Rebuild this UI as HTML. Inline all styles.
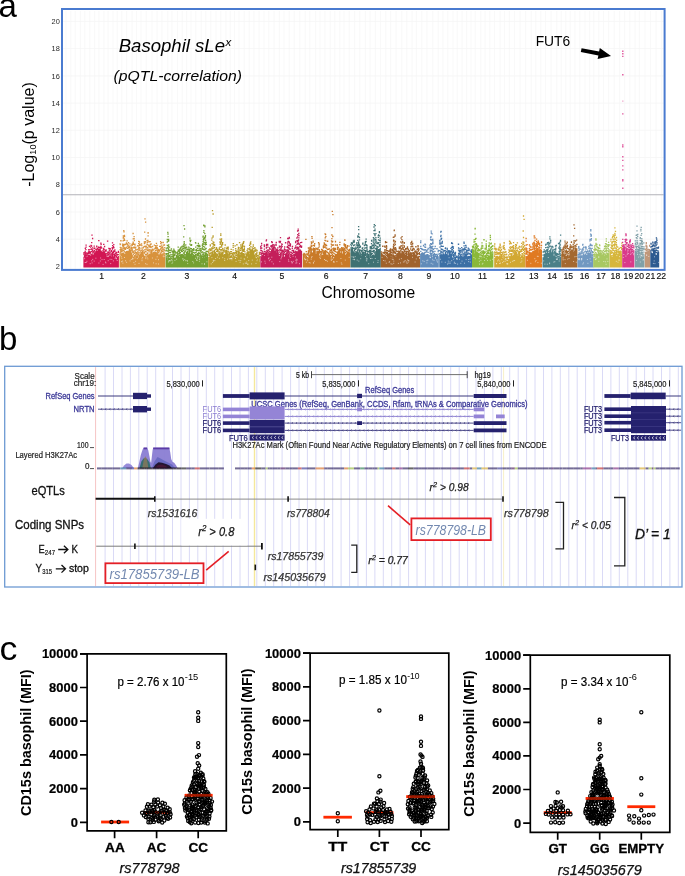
<!DOCTYPE html>
<html><head><meta charset="utf-8">
<style>
html,body{margin:0;padding:0;background:#fff;}
svg{display:block;font-family:"Liberation Sans", sans-serif;will-change:transform;}
</style></head><body>
<svg width="685" height="876" viewBox="0 0 685 876">
<rect width="685" height="876" fill="#fff"/>
<text x="-1.5" y="17.3" font-size="33">a</text>
<path d="M63 239.2H663.6M63 212H663.6M63 184.7H663.6M63 157.5H663.6M63 130.3H663.6M63 103.1H663.6M63 75.9H663.6M63 48.6H663.6M63 21.4H663.6" stroke="#f5f5f5" stroke-width="0.8" fill="none"/>
<path d="M66 11V268.9M70.7 11V268.9M75.2 11V268.9M80.4 11V268.9M84.7 11V268.9M89.8 11V268.9M94.6 11V268.9M98.9 11V268.9M103.9 11V268.9M108.1 11V268.9M113 11V268.9M117.3 11V268.9M121.7 11V268.9M126.6 11V268.9M132.1 11V268.9M136.5 11V268.9M141 11V268.9M146.2 11V268.9M152 11V268.9M157.1 11V268.9M161.9 11V268.9M167.7 11V268.9M171.9 11V268.9M177.5 11V268.9M182.2 11V268.9M186.6 11V268.9M191 11V268.9M195.7 11V268.9M201.2 11V268.9M205.7 11V268.9M210.8 11V268.9M216 11V268.9M220.8 11V268.9M225.9 11V268.9M230.2 11V268.9M234.5 11V268.9M239 11V268.9M244.3 11V268.9M249.2 11V268.9M253.9 11V268.9M259.1 11V268.9M264 11V268.9M268.7 11V268.9M274.1 11V268.9M279.4 11V268.9M284 11V268.9M289.2 11V268.9M294.2 11V268.9M299.8 11V268.9M305.2 11V268.9M309.8 11V268.9M315.6 11V268.9M320 11V268.9M324.9 11V268.9M330.3 11V268.9M334.7 11V268.9M339.7 11V268.9M344 11V268.9M349.2 11V268.9M354.6 11V268.9M359.8 11V268.9M365.4 11V268.9M370.1 11V268.9M375.4 11V268.9M380.5 11V268.9M385.7 11V268.9M390.6 11V268.9M396.1 11V268.9M401.8 11V268.9M406.8 11V268.9M412.1 11V268.9M416.4 11V268.9M421.7 11V268.9M426.9 11V268.9M432.7 11V268.9M438.2 11V268.9M442.9 11V268.9M447.7 11V268.9M453 11V268.9M457.2 11V268.9M462.1 11V268.9M466.6 11V268.9M471 11V268.9M475.3 11V268.9M480.7 11V268.9M485.1 11V268.9M489.7 11V268.9M494.5 11V268.9M500.1 11V268.9M504.5 11V268.9M509.4 11V268.9M514.5 11V268.9M520.1 11V268.9M525.6 11V268.9M531.2 11V268.9M535.8 11V268.9M540.7 11V268.9M545.5 11V268.9M551.1 11V268.9M556.8 11V268.9M561.2 11V268.9M565.7 11V268.9M570.3 11V268.9M574.9 11V268.9M579.8 11V268.9M585 11V268.9M589.6 11V268.9M593.8 11V268.9M598.7 11V268.9M603.5 11V268.9M608.6 11V268.9M614.3 11V268.9M619.6 11V268.9M624.6 11V268.9M629.8 11V268.9M635.1 11V268.9M639.4 11V268.9M645 11V268.9M650.5 11V268.9M656.1 11V268.9M661.6 11V268.9" stroke="#f6f6f6" stroke-width="0.7" fill="none"/>
<path d="M63 194.7H663.6" stroke="#b2b2b8" stroke-width="1.1" fill="none"/>
<text x="59.8" y="269" font-size="7.4" fill="#2a2a2a" text-anchor="end">2</text>
<text x="59.8" y="241.8" font-size="7.4" fill="#2a2a2a" text-anchor="end">4</text>
<text x="59.8" y="214.6" font-size="7.4" fill="#2a2a2a" text-anchor="end">6</text>
<text x="59.8" y="187.3" font-size="7.4" fill="#2a2a2a" text-anchor="end">8</text>
<text x="59.8" y="160.1" font-size="7.4" fill="#2a2a2a" text-anchor="end">10</text>
<text x="59.8" y="132.9" font-size="7.4" fill="#2a2a2a" text-anchor="end">12</text>
<text x="59.8" y="105.7" font-size="7.4" fill="#2a2a2a" text-anchor="end">14</text>
<text x="59.8" y="78.5" font-size="7.4" fill="#2a2a2a" text-anchor="end">16</text>
<text x="59.8" y="51.2" font-size="7.4" fill="#2a2a2a" text-anchor="end">18</text>
<text x="59.8" y="24" font-size="7.4" fill="#2a2a2a" text-anchor="end">20</text>
<text transform="translate(34.2,134.5) rotate(-90)" font-size="16" text-anchor="middle">-Log<tspan font-size="9.2" dy="2.2">10</tspan><tspan dy="-2.2">(p value)</tspan></text>
<text x="118.7" y="52" font-size="18.5" font-style="italic" textLength="106.3" lengthAdjust="spacingAndGlyphs">Basophil sLe</text>
<text x="225.6" y="45.5" font-size="11.5" font-style="italic">x</text>
<text x="113.6" y="81.3" font-size="15.4" font-style="italic" textLength="128.5" lengthAdjust="spacingAndGlyphs">(pQTL-correlation)</text>
<text x="535.7" y="46.3" font-size="14.5" textLength="34.5" lengthAdjust="spacingAndGlyphs">FUT6</text>
<path d="M581.6 48.2L599.1 51.6L599.8 47.9L611 55.9L597.6 59.1L598.4 55.4L580.8 52Z" fill="#000"/>
<text x="101.6" y="279.1" font-size="8.6" fill="#111" text-anchor="middle" stroke="#111" stroke-width="0.15">1</text>
<text x="143.4" y="279.1" font-size="8.6" fill="#111" text-anchor="middle" stroke="#111" stroke-width="0.15">2</text>
<text x="186.8" y="279.1" font-size="8.6" fill="#111" text-anchor="middle" stroke="#111" stroke-width="0.15">3</text>
<text x="234.6" y="279.1" font-size="8.6" fill="#111" text-anchor="middle" stroke="#111" stroke-width="0.15">4</text>
<text x="281.8" y="279.1" font-size="8.6" fill="#111" text-anchor="middle" stroke="#111" stroke-width="0.15">5</text>
<text x="326.1" y="279.1" font-size="8.6" fill="#111" text-anchor="middle" stroke="#111" stroke-width="0.15">6</text>
<text x="365.7" y="279.1" font-size="8.6" fill="#111" text-anchor="middle" stroke="#111" stroke-width="0.15">7</text>
<text x="400.3" y="279.1" font-size="8.6" fill="#111" text-anchor="middle" stroke="#111" stroke-width="0.15">8</text>
<text x="428.8" y="279.1" font-size="8.6" fill="#111" text-anchor="middle" stroke="#111" stroke-width="0.15">9</text>
<text x="454.9" y="279.1" font-size="8.6" fill="#111" text-anchor="middle" stroke="#111" stroke-width="0.15">10</text>
<text x="482.5" y="279.1" font-size="8.6" fill="#111" text-anchor="middle" stroke="#111" stroke-width="0.15">11</text>
<text x="509.9" y="279.1" font-size="8.6" fill="#111" text-anchor="middle" stroke="#111" stroke-width="0.15">12</text>
<text x="533.7" y="279.1" font-size="8.6" fill="#111" text-anchor="middle" stroke="#111" stroke-width="0.15">13</text>
<text x="552" y="279.1" font-size="8.6" fill="#111" text-anchor="middle" stroke="#111" stroke-width="0.15">14</text>
<text x="568.3" y="279.1" font-size="8.6" fill="#111" text-anchor="middle" stroke="#111" stroke-width="0.15">15</text>
<text x="584.6" y="279.1" font-size="8.6" fill="#111" text-anchor="middle" stroke="#111" stroke-width="0.15">16</text>
<text x="601" y="279.1" font-size="8.6" fill="#111" text-anchor="middle" stroke="#111" stroke-width="0.15">17</text>
<text x="615.4" y="279.1" font-size="8.6" fill="#111" text-anchor="middle" stroke="#111" stroke-width="0.15">18</text>
<text x="628.4" y="279.1" font-size="8.6" fill="#111" text-anchor="middle" stroke="#111" stroke-width="0.15">19</text>
<text x="639.3" y="279.1" font-size="8.6" fill="#111" text-anchor="middle" stroke="#111" stroke-width="0.15">20</text>
<text x="650.4" y="279.1" font-size="8.6" fill="#111" text-anchor="middle" stroke="#111" stroke-width="0.15">21</text>
<text x="661.2" y="279.1" font-size="8.6" fill="#111" text-anchor="middle" stroke="#111" stroke-width="0.15">22</text>
<text x="321.5" y="298.2" font-size="15.6" textLength="93.7" lengthAdjust="spacingAndGlyphs">Chromosome</text>
<path d="M84 267.4V256.8M84.7 267.4V257.9M85.3 267.4V253M86 267.4V257.2M86.8 267.4V253.5M87.5 267.4V256.5M88.5 267.4V254.5M89.4 267.4V254.7M90.1 267.4V255.3M90.8 267.4V256M91.7 267.4V253.8M92.7 267.4V254.2M93.3 267.4V254.6M94.4 267.4V252.9M95.3 267.4V252.5M96 267.4V250.8M96.8 267.4V249.1M97.5 267.4V250.7M98.5 267.4V248.6M99.2 267.4V248.9M100.2 267.4V248M101 267.4V250.4M101.8 267.4V251.3M102.8 267.4V251.6M103.8 267.4V250.9M104.6 267.4V251.2M105.4 267.4V253.2M106.1 267.4V257.1M106.9 267.4V253.1M107.8 267.4V257.1M108.4 267.4V257.2M109.1 267.4V253.2M110.1 267.4V256M110.8 267.4V253.7M111.8 267.4V256.9M112.4 267.4V252M113.4 267.4V256.4M114 267.4V253.5M115 267.4V253.5M115.6 267.4V258M116.6 267.4V259.3M117.4 267.4V256.9M118.3 267.4V256.1" stroke="#d21653" stroke-width="1.2" fill="none"/>
<path d="M84 254.7h0M83.8 253h0M84.6 256.3h0M84.8 255.1h0M84.6 253.1h0M84.9 252.6h0M85.2 251.3h0M85.3 248.3h0M86.1 255.3h0M86 253h0M85.9 249.7h0M86.1 247.1h0M86.1 245.2h0M86.8 253.2h0M87.5 255.2h0M87.4 253.6h0M87.4 253.1h0M88.6 253.3h0M88.5 252h0M88.6 249.9h0M89.2 252.2h0M89.3 251.3h0M89.2 249.7h0M89.5 246.4h0M90 253.5h0M90.1 252.7h0M91 254.8h0M90.6 252.9h0M90.7 251.9h0M90.9 249.4h0M90.6 247.2h0M91 245.3h0M91.7 251.3h0M91.6 249h0M91.5 246h0M91.6 246h0M92.8 253h0M92.6 250h0M92.7 247.8h0M93.1 252.6h0M93.2 251.4h0M94.5 252h0M94.2 248.5h0M94.2 246.1h0M95.3 252.1h0M96 249.4h0M95.9 249.4h0M96.8 246.8h0M96.7 246.2h0M97.3 249.2h0M97.4 248.7h0M99.4 247.7h0M99.2 247.5h0M100.2 247.6h0M101.2 247.6h0M100.9 246.4h0M101.1 244.3h0M100.9 243.2h0M101.8 248.1h0M103 250.3h0M103.7 249.5h0M103.7 248.5h0M103.7 244.3h0M103.8 244.3h0M104.5 249.9h0M104.6 246.5h0M105.6 251.1h0M105.6 250.6h0M105.9 255.9h0M106 253.3h0M106.1 251h0M106.1 249.9h0M107.7 255.2h0M107.9 253.7h0M107.8 252.7h0M108 252h0M108.6 254.7h0M108.4 252.7h0M109.3 250.8h0M108.9 248.5h0M109.9 253.4h0M109.9 252.3h0M110 250h0M110.2 248.7h0M110.9 251.9h0M111.9 256h0M111.7 254h0M111.8 251.4h0M111.6 250.6h0M112.4 249h0M112.2 247.6h0M112.6 245.7h0M112.5 242.8h0M113.5 254.2h0M113.4 252.4h0M113.6 251.2h0M113.6 247.9h0M113.5 246.6h0M114.2 250.8h0M113.9 247.6h0M113.8 244.7h0M114.9 251.5h0M114.9 249.8h0M115.5 255.7h0M115.6 253.6h0M115.6 253.1h0M116.5 257.2h0M116.6 256.2h0M116.6 254h0M116.6 252.4h0M117.2 254.8h0M117.4 254.7h0M118.2 254.6h0M118.3 252.3h0M118.5 251.4h0M92 235.1h0M92.6 238.5h0M91.7 242.6h0" stroke="#d21653" stroke-width="1.3" stroke-linecap="square" fill="none"/>
<path d="M94.7 248.3h0M98.4 247.2h0M94.5 250.6h0M98.8 240.6h0M107.6 241.1h0" stroke="#d21653" stroke-width="1.4" stroke-linecap="square" fill="none"/>
<path d="M105.5 262.1h0M103.1 264.4h0M94.2 261.1h0M104.2 259.5h0M100.3 261h0M91.7 260.8h0M115.2 258.4h0M90.2 263.7h0M102 259.6h0M95.9 258.2h0M110.1 259.3h0M92.1 262.9h0M85.2 262.5h0M100.6 258h0M86.9 261.3h0M105.9 262.9h0M108.2 260.7h0M92.7 259.4h0M84.6 258.7h0M110.7 263.6h0M98.9 263h0M117.2 260.5h0M86.1 262.5h0M113.4 260.9h0M111.8 259.4h0" stroke="#fff" stroke-opacity="0.55" stroke-width="1" stroke-linecap="square" fill="none"/>
<path d="M120.1 267.4V252.1M120.9 267.4V256.3M121.6 267.4V253.3M122.4 267.4V252.8M123.3 267.4V252.5M123.9 267.4V253.2M124.5 267.4V253.9M125.4 267.4V253.3M126.3 267.4V250.9M127.3 267.4V250.7M128.3 267.4V250.8M129.3 267.4V248.4M130.1 267.4V248.8M130.8 267.4V250M131.6 267.4V252.8M132.3 267.4V255M133.2 267.4V256.7M134.2 267.4V254.7M134.9 267.4V258.4M135.8 267.4V253.6M136.8 267.4V256M137.8 267.4V252.5M138.6 267.4V257.6M139.5 267.4V255.1M140.1 267.4V254M140.9 267.4V252M141.7 267.4V251.7M142.6 267.4V251.1M143.4 267.4V254.2M144.4 267.4V255.7M145.3 267.4V257.6M146.2 267.4V256.2M147.2 267.4V257.8M148 267.4V255M148.9 267.4V253.8M150 267.4V253.5M151 267.4V249.5M152 267.4V249.2M152.7 267.4V253.2M153.5 267.4V251.8M154.5 267.4V251.4M155.4 267.4V251.4M156.4 267.4V252.3M157.3 267.4V249.8M158.2 267.4V253.6M158.9 267.4V254.9M159.8 267.4V253.5M160.8 267.4V252.2M161.4 267.4V254.2M162.3 267.4V253.5M163.1 267.4V257.2M164 267.4V251.9M164.7 267.4V256.9" stroke="#d8923c" stroke-width="1.2" fill="none"/>
<path d="M120.2 249.7h0M120.3 247.3h0M120.3 244.6h0M120.1 243.8h0M120.9 254.1h0M120.8 252h0M120.8 250.9h0M120.8 249.4h0M120.7 249h0M121.6 251.6h0M121.5 249.6h0M121.7 247.8h0M122.2 251h0M122.5 249.2h0M122.6 245.7h0M122.5 244.1h0M123.1 250.6h0M123.4 248.9h0M123.1 246.8h0M123.1 244.3h0M123.1 240.9h0M123.3 238.2h0M123.3 237.3h0M123.3 235.9h0M123.9 250.6h0M124 247.7h0M123.7 246h0M123.9 245.1h0M123.8 240.4h0M124 236.4h0M124 231.9h0M123.8 230.6h0M124.4 251.8h0M124.6 249.2h0M124.6 247.8h0M124.4 244.5h0M124.7 240.4h0M124.3 239h0M124.6 236.6h0M124.5 235.5h0M125.5 252.3h0M125.5 249.3h0M125.6 248.1h0M125.4 244.7h0M125.4 244.3h0M126.3 247.4h0M126.3 243.7h0M126.4 243h0M127.3 248.4h0M127.4 246.1h0M127.4 244.3h0M127.1 240.8h0M128.2 248.2h0M128.4 247.3h0M128.2 245.9h0M128.2 245.1h0M129.5 247.6h0M129.4 246.9h0M130.1 245.9h0M129.9 243.9h0M130.8 248.2h0M131.6 250.2h0M131.5 248.7h0M131.5 247.2h0M131.8 245h0M132.3 252.2h0M132.2 250.6h0M132.2 249.3h0M132.1 247.9h0M132.2 245.3h0M132.4 244h0M133.3 254.4h0M133.2 252.6h0M133.1 251.3h0M133.2 247.9h0M133.2 244.3h0M133.3 243.2h0M133.1 242.2h0M133.2 238.8h0M133.1 233.5h0M134.2 252.8h0M134.3 250.9h0M134.1 247.3h0M134.2 244.3h0M134.4 240.5h0M134.1 238.7h0M134.1 236.7h0M134.8 256.8h0M134.9 255.6h0M134.8 253.4h0M135 251h0M134.9 248h0M135 245h0M134.9 244.1h0M135.7 252.4h0M135.8 249.7h0M135.6 248h0M135.8 247.1h0M136.8 255.1h0M136.7 253.6h0M137 252.6h0M136.8 249.8h0M137.9 251.6h0M137.9 249.5h0M137.7 245.9h0M137.9 245.7h0M138.8 255.8h0M138.7 254.3h0M138.8 252.9h0M138.7 250.1h0M138.6 248h0M138.8 246.1h0M138.6 243.7h0M138.7 241.3h0M139.5 252.8h0M139.4 250.2h0M139.6 247.7h0M139.6 245.4h0M139.7 244.1h0M139.4 242h0M140.3 251h0M140 248.9h0M140.1 245.4h0M140.1 244.7h0M141 250.8h0M141.8 250.1h0M141.9 248.1h0M141.8 245.6h0M141.6 244h0M142.5 249.9h0M143.5 253h0M143.3 250.8h0M143.2 247.8h0M143.5 247.2h0M144.4 253h0M144.4 252.1h0M144.5 249.8h0M144.4 246.3h0M144.4 243.6h0M144.3 242h0M145.3 256.2h0M145.4 254.3h0M145.4 251.6h0M145.2 249.8h0M145.4 246.8h0M145.1 242.8h0M145.3 241.7h0M145.5 239h0M146.3 254.6h0M146 251.8h0M146.1 248.9h0M146.1 246.9h0M146.2 246.2h0M147.3 256.6h0M147.1 255.6h0M147.1 254.3h0M147.3 253.4h0M147.2 250.5h0M147.1 249.3h0M147.2 247.4h0M147.1 244.3h0M147.3 242.5h0M147.1 240.8h0M147.1 240.7h0M147.9 252.9h0M148.1 250.7h0M147.8 247.8h0M148 244.9h0M147.9 240.5h0M148.1 235.9h0M148.1 233h0M148.1 232.6h0M149 251h0M148.9 249.3h0M149 246.7h0M148.9 245.6h0M148.8 241.9h0M149 241.8h0M150.1 252.1h0M150.1 250h0M149.9 247h0M150.2 245.8h0M150.2 244.4h0M150.1 241.7h0M151.1 247.5h0M151 246.7h0M151.1 244.2h0M151.1 243.9h0M152.6 250.2h0M152.8 249.2h0M152.6 246.5h0M153.3 250h0M154.6 248.8h0M154.4 245.2h0M155.4 250.3h0M155.6 248.3h0M155.4 247.3h0M155.6 245.6h0M156.6 250.1h0M156.4 248.2h0M156.2 246.8h0M156.4 243.4h0M157.4 248.9h0M157.1 247.4h0M157.1 245.4h0M158.2 250.8h0M158.4 249.6h0M158.4 249.4h0M158.7 252.7h0M159 251.9h0M158.8 250.4h0M158.7 250h0M159.8 250.9h0M159.8 249.8h0M159.7 246.3h0M160.6 249h0M160.8 246.6h0M160.8 243.3h0M160.6 241.7h0M161.4 252h0M161.6 250.3h0M161.4 248h0M161.3 245.1h0M161.6 242.7h0M162.2 251.6h0M162.3 249.9h0M162.2 247.8h0M162.4 246.9h0M162.9 255.1h0M163.2 254h0M163.1 251.4h0M163.1 249h0M162.9 247.2h0M163.2 245.1h0M163.2 242.5h0M164 250.2h0M164.1 249.4h0M164.8 255.5h0M164.8 253.6h0M164.9 250.8h0M164.8 247.7h0M164.5 245h0M145 218.8h0M145.6 222.2h0M144.7 232.2h0" stroke="#d8923c" stroke-width="1.3" stroke-linecap="square" fill="none"/>
<path d="M157.1 248.2h0M128.5 242.8h0M134.2 247.3h0M120.9 240.8h0M145.5 246.5h0M126.8 243.7h0" stroke="#d8923c" stroke-width="1.4" stroke-linecap="square" fill="none"/>
<path d="M121.9 258.3h0M130.1 260.9h0M135.6 261.3h0M152.4 258h0M145.6 263.7h0M122.9 263.1h0M147.8 258.9h0M132.6 259h0M142 260.7h0M132.6 258.2h0M125.6 260.8h0M133.1 258.8h0M142 258.9h0M122.6 261.1h0M147 264.3h0M133.9 262.6h0M126.6 262.3h0M135 264.3h0M153.5 262.9h0M137.3 258.6h0M142.6 257.6h0M156.1 263.8h0M158.5 264h0M121.4 256.8h0M158.5 259.7h0M145.8 258.6h0M139 263.4h0M121.5 261.7h0M155.9 259.3h0M157.2 256.8h0M124.5 257.5h0M131.3 259.5h0" stroke="#fff" stroke-opacity="0.55" stroke-width="1" stroke-linecap="square" fill="none"/>
<path d="M166.2 267.4V255.9M167.1 267.4V257.7M168 267.4V259.4M168.6 267.4V255.5M169.6 267.4V257.8M170.3 267.4V257.2M171.1 267.4V259.8M172.1 267.4V261M172.9 267.4V258.4M173.6 267.4V254.3M174.3 267.4V257.8M175.3 267.4V257.4M176.4 267.4V255.1M177.3 267.4V252.1M178.2 267.4V256M178.8 267.4V255.1M179.7 267.4V257M180.5 267.4V254.3M181.5 267.4V253.9M182.4 267.4V254M183.4 267.4V254.5M184.2 267.4V251.5M184.9 267.4V256.5M185.8 267.4V254.1M186.6 267.4V252.1M187.4 267.4V251M188.2 267.4V252.9M188.9 267.4V249.1M189.8 267.4V249.1M190.6 267.4V254M191.5 267.4V252.3M192.4 267.4V255.5M193.1 267.4V253.8M193.8 267.4V254.6M194.7 267.4V255.1M195.6 267.4V259M196.4 267.4V259.4M197.3 267.4V258.5M198.3 267.4V257M199 267.4V255.3M199.9 267.4V259.4M200.7 267.4V253.8M201.4 267.4V255.2M202.4 267.4V257.7M203.1 267.4V252.4M203.8 267.4V255.6M204.7 267.4V257.5M205.4 267.4V252.3M206.2 267.4V257M206.8 267.4V254.3M207.5 267.4V254" stroke="#74a032" stroke-width="1.2" fill="none"/>
<path d="M166.2 254.7h0M166.2 253.7h0M166.1 250.6h0M166.3 248.8h0M167.2 255.8h0M167 253.6h0M167.1 250.9h0M167.2 247.7h0M167.3 245.3h0M167.2 242.1h0M167.3 239.5h0M167.9 258.2h0M168 257.2h0M168 255.9h0M168.1 254.9h0M168.1 253.9h0M168 251h0M168 248.6h0M168.1 245.9h0M168 241.4h0M168.1 236.7h0M168 234h0M167.8 232.4h0M168.5 253.6h0M168.6 252.2h0M168.7 250.1h0M168.6 248.8h0M168.6 247h0M168.7 244.9h0M168.7 240.8h0M168.5 239.6h0M168.6 239.5h0M169.6 256.4h0M169.5 255.3h0M169.7 252.3h0M169.6 250.4h0M169.5 247.1h0M170.4 254.9h0M170.4 252.5h0M170.3 250.4h0M171.3 258.7h0M171 257.2h0M170.9 256.8h0M172.2 259.2h0M172 258.3h0M171.9 256.3h0M171.9 254.7h0M172.2 251.9h0M171.9 250.7h0M172.9 257.2h0M173 255.9h0M172.9 254.1h0M173 252.5h0M173 251.6h0M173.6 252.8h0M173.8 250.6h0M173.8 249.2h0M174.3 255.5h0M174.4 254.5h0M174.2 251.6h0M174.2 250.5h0M175.2 254.9h0M175.3 253h0M175.1 252.1h0M175.2 251.4h0M176.5 252.9h0M177.4 251.9h0M178 254.2h0M178.1 253.2h0M178.2 250.2h0M178.2 247.1h0M178.8 254.2h0M178.8 251.4h0M179 250.9h0M179.5 255.7h0M179.7 254h0M179.7 252.6h0M179.5 250h0M179.5 249.5h0M180.5 252.6h0M180.7 250h0M180.3 248.4h0M180.5 248h0M181.4 251.3h0M181.5 250.3h0M181.3 246.9h0M181.4 246.9h0M182.4 251.3h0M182.2 249.6h0M182.2 248.1h0M182.4 246.2h0M183.4 253.2h0M183.6 250.3h0M183.3 248.5h0M183.6 246.3h0M183.6 244.8h0M184.2 248h0M184.3 244.2h0M184.2 243.1h0M184.2 241.7h0M184.9 254.5h0M184.9 252h0M185.1 251.1h0M185.1 249.2h0M185.1 247.5h0M184.8 245.8h0M185.7 250.9h0M185.9 248.2h0M185.6 247.3h0M185.8 244.8h0M186.8 249.4h0M186.7 247.3h0M186.6 247.1h0M187.5 249.9h0M187.3 249.3h0M188.1 249.4h0M188.2 248.8h0M188.7 247.2h0M189.8 248.1h0M189.9 244.1h0M190 240.1h0M189.9 238.1h0M190.4 251.2h0M190.6 248.7h0M190.6 245.1h0M190.4 241.7h0M190.8 240.4h0M191.7 251.3h0M191.5 248.6h0M191.5 245.4h0M191.6 244.7h0M192.3 254.6h0M192.3 253.4h0M192.5 251.8h0M192.6 249.9h0M192.6 249.6h0M193.1 252.6h0M193.1 250.4h0M193.3 249.7h0M193.9 252.3h0M193.9 250h0M193.6 249h0M193.8 248.6h0M194.7 253.1h0M195.7 257h0M195.4 255.6h0M195.6 254.7h0M195.5 252.7h0M195.5 250.2h0M195.7 247.1h0M195.8 243.1h0M195.5 242.7h0M196.3 258.3h0M196.4 257h0M196.3 255h0M196.3 252.2h0M196.5 250.5h0M196.5 249.7h0M197.4 257.6h0M197.4 255.9h0M197.2 254.7h0M197.3 253.7h0M197.3 250.7h0M197.3 248.4h0M197.2 245.7h0M198.3 255.5h0M198.3 254.2h0M198.3 253.2h0M198.2 250.4h0M198.3 246.5h0M198.4 245.2h0M198.4 243.3h0M199 253.4h0M198.9 252.5h0M199 250.7h0M199.1 248.5h0M198.9 246.7h0M200 258.1h0M200 256.4h0M200 255h0M200 253.3h0M199.9 250h0M200 246.6h0M199.7 245.4h0M200.7 251h0M200.7 248.6h0M201.2 252.5h0M201.2 250.5h0M202.5 256.6h0M202.5 254.9h0M202.6 252h0M202.2 249.1h0M202.3 247.8h0M202.5 245.8h0M202.3 245.2h0M203.2 249.4h0M203.2 246.5h0M203 243.3h0M203.1 241.3h0M203.3 239.4h0M203 237h0M203.2 236.2h0M203.9 254.6h0M204 252.9h0M204 249.8h0M203.7 246.4h0M203.9 244.4h0M203.8 242.1h0M203.8 240.1h0M203.8 238.3h0M203.9 232.3h0M203.9 230.6h0M203.7 225.7h0M203.8 225.2h0M204.8 256.5h0M204.7 255.6h0M204.7 252.8h0M204.9 249.5h0M204.6 247.1h0M204.6 242.6h0M204.9 238.8h0M204.7 237.5h0M204.8 233.6h0M204.9 226.8h0M204.9 226h0M205.6 248.8h0M205.5 244.8h0M205.4 244h0M205.6 242.7h0M205.6 240.5h0M205.4 237h0M205.5 235.7h0M206.1 255.3h0M206.3 254.1h0M206.2 251.3h0M206.1 248.3h0M206.4 244.4h0M206.2 242.5h0M206.8 253.2h0M206.7 253.1h0M207.3 251.4h0M207.6 251.4h0M184 225.6h0M184.6 229h0M183.7 236.9h0" stroke="#74a032" stroke-width="1.3" stroke-linecap="square" fill="none"/>
<path d="M171.4 249h0M183.1 246.6h0M202.9 244.2h0M179.2 251.4h0M203.8 249.2h0M191.6 250.1h0" stroke="#74a032" stroke-width="1.4" stroke-linecap="square" fill="none"/>
<path d="M172 263.3h0M197 260.2h0M183.5 260.6h0M185.7 260.7h0M193.6 262.9h0M176.6 259.2h0M202 263.8h0M184.7 259.6h0M169.8 260.5h0M169.1 260.6h0M187.1 260.5h0M172.7 262.1h0M187.7 263.6h0M174.9 260.4h0M170.3 260.9h0M199.4 261.3h0M187.4 261.2h0M168.9 261.2h0M199.4 259.4h0M182.7 258.8h0M196.9 260.4h0M168.4 262h0M169.2 257.6h0M204.5 263.9h0M204.5 264.1h0M183.2 259.1h0M197.7 257.7h0M192.8 261.5h0M206.9 261.8h0" stroke="#fff" stroke-opacity="0.55" stroke-width="1" stroke-linecap="square" fill="none"/>
<path d="M208.8 267.4V257.1M209.5 267.4V258.4M210.2 267.4V255.7M211 267.4V255M211.9 267.4V251.4M212.9 267.4V250.7M213.7 267.4V253.7M214.4 267.4V249.9M215.5 267.4V252M216.4 267.4V253.2M217.4 267.4V253.8M218.2 267.4V255.5M219.2 267.4V250.7M220 267.4V252.7M220.8 267.4V253.4M221.6 267.4V252.6M222.6 267.4V252.1M223.4 267.4V255M224.1 267.4V254M225 267.4V254.1M225.8 267.4V250.6M226.5 267.4V249.6M227.3 267.4V252.2M228.2 267.4V253.6M229 267.4V258.4M229.9 267.4V258.6M230.6 267.4V258.9M231.3 267.4V259M232.2 267.4V258.5M233.1 267.4V258.1M233.8 267.4V255.1M234.8 267.4V256.2M235.7 267.4V258.9M236.3 267.4V257.1M237 267.4V257.6M237.9 267.4V253.9M238.5 267.4V251.1M239.2 267.4V254.9M239.8 267.4V251.8M240.7 267.4V254.3M241.6 267.4V252M242.3 267.4V252.2M243.4 267.4V253M244.3 267.4V253.8M245.2 267.4V256.2M246.1 267.4V253.4M247.1 267.4V251.7M247.9 267.4V250.8M248.8 267.4V251.5M249.5 267.4V254.3M250.2 267.4V248.4M250.9 267.4V249.7M251.7 267.4V249.2M252.5 267.4V248.6M253.4 267.4V250.6M254.2 267.4V254.7M255 267.4V255M255.9 267.4V257.6M256.9 267.4V258.2M257.6 267.4V259.6M258.6 267.4V256.5M259.4 267.4V261.2" stroke="#b89c2a" stroke-width="1.2" fill="none"/>
<path d="M208.8 255.1h0M208.7 252.9h0M208.8 251.7h0M208.8 250h0M209.5 257.2h0M209.5 255.4h0M209.3 253.9h0M210.2 253.3h0M210.4 250.6h0M210.1 249.7h0M210 248.6h0M210.3 245.8h0M210.3 245h0M211 254.1h0M211.1 252.6h0M210.9 250h0M211.9 250.2h0M211.8 248.7h0M212 247.6h0M212 243.7h0M211.8 240.2h0M212 238.1h0M212.7 248.6h0M213 246.5h0M213 243.9h0M213 241.8h0M213 237.2h0M213.1 235.9h0M213.9 251.4h0M213.6 248.1h0M213.6 244.8h0M213.8 242.9h0M213.9 242.3h0M214.6 247.6h0M214.6 245.6h0M214.6 244.7h0M214.3 244.6h0M215.3 249.6h0M215.5 249.3h0M216.3 251.4h0M216.4 249.2h0M216.6 248h0M216.5 247.7h0M217.3 251.7h0M217.3 250.4h0M217.5 249.3h0M218.3 253.9h0M218.3 251.9h0M218.1 250.3h0M219.3 249.4h0M219.3 248.1h0M219.3 247.8h0M220.2 249.7h0M220.1 246.8h0M220.2 244.4h0M220.1 242.6h0M220 241.8h0M220.1 239.2h0M220.1 239.1h0M220.9 252.6h0M221 251h0M221 250.2h0M221 247.3h0M220.7 243.2h0M220.7 241.9h0M220.9 240.2h0M220.8 235.3h0M220.8 233.9h0M221.7 249.6h0M221.7 246h0M221.6 244.8h0M221.4 241.8h0M221.5 240.9h0M221.6 239h0M222.4 249.8h0M222.7 248.4h0M222.6 244.5h0M222.4 243.5h0M222.7 242.6h0M223.5 252.9h0M223.4 250.6h0M224 251.2h0M224 249.3h0M225.2 252.1h0M225 251.1h0M224.9 247.9h0M225.2 245h0M226.7 248.3h0M227.4 251.2h0M227.4 248.1h0M227.2 247.3h0M228.1 252h0M228.1 251.2h0M228.1 249.3h0M228.1 248.1h0M228.2 247.2h0M229 257.4h0M229 256h0M229 254.7h0M229.2 253.6h0M229.2 252.2h0M229.8 257.6h0M229.7 255.9h0M229.8 254.3h0M229.7 253.1h0M230.5 257.3h0M230.5 256.3h0M230.5 253.7h0M230.7 251.7h0M231.5 257h0M231.3 256h0M231.2 253.3h0M231.5 251.7h0M231.2 249.3h0M232.2 257.3h0M232.2 255.1h0M232.3 254.1h0M232.3 253.3h0M233.2 256.6h0M233.1 255h0M233.3 252.7h0M233.1 249.8h0M233.2 247.4h0M233.2 245.7h0M233.3 243.7h0M233.8 253.9h0M234.7 253.8h0M234.8 252.6h0M235.6 257.1h0M235.5 255.2h0M235.8 252.3h0M235.8 250.4h0M235.7 248.6h0M236.3 255.4h0M236.3 253.3h0M236.4 251.6h0M236.3 251.1h0M237.2 256.1h0M237.2 255h0M237 253.9h0M236.9 252.8h0M237.8 251.5h0M238 249.9h0M238.4 248.3h0M238.4 247.3h0M239.1 252h0M239.1 250h0M239.2 247.8h0M239.8 250.2h0M240.6 253.3h0M240.6 250.3h0M240.7 248.5h0M240.9 246.8h0M240.8 245h0M241.6 248.9h0M241.7 247.4h0M242.2 251.1h0M242.4 249.8h0M242.3 247.3h0M242.3 246h0M242.4 244.5h0M242.4 243.8h0M243.4 251.4h0M243.3 250.5h0M243.2 249.6h0M243.6 246.2h0M243.4 243.5h0M243.3 242.3h0M244.3 251.1h0M244.4 249.5h0M244.3 248.2h0M244.5 246.5h0M245.1 253.8h0M245 251.9h0M247.1 250.3h0M247.7 248.9h0M248.7 248.9h0M248.7 248.8h0M249.4 252.2h0M249.4 249.5h0M249.7 247.8h0M249.6 245.4h0M250.3 244.2h0M250.3 243.1h0M250.9 246.7h0M250.8 243.8h0M250.8 241.9h0M252.3 247.9h0M253.5 248.4h0M253.2 246.4h0M253.3 244.9h0M254.2 252h0M254.2 250.2h0M254.9 254.1h0M255 251.4h0M255.2 250.2h0M254.8 248.1h0M254.9 247.7h0M256.1 256.5h0M256 255.2h0M255.9 253.8h0M255.8 250.9h0M255.9 249.4h0M256.7 256.3h0M256.7 254.5h0M256.9 253.2h0M256.9 252.4h0M257.1 250.5h0M257.7 258.3h0M257.6 257.4h0M257.5 255.7h0M258.5 256h0M259.5 260h0M259.3 258.4h0M259.5 257h0M259.3 254.7h0M259.5 253.6h0M259.4 252.3h0M212.5 210.6h0M213.1 214h0M212.2 227.4h0" stroke="#b89c2a" stroke-width="1.3" stroke-linecap="square" fill="none"/>
<path d="M225 250.4h0M223.1 251.1h0M236.9 244.8h0M239.6 242.6h0M243.8 241.7h0M242.2 248.4h0M235.1 245.9h0" stroke="#b89c2a" stroke-width="1.4" stroke-linecap="square" fill="none"/>
<path d="M246.7 262.1h0M211.9 257.6h0M257 260.7h0M214.8 260.6h0M239 260.4h0M258.2 257h0M256 263.4h0M252.3 260.1h0M227.5 259.2h0M247.4 257.2h0M247.8 264.2h0M212.6 262.4h0M211.2 263.9h0M248.7 260.6h0M240.7 260.6h0M230 259.1h0M213.3 260.3h0M240.1 262.3h0M224.7 260.5h0M219.4 258.3h0M236.1 261.4h0M241 258.1h0M243.3 263.9h0M244.2 258.9h0M251.6 263.9h0M213.5 261.1h0M231.9 259.8h0M224.7 258.8h0M246.3 263.5h0M244.7 259.1h0M217.4 257.2h0M235.4 258.5h0M245.3 263.1h0M215.6 258.5h0M222.7 257.7h0M247.8 264.1h0" stroke="#fff" stroke-opacity="0.55" stroke-width="1" stroke-linecap="square" fill="none"/>
<path d="M260.9 267.4V255.9M261.7 267.4V256.2M262.6 267.4V255.1M263.6 267.4V252.5M264.4 267.4V255.8M265.4 267.4V253M266.4 267.4V252.1M267.2 267.4V252.6M267.8 267.4V255.5M268.8 267.4V251.7M269.8 267.4V252.7M270.8 267.4V250.9M271.6 267.4V249.4M272.3 267.4V247.8M273 267.4V246M273.9 267.4V246.6M274.6 267.4V250.9M275.3 267.4V250.2M276.2 267.4V248.8M277 267.4V252.4M277.6 267.4V249.6M278.3 267.4V252.4M279.3 267.4V256M280.4 267.4V252.5M281.1 267.4V257.9M282 267.4V256.8M282.9 267.4V251.9M283.5 267.4V252.7M284.5 267.4V256.2M285.5 267.4V253.4M286.4 267.4V252.2M287.2 267.4V254.6M287.8 267.4V251.3M288.5 267.4V253.6M289.3 267.4V256.5M290.3 267.4V255.3M291.3 267.4V253.6M292.4 267.4V254.7M293.3 267.4V254.3M294.3 267.4V253.8M295.1 267.4V253.3M295.8 267.4V250.8M296.9 267.4V251.2M297.5 267.4V251.2M298.2 267.4V252.2M298.8 267.4V247.2M299.6 267.4V249.5M300.5 267.4V249.4M301.5 267.4V250.7" stroke="#c41f5a" stroke-width="1.2" fill="none"/>
<path d="M260.7 254.1h0M260.8 252.3h0M260.9 250.3h0M260.8 248.5h0M260.9 247.3h0M260.7 246.4h0M261.7 255h0M261.5 253.4h0M261.8 250.6h0M261.8 248.2h0M261.6 245.1h0M261.6 243.4h0M262.6 253.6h0M262.5 252h0M264.4 254.4h0M264.3 253.6h0M264.3 251.5h0M264.4 249.1h0M264.4 246.5h0M264.3 245h0M265.3 252.2h0M265.3 252h0M266.4 251.2h0M266.4 248.2h0M266.4 247.1h0M266.4 245.4h0M266.6 244.4h0M266.2 240.8h0M266.5 239.9h0M267 250.5h0M267.9 254.6h0M268 252.9h0M267.7 251.6h0M268 249.9h0M267.9 247.1h0M267.7 245.2h0M267.7 244.5h0M268.8 250.5h0M268.8 250.1h0M269.7 251.6h0M269.9 249.1h0M269.6 248h0M270.8 249.1h0M270.7 246.2h0M270.6 246.2h0M271.7 247.2h0M271.4 245.9h0M271.8 242.1h0M271.7 241.7h0M272.5 246.1h0M272.2 245.3h0M272.3 242.5h0M272.9 244.6h0M273.7 245h0M274.4 247.7h0M274.5 246.2h0M275.2 249.2h0M275.2 248h0M275.3 244.8h0M276.3 245h0M276.2 242.8h0M276.3 242.4h0M276.9 250.9h0M277.1 249.5h0M277.8 247.9h0M278.1 250.6h0M279.5 254.6h0M279.2 252.2h0M279.4 249.9h0M279.5 247.1h0M279.4 246.2h0M279.3 242h0M279.2 241.3h0M280.2 250.6h0M280.3 249.1h0M280.2 246.7h0M280.2 242.7h0M280.5 241.3h0M280.5 237.6h0M281.2 256.1h0M281.3 253.8h0M281.3 252.2h0M281 250.4h0M281 248.8h0M281.3 247.5h0M281.3 245.9h0M281.9 254.8h0M281.9 252.9h0M282.1 251.4h0M282.1 250.2h0M282.2 246.7h0M282.2 244.6h0M281.8 244h0M283 250.5h0M283.4 251.6h0M284.7 254.3h0M284.4 252.6h0M284.4 251.2h0M284.4 249.7h0M284.5 248.9h0M284.7 247h0M285.4 251.4h0M285.7 249.9h0M286.6 251.2h0M287.3 253h0M287.3 251h0M287.2 249.9h0M287.2 247.3h0M287.3 246.7h0M287.7 250h0M287.9 247.2h0M287.7 243.9h0M287.7 242.1h0M288.4 252h0M288.5 250.5h0M288.3 248h0M288.3 247.1h0M288.3 245.3h0M288.4 241.3h0M288.5 238.7h0M288.3 238.5h0M289.2 255h0M289.2 253.3h0M289.1 251.9h0M289.4 249.2h0M289.2 248.1h0M289.5 245.5h0M289.3 242.5h0M289.4 238.1h0M289.3 237.3h0M290.5 254.3h0M290.3 252.1h0M290.4 249.1h0M290.3 246.2h0M290.4 244.9h0M290.5 244.5h0M291.3 252.5h0M292.5 253.4h0M292.2 250.6h0M292.3 248.7h0M292.3 246.9h0M292.5 246.3h0M293.3 252.6h0M293.4 251.5h0M293.5 250.5h0M294.4 252.3h0M294.3 252.3h0M295 252.4h0M295.2 251.3h0M294.9 248.6h0M295.1 247.8h0M295.7 247.7h0M295.8 246h0M295.7 242.7h0M295.7 241.3h0M296.9 249.3h0M296.7 247.9h0M297 244.4h0M297 240.6h0M296.9 238h0M297.7 248.1h0M297.4 247.2h0M297.7 243.6h0M297.5 241.7h0M297.6 236.9h0M297.7 234.6h0M297.6 231h0M298.3 251h0M298.1 248.6h0M298.3 247.3h0M298.3 243.9h0M298.1 242h0M298.2 240.4h0M298.3 235.1h0M298.3 230.6h0M298.2 229.2h0M298.9 243.3h0M298.6 240h0M298.9 237.9h0M299 235.5h0M298.8 233.4h0M299.7 246.7h0M299.4 244.5h0M299.6 244.3h0M300.5 246.8h0M300.4 245.6h0M300.6 242.7h0M301.5 247.4h0M301.6 246.1h0M301.7 242.4h0" stroke="#c41f5a" stroke-width="1.3" stroke-linecap="square" fill="none"/>
<path d="M285.6 242.7h0M288.9 241.9h0M287.8 238.5h0M271.8 245.6h0M277 250.3h0M290 243.7h0" stroke="#c41f5a" stroke-width="1.4" stroke-linecap="square" fill="none"/>
<path d="M269 257.9h0M270.3 259.6h0M293.1 256.3h0M288.5 259.9h0M295.5 256.9h0M296.8 262.8h0M265.3 263.2h0M271.8 257.2h0M292.2 262.7h0M288.8 261.4h0M264.9 261.2h0M291.4 261.6h0M293.2 261.4h0M271.9 261.8h0M295.8 260.2h0M296.4 259.2h0M299.5 263.7h0M297.3 259.9h0M296.4 261h0M273.4 263.9h0M295.9 263.1h0M269.4 260.7h0M284.4 256.3h0M279.8 261.6h0M290.3 257.5h0M281 258.8h0M268.5 258.7h0M261.5 261.9h0M292.1 262.9h0" stroke="#fff" stroke-opacity="0.55" stroke-width="1" stroke-linecap="square" fill="none"/>
<path d="M303.4 267.4V254.6M304.1 267.4V253.9M304.9 267.4V260.1M305.7 267.4V256.6M306.4 267.4V255.5M307.4 267.4V257M308.3 267.4V257.4M309.1 267.4V254.8M310 267.4V254.1M310.7 267.4V251.6M311.3 267.4V250M312 267.4V252.4M313 267.4V252.3M313.6 267.4V247.6M314.5 267.4V248.1M315.1 267.4V248.4M315.9 267.4V253.6M317 267.4V250.7M317.6 267.4V251.3M318.4 267.4V250.8M319.3 267.4V255.5M320.2 267.4V253.9M321.1 267.4V256.6M321.7 267.4V255.1M322.7 267.4V254.7M323.3 267.4V255M324.2 267.4V250.9M325 267.4V250M325.8 267.4V249.9M326.6 267.4V254.5M327.3 267.4V254.6M328.3 267.4V254.5M328.9 267.4V256.7M329.6 267.4V253.8M330.5 267.4V255.1M331.3 267.4V257.1M332 267.4V259.6M332.7 267.4V259.5M333.6 267.4V258.2M334.6 267.4V255.9M335.6 267.4V254M336.5 267.4V254.1M337.4 267.4V251.8M338.1 267.4V250.6M339 267.4V248.9M339.9 267.4V248M340.7 267.4V252.8M341.7 267.4V248.4M342.5 267.4V253.4M343.5 267.4V249M344.2 267.4V251M344.9 267.4V252.2M345.7 267.4V255M346.6 267.4V253.6M347.3 267.4V251.2M348.3 267.4V251.8M349 267.4V249.4M349.8 267.4V252.6" stroke="#c97a28" stroke-width="1.2" fill="none"/>
<path d="M303.4 254.5h0M304 253.3h0M304.8 258.4h0M305 256.6h0M305 255.4h0M304.8 254h0M305.6 255h0M306.6 254.1h0M306.3 251.6h0M307.6 254.7h0M307.3 253.9h0M308.2 255.6h0M308.4 254.1h0M308.5 253.2h0M308.3 251.8h0M308.5 250.9h0M308.4 248.2h0M308.4 248h0M309 253h0M309.2 250.5h0M309.2 249.2h0M309.9 251.5h0M309.9 248.8h0M309.9 247.6h0M309.9 247.3h0M310.6 250h0M310.6 247.7h0M310.7 247.1h0M311.2 248.7h0M311.4 246.3h0M311.2 245.1h0M311.5 243.3h0M311.3 241.9h0M311.9 249.6h0M311.8 246.5h0M311.8 242.9h0M312.1 238.4h0M311.9 236.7h0M312 236.6h0M313.2 250.5h0M312.9 248.9h0M313.1 245.4h0M313.1 242.1h0M313.1 241.1h0M314.4 246h0M314.5 245.1h0M314.7 243.6h0M316 252.1h0M316 249.5h0M315.9 248.2h0M317 248.6h0M317.7 249.7h0M318.2 248h0M319.4 253h0M319.3 252h0M319.5 250.6h0M319.2 249.6h0M319.2 246.8h0M319.2 245.2h0M319.2 243.8h0M320.3 252h0M320.2 251.7h0M321.1 254.7h0M321.1 253.3h0M321.2 252h0M321 251.7h0M321.8 253.1h0M321.8 251.2h0M321.6 249.4h0M322.9 252.2h0M322.7 250.6h0M322.5 249.8h0M323.4 254h0M323.5 252.7h0M323.3 250.9h0M323.4 247.9h0M323.3 246.8h0M323.5 245.9h0M324.1 247.4h0M324.2 244.9h0M324.4 243.8h0M324.2 242.8h0M324.9 247h0M325.1 244.8h0M325 240.4h0M325.2 237.8h0M325.1 233.8h0M325.8 247.8h0M325.7 244.5h0M325.9 240.8h0M325.9 236.6h0M325.6 234.5h0M326.7 251.6h0M326.6 248.2h0M326.6 245.5h0M327.3 252.4h0M327.4 249.7h0M327.4 249.5h0M328.3 253.4h0M328.4 253.2h0M329 254.4h0M329 253h0M329.1 252.8h0M329.7 251.1h0M329.5 248.8h0M330.5 252.5h0M330.7 250.5h0M331.4 255.3h0M331.4 252.8h0M331.3 249.7h0M331.4 246.9h0M331.3 244.2h0M331.5 240.8h0M332 258.6h0M332 257.3h0M331.8 255.6h0M331.9 253.7h0M332.1 252.1h0M331.9 250.9h0M331.8 249.2h0M332 245.4h0M332 242h0M331.9 238.7h0M331.9 235h0M332.7 258.2h0M332.6 257.3h0M332.6 256.1h0M332.6 254.7h0M332.7 252.3h0M332.8 248.9h0M332.5 245h0M332.7 241.5h0M332.7 236.6h0M332.9 236.3h0M333.6 256.9h0M333.8 255.6h0M333.6 253.2h0M333.6 250.5h0M333.8 249.5h0M333.6 248.1h0M333.5 245h0M334.7 253.8h0M334.6 251.1h0M334.6 250h0M334.8 248.5h0M335.4 251.6h0M335.5 249.5h0M335.4 248.4h0M335.6 245h0M335.5 241.9h0M335.5 241.3h0M336.5 252.2h0M337.4 249.4h0M337.5 248.4h0M337.5 247.2h0M337.2 245.3h0M337.3 245h0M338 248.3h0M338.3 247.4h0M339.8 244.7h0M339.9 242.3h0M340.7 250.6h0M340.7 249.1h0M341.7 247.6h0M342.4 250.6h0M342.6 249.3h0M342.6 248.9h0M343.3 247.9h0M344.2 249.8h0M344.2 248.7h0M344.1 245h0M344.2 244h0M344.9 250.6h0M344.8 249.8h0M345 248.3h0M345 246h0M345 244.7h0M344.9 240.4h0M344.8 239.8h0M345.6 252.4h0M345.7 250.2h0M345.6 246.8h0M345.6 245.7h0M345.6 244.9h0M346.6 251.5h0M346.6 248h0M346.6 247.7h0M347.3 249.1h0M347.3 247h0M347.5 245.7h0M348.3 250.3h0M349 246.1h0M349.6 250.6h0M349.6 249.3h0M332.3 211.3h0M332.9 214.7h0M332 227.6h0" stroke="#c97a28" stroke-width="1.3" stroke-linecap="square" fill="none"/>
<path d="M345.3 247h0M325.3 245.9h0M305.9 239.4h0M318.6 242.8h0M327.6 241.3h0M342 248.2h0M328.7 249.3h0" stroke="#c97a28" stroke-width="1.4" stroke-linecap="square" fill="none"/>
<path d="M333.7 261.4h0M333.7 257.5h0M327.4 261.3h0M345.3 260.1h0M319.9 257.3h0M326 260.4h0M331.4 260.3h0M310.2 263h0M307.3 259.1h0M313.5 262.8h0M320.4 258.5h0M309.2 262.5h0M340.9 258.5h0M325.8 260.4h0M313.4 263h0M341.9 264.2h0M305.8 259.7h0M311.2 259.2h0M305.6 259.7h0M306.4 262.2h0M312 256.5h0M331.2 259.8h0M304.7 258.5h0M334 262h0M307.7 260.7h0M349.2 257.3h0M311.6 257.6h0M331.3 257.9h0M341.3 262.9h0M333.9 262.2h0M336.9 261.6h0M324.5 259.5h0M314.3 261.2h0" stroke="#fff" stroke-opacity="0.55" stroke-width="1" stroke-linecap="square" fill="none"/>
<path d="M351.1 267.4V246.9M351.7 267.4V249.1M352.6 267.4V247.1M353.4 267.4V251.2M354.2 267.4V251.8M355 267.4V253M355.9 267.4V251.8M356.9 267.4V251M357.8 267.4V251.6M358.7 267.4V252.2M359.4 267.4V254.3M360.3 267.4V252.3M361.2 267.4V255.3M362.2 267.4V252M362.9 267.4V251M363.9 267.4V252.1M364.6 267.4V253.9M365.4 267.4V250M366.2 267.4V253.5M367.1 267.4V256.2M367.7 267.4V252.5M368.8 267.4V254.1M369.6 267.4V257.4M370.2 267.4V259.2M370.9 267.4V258.9M371.7 267.4V256M372.3 267.4V255M373.4 267.4V254.5M374.1 267.4V255.2M375.1 267.4V251.2M375.8 267.4V253.6M376.5 267.4V249.1M377.1 267.4V250.4M377.8 267.4V249M378.4 267.4V248.9M379.5 267.4V249.1M380.2 267.4V247.7" stroke="#3f7173" stroke-width="1.2" fill="none"/>
<path d="M350.9 244.7h0M351.8 248.2h0M351.5 245.8h0M351.5 243.4h0M352.6 244.1h0M352.4 242.9h0M353.4 248.3h0M353.5 245.6h0M353.5 242h0M353.3 241.1h0M354.4 250.3h0M354.1 248.3h0M354.3 245.2h0M354.1 242.3h0M354.3 241.4h0M354.1 240.3h0M355.1 251.6h0M354.9 249.7h0M355.1 248.1h0M354.9 244.9h0M355.8 249.6h0M355.9 248.3h0M356.8 248.2h0M356.7 245.1h0M356.8 243.5h0M356.9 242.6h0M357.6 250.8h0M357.9 249.6h0M357.6 247.5h0M357.6 245.9h0M357.7 245h0M357.8 240.4h0M357.8 237.1h0M357.9 235.8h0M358.9 249.8h0M358.5 248.1h0M358.7 245.4h0M358.6 243.7h0M358.6 242.7h0M358.6 241.9h0M358.8 236.7h0M358.7 234h0M358.7 229.7h0M358.6 226.6h0M359.6 252.8h0M359.4 251.3h0M359.5 250h0M359.3 247.6h0M359.2 245.4h0M359.3 244.3h0M359.5 239.8h0M359.5 237.7h0M360.4 250.1h0M360.5 247.2h0M360.3 246.2h0M361.3 254.4h0M361.3 251.6h0M361.1 250.5h0M362.1 250.7h0M363 249.9h0M362.8 247.8h0M362.8 244h0M362.9 243.2h0M363.8 249.8h0M364.7 252.9h0M364.6 250.5h0M364.7 248.1h0M364.4 245.5h0M364.6 245.4h0M365.6 247.8h0M365.3 244h0M365.4 242.3h0M365.5 241.7h0M366.1 251.1h0M366.3 247.8h0M366.3 245.4h0M366.1 244.6h0M366.1 241.5h0M366.1 239.2h0M367.1 254.8h0M367.1 253.6h0M367.2 251.9h0M366.9 250.4h0M367.1 249.2h0M366.9 247.7h0M367 246h0M367 245.3h0M367.7 251.4h0M368.9 251.8h0M368.8 251.7h0M369.8 256.5h0M369.7 254.9h0M369.6 253.2h0M369.7 251.6h0M369.5 250.3h0M370.1 257.4h0M370.3 255.7h0M370.4 254.6h0M370.3 253.1h0M370.3 251.2h0M370.2 248h0M370.3 246.7h0M371 257.7h0M371 256.1h0M370.8 255.1h0M370.8 253.9h0M370.8 252.5h0M370.8 250.1h0M371 248.3h0M371.5 254.4h0M371.8 253.6h0M371.8 251.3h0M371.5 248.7h0M371.5 247.4h0M371.8 246.3h0M371.5 243.6h0M371.8 241.1h0M371.6 240.5h0M372.3 253.7h0M372.2 251.6h0M372.1 248.6h0M372.5 245.7h0M372.3 245.1h0M373.5 251.8h0M373.4 250.5h0M373.4 248h0M373.4 245.3h0M373.3 242.1h0M373.4 239.8h0M373.4 237.7h0M374.3 252.8h0M374.1 251.2h0M374.3 250.4h0M374.1 247h0M374.1 246.1h0M374 244.2h0M374.1 243.4h0M374.2 240.9h0M374 238.3h0M374.1 233.7h0M374 230.6h0M374 227h0M374.3 224.6h0M375.1 248.3h0M375 244.8h0M375.2 242.8h0M375 239.4h0M375 235.5h0M374.9 234.6h0M375 230.7h0M375 229.2h0M375.2 225.6h0M375.9 252.1h0M375.8 248.8h0M375.7 245.6h0M376 241.6h0M375.9 240.6h0M375.8 239.4h0M375.9 237.7h0M375.9 233.6h0M376.6 248.1h0M377.2 248.3h0M377 246.5h0M376.9 243.5h0M377.1 242.4h0M377.7 246.8h0M378.3 247.2h0M378.2 243.7h0M378.6 242.7h0M378.5 239.9h0M378.3 237.3h0M378.3 235.6h0M378.6 234.8h0M379.6 246.1h0M379.4 244.9h0M379.6 240.3h0M379.6 235.9h0M379.4 232.7h0M379.4 231.7h0M380.2 245.9h0M380 244.4h0M380.2 242.2h0M380.3 240.2h0M380.2 238.1h0" stroke="#3f7173" stroke-width="1.3" stroke-linecap="square" fill="none"/>
<path d="M355.9 247.1h0M359 246.3h0M351.5 242.9h0M362.3 248.5h0" stroke="#3f7173" stroke-width="1.4" stroke-linecap="square" fill="none"/>
<path d="M352 256.8h0M373.5 262.2h0M372 258.5h0M366.8 260.9h0M366.4 260h0M367.2 258.9h0M360.7 258.7h0M354.6 259.7h0M353.4 257h0M355.2 256.6h0M357.2 260.1h0M354.3 259.3h0M375.3 258.5h0M366.4 258.2h0M358.8 261.1h0M368.7 263.7h0M377.9 262.5h0M365.5 256.5h0M353.8 257.3h0M353.2 259.4h0M378.1 260.7h0" stroke="#fff" stroke-opacity="0.55" stroke-width="1" stroke-linecap="square" fill="none"/>
<path d="M381.4 267.4V252.5M382.2 267.4V253.5M383.1 267.4V254.5M384.1 267.4V255M384.7 267.4V256.2M385.6 267.4V255.7M386.6 267.4V256.7M387.5 267.4V252M388.5 267.4V253.6M389.3 267.4V252.7M390 267.4V254.3M390.7 267.4V258.7M391.3 267.4V256.2M392 267.4V259.8M392.8 267.4V259.9M393.4 267.4V259.8M394.2 267.4V255.2M395.2 267.4V255.3M395.9 267.4V257M396.7 267.4V253.5M397.7 267.4V252.7M398.7 267.4V251.1M399.4 267.4V251M400.1 267.4V250.6M400.9 267.4V253.3M401.9 267.4V250.8M402.8 267.4V251.1M403.5 267.4V251.7M404.3 267.4V253.8M405 267.4V252.4M405.7 267.4V255M406.6 267.4V250.8M407.6 267.4V255.8M408.4 267.4V251.8M409.1 267.4V253.3M409.9 267.4V251.7M410.9 267.4V252.3M411.8 267.4V252.4M412.5 267.4V255M413.3 267.4V252.1M414.1 267.4V252.1M414.7 267.4V252.5M415.8 267.4V254.6M416.5 267.4V254.8M417.2 267.4V256.7M418 267.4V255.8M418.7 267.4V256.2M419.5 267.4V258.7" stroke="#a0622c" stroke-width="1.2" fill="none"/>
<path d="M381.3 251.8h0M383 252.5h0M383 252.4h0M384 253.4h0M384.2 252.6h0M384.9 255.1h0M384.7 253.3h0M384.9 251.7h0M384.7 250h0M384.7 246.8h0M384.8 246.2h0M385.8 254.4h0M385.5 252.5h0M385.8 249.8h0M385.6 247.1h0M385.5 242.7h0M385.5 241.6h0M386.6 255.3h0M386.7 253.4h0M386.4 252.2h0M386.4 250.4h0M386.6 248.5h0M386.7 246.9h0M386.5 245.7h0M386.7 242.4h0M387.5 250.7h0M388.3 251.4h0M388.6 251.2h0M389.4 250.9h0M390.1 253.5h0M389.9 251.7h0M390 250.8h0M390 249.9h0M390.6 257.3h0M390.7 255.5h0M390.6 254.2h0M390.5 252.5h0M390.7 251.4h0M390.6 250.5h0M390.7 249.4h0M390.5 248.8h0M391.2 254.1h0M391.4 252.3h0M391.9 257.9h0M392 256h0M392 254.5h0M391.8 252.3h0M392.2 250.7h0M392.2 249.3h0M392.8 258.9h0M393 257h0M392.6 256h0M393 253.3h0M393 250.3h0M392.9 249.5h0M392.8 249.4h0M393.3 258.3h0M393.5 256.8h0M393.5 255.7h0M393.5 254.9h0M393.3 252.6h0M393.4 251.4h0M393.5 248.3h0M393.5 247.3h0M393.4 246.4h0M393.6 244.6h0M393.6 241.1h0M393.6 240.1h0M393.3 237.3h0M394.2 252.5h0M394.2 251.2h0M394.4 249.1h0M394.1 248.2h0M394.1 245.6h0M394.1 243.2h0M394.1 240.8h0M394.1 237h0M394.2 230.7h0M394.3 230.2h0M395.1 253.4h0M395.4 252.2h0M395 249.6h0M395.4 247.6h0M395.3 244.6h0M395.1 242.8h0M395.4 241.3h0M395.1 236.1h0M395.1 234.8h0M395.9 255.6h0M395.7 253.7h0M396.1 250.5h0M396 249.3h0M395.8 248.3h0M396.8 251.6h0M397.6 251.3h0M398.5 251.1h0M399.3 248.5h0M399.4 247.1h0M400.2 248h0M400.3 247h0M400.8 250.6h0M400.9 249h0M401.1 245.7h0M400.8 242h0M401.1 238h0M401.9 249.3h0M402 248.3h0M401.9 246.2h0M402 243h0M401.9 239.6h0M402.1 236.7h0M402.8 247.4h0M402.9 245.2h0M402.8 242.1h0M402.6 241.4h0M403.5 249.6h0M403.3 248.2h0M404.4 251.9h0M404.4 250.8h0M404.4 247.2h0M404.3 245.9h0M404.2 243.4h0M404.4 242.6h0M405.2 249.8h0M405.1 249.6h0M405.7 253.5h0M405.8 251.7h0M405.9 249.5h0M405.6 248.7h0M406.5 248.3h0M407.5 254.1h0M407.6 251.5h0M407.5 248.9h0M407.5 247.7h0M407.5 247h0M408.6 250.9h0M408.5 249.4h0M408.4 249.2h0M409.1 251.3h0M409.7 250.6h0M410.7 249h0M410.8 246.8h0M410.9 244h0M411.8 250.4h0M411.6 246.7h0M411.8 244.8h0M411.6 242.4h0M411.8 241.5h0M412.5 253.1h0M412.6 250.5h0M412.6 249.4h0M412.7 246.5h0M412.6 243.9h0M412.7 243.4h0M413.2 248.6h0M413.3 248.4h0M414.2 249.7h0M413.9 248.6h0M414.8 251.3h0M415.8 252.5h0M415.6 251.7h0M415.9 250.9h0M416.6 254h0M416.6 252.4h0M416.3 251.8h0M417.3 254.6h0M417.2 252.5h0M417.9 253.9h0M418 251.3h0M418.1 248.3h0M418.1 246.5h0M418 245.6h0M418.6 253.7h0M418.6 250.5h0M418.9 249.6h0M418.8 249h0M419.6 256.7h0M419.5 254.6h0M419.5 253.7h0M419.4 252.7h0" stroke="#a0622c" stroke-width="1.3" stroke-linecap="square" fill="none"/>
<path d="M417.3 249.5h0M393.1 250.7h0M411.1 242.6h0M415.9 246.7h0M382.8 246.2h0" stroke="#a0622c" stroke-width="1.4" stroke-linecap="square" fill="none"/>
<path d="M400.5 262.9h0M416.3 258.9h0M401.4 258.6h0M387.2 257.8h0M412.5 257.3h0M407.1 263.4h0M408.9 260.9h0M408.4 260.4h0M382.1 257.4h0M407.5 259.9h0M385.1 260.9h0M383.6 260.5h0M406.4 262h0M403.4 262h0M415.1 262h0M389.1 262.3h0M393.8 261.1h0M386.3 263.2h0M392.1 264.2h0M405.1 260.5h0M389.6 261.7h0M393.7 263.3h0M408.1 262.2h0M391 263.8h0M404.7 261.8h0M398.4 263.4h0M399.4 259.3h0" stroke="#fff" stroke-opacity="0.55" stroke-width="1" stroke-linecap="square" fill="none"/>
<path d="M420.7 267.4V253.8M421.6 267.4V252.7M422.5 267.4V252.2M423.5 267.4V252.7M424.3 267.4V252.6M424.9 267.4V255.3M425.7 267.4V254.6M426.7 267.4V254.3M427.4 267.4V253.9M428.1 267.4V254.3M429.1 267.4V256.1M429.9 267.4V258M430.6 267.4V258.2M431.3 267.4V254.3M432 267.4V256.5M432.8 267.4V259.4M433.4 267.4V254M434.4 267.4V255.6M435 267.4V257.6M435.8 267.4V258.9M436.6 267.4V255.8M437.5 267.4V255.7M438.2 267.4V256.3" stroke="#618bb9" stroke-width="1.2" fill="none"/>
<path d="M420.8 251.4h0M420.7 248.3h0M420.8 246.3h0M420.7 242.5h0M420.8 240.9h0M421.6 249.1h0M421.7 248.7h0M422.6 249.5h0M423.6 249.9h0M423.5 245.9h0M423.5 245.4h0M424.3 250.2h0M424.9 252.5h0M425.1 249.7h0M424.9 247h0M425 244.5h0M425.1 244.1h0M425.8 252.2h0M425.8 250.1h0M425.6 247.4h0M425.5 244.9h0M426.7 251.9h0M426.9 250.5h0M428.1 252.4h0M427.9 249.6h0M428.2 248.4h0M428.9 255.6h0M429.8 255.8h0M430.1 253.6h0M430.1 252h0M430.1 249.8h0M429.7 247.8h0M430.1 246.9h0M429.8 245.2h0M430.8 256h0M430.8 254.4h0M430.5 251.2h0M430.6 248.1h0M430.6 246.1h0M430.7 243.7h0M430.6 239.7h0M430.6 237.9h0M430.8 236.9h0M431.1 253.3h0M431.3 250.4h0M431.5 248.1h0M431.4 246.9h0M431.3 244.4h0M431.3 240h0M431.2 236.9h0M431.3 233h0M431.2 231.1h0M432 255.1h0M432 253.3h0M432.2 251.4h0M432.1 248.8h0M432 247.5h0M431.8 244h0M432.2 239.8h0M432.1 233.9h0M432.9 257.8h0M432.6 255.1h0M432.9 252.6h0M432.6 250.9h0M432.9 248.9h0M432.8 246.4h0M432.9 243.6h0M433 240.8h0M432.7 239.3h0M433.2 251.7h0M433.3 249.3h0M433.6 249.2h0M434.4 254.6h0M434.3 253.5h0M434.9 256.8h0M435.1 255.6h0M435 254.4h0M434.9 251.4h0M435 248.3h0M435.2 246.4h0M435.7 256.4h0M436 254.5h0M435.7 254.3h0M436.5 254.3h0M437.4 255.3h0M438.2 254.2h0M438.2 251.5h0M438.4 250.4h0" stroke="#618bb9" stroke-width="1.3" stroke-linecap="square" fill="none"/>
<path d="M437 248.7h0M432.8 242.4h0" stroke="#618bb9" stroke-width="1.4" stroke-linecap="square" fill="none"/>
<path d="M432.8 264.1h0M436.9 260.9h0M437.5 262h0M436.9 259.7h0M426.9 262.9h0M422.8 260.8h0M427.8 260.1h0M434 260.4h0M431.2 263.3h0M426.9 260.6h0M424.2 261.4h0M432.7 259.8h0M421.3 263.8h0" stroke="#fff" stroke-opacity="0.55" stroke-width="1" stroke-linecap="square" fill="none"/>
<path d="M439.9 267.4V254.7M440.9 267.4V251.1M441.6 267.4V254.3M442.3 267.4V254.5M443.1 267.4V252.2M443.9 267.4V253.8M444.6 267.4V254.4M445.4 267.4V252M446.3 267.4V254M447.2 267.4V252.1M448.2 267.4V255.2M449.1 267.4V250.3M450 267.4V250.6M450.9 267.4V253.5M451.6 267.4V253.5M452.4 267.4V257.4M453.4 267.4V259.4M454 267.4V259.2M454.8 267.4V256.5M455.4 267.4V256.9M456.2 267.4V259.4M457.1 267.4V259.2M458 267.4V259.8M458.6 267.4V256.8M459.4 267.4V259.7M460.3 267.4V254.6M460.9 267.4V253.5M461.9 267.4V256M462.9 267.4V256.7M464 267.4V255.7M464.9 267.4V251.2M465.9 267.4V253.4M466.6 267.4V253.3M467.4 267.4V256.6M468.1 267.4V255.9M469 267.4V255.9M470 267.4V255.8M470.8 267.4V253.3M471.4 267.4V254.6" stroke="#3b6fa5" stroke-width="1.2" fill="none"/>
<path d="M439.7 253.8h0M439.9 250.6h0M440 247.2h0M439.9 244h0M440 242.7h0M439.9 241.2h0M439.9 240.4h0M441.1 248.9h0M441.1 245.9h0M440.9 243.9h0M441 239.1h0M440.8 236.6h0M441 235.3h0M440.8 232.2h0M441.1 231.4h0M441.5 252h0M441.5 249.7h0M441.5 246.4h0M441.8 243h0M441.4 239h0M441.6 238.4h0M442.5 252.1h0M442.2 249.5h0M442.5 246.3h0M442.3 243.2h0M442.3 241.5h0M442.9 249.8h0M443.2 246.3h0M443.9 251.3h0M444.1 250.6h0M445.2 250.7h0M445.3 248.7h0M445.5 247.8h0M446.4 251.7h0M446.1 251.4h0M447.2 251.1h0M447.2 249.4h0M447.2 248.4h0M448.1 252.6h0M448.4 251.4h0M448.2 250.7h0M450.8 252.4h0M450.8 251.4h0M450.9 248.4h0M451.7 251.4h0M451.7 249.9h0M451.7 247.7h0M451.6 243.3h0M451.8 242.6h0M452.5 255.2h0M452.3 253.6h0M452.4 252.4h0M452.5 249.7h0M452.6 247.4h0M452.3 246.4h0M452.5 243.7h0M453.2 258.3h0M453.5 256.5h0M453.5 254.8h0M453.5 252.2h0M453.4 250.8h0M453.3 248.4h0M453.4 246.8h0M454.1 257.5h0M453.8 256h0M453.8 254.7h0M453.8 252.9h0M454.9 255.2h0M454.7 253.4h0M455.4 254.2h0M455.5 252.9h0M455.5 252.3h0M456.3 257.5h0M456.3 256.6h0M456 255.9h0M457.2 257.2h0M457.9 258h0M457.9 256.4h0M458.5 255.2h0M458.6 253.4h0M458.5 250.2h0M458.6 248h0M459.6 258h0M459.3 256.8h0M459.2 254.7h0M459.6 253.5h0M459.3 251.5h0M459.6 250.5h0M460.2 252.4h0M460.4 250.6h0M461 251.4h0M461.8 254.7h0M462.1 252.5h0M461.8 250h0M461.7 247.6h0M463 255.8h0M463.1 253.9h0M462.9 251.1h0M463 249.5h0M463 249h0M464 254.7h0M464.1 253.2h0M464.1 250.1h0M464 249.2h0M464.1 245.8h0M464.1 243.3h0M464 242.1h0M464.7 249.4h0M464.8 248h0M466 252.4h0M465.7 249.5h0M465.9 245.6h0M465.7 245.4h0M466.7 252h0M466.7 251h0M466.8 250.6h0M467.4 254h0M467.2 250.8h0M467.2 250.1h0M467.9 254.5h0M468.1 252.9h0M468 250.7h0M468.2 248.2h0M469.1 253.4h0M469.1 250.5h0M469.1 249.5h0M468.8 249h0M470 254.3h0M470.1 254h0M470.8 251.2h0M471.4 252.3h0M471.6 251.3h0M471.6 249.8h0M471.4 249.8h0" stroke="#3b6fa5" stroke-width="1.3" stroke-linecap="square" fill="none"/>
<path d="M460.1 248.8h0M458.5 244.3h0M466.1 247.3h0M449.6 251.2h0" stroke="#3b6fa5" stroke-width="1.4" stroke-linecap="square" fill="none"/>
<path d="M464.5 263.2h0M448.3 261.1h0M470.1 259.1h0M441.8 262h0M454.3 263.2h0M468.7 259.5h0M449.1 257.7h0M466.1 259.6h0M460.8 263.3h0M447.6 264.1h0M450 263.5h0M448.3 263.1h0M457.6 264.1h0M450 262h0M451.7 260.7h0M445.3 262.3h0M468.6 261.6h0M455.6 263.4h0M454.4 262.2h0M440.4 259.3h0M470.3 262.1h0M462 261.1h0" stroke="#fff" stroke-opacity="0.55" stroke-width="1" stroke-linecap="square" fill="none"/>
<path d="M472.6 267.4V248.4M473.5 267.4V249.4M474.1 267.4V253.2M475.1 267.4V247.8M475.9 267.4V248.6M476.5 267.4V251.4M477.3 267.4V251.8M478.1 267.4V252.6M479.1 267.4V253.1M480.1 267.4V257.3M480.9 267.4V253.6M481.9 267.4V258.3M482.7 267.4V257.3M483.4 267.4V256.3M484.4 267.4V255.6M485.3 267.4V254.9M486.3 267.4V252.8M487.3 267.4V256.9M488 267.4V254.7M488.6 267.4V255.6M489.3 267.4V255.6M490.3 267.4V249.8M491.3 267.4V252M492.2 267.4V255.3M492.8 267.4V251.8" stroke="#8ab838" stroke-width="1.2" fill="none"/>
<path d="M472.6 247.1h0M472.5 246.3h0M473.4 247.6h0M473.4 246.9h0M474.3 251.9h0M473.9 250.3h0M474.1 247.9h0M473.9 244.8h0M474 242h0M474.1 239.8h0M475.1 244.1h0M475 241.7h0M475.3 239.3h0M475 234.1h0M475.1 228.9h0M475.2 228.5h0M475.9 247.3h0M475.7 246.2h0M476 243.6h0M475.7 238.7h0M476 238.5h0M476.6 248.6h0M476.4 247.4h0M476.5 245.2h0M476.6 244.3h0M476.4 244.1h0M477.5 250.3h0M477.3 247.1h0M477.5 245.8h0M478 251.2h0M478.3 249.6h0M478.2 248.6h0M478.2 246.1h0M479 250.7h0M479.2 249.7h0M480 255.2h0M480 254h0M480.3 252.3h0M480 250.7h0M480.8 252.4h0M481 249.7h0M481.1 248.3h0M481.9 257.4h0M481.7 255.3h0M481.8 253.5h0M481.8 251.5h0M481.7 248.3h0M481.7 246.9h0M482 245.4h0M482 242.8h0M482.7 256.3h0M482.8 255.4h0M482.7 252.7h0M482.6 251.2h0M482.8 248.1h0M482.8 246h0M483.6 255h0M483.3 253.9h0M483.3 252.8h0M483.5 251.8h0M483.3 250.8h0M484.4 253.3h0M484.2 252.3h0M484.2 251.5h0M485.2 252.3h0M485.2 249.1h0M485.1 248.5h0M486.1 251.2h0M486.4 249h0M486.3 247.4h0M486.3 246.2h0M486.2 245.3h0M486.2 243.8h0M486.3 241.2h0M487.4 255.3h0M487.3 253.7h0M487.5 252h0M487.8 253.4h0M487.8 250.4h0M488.5 253.7h0M488.5 252.1h0M488.7 250.6h0M488.8 248.9h0M488.7 246.6h0M488.8 245.7h0M489.2 253.5h0M489.3 250.4h0M489.3 249.3h0M489.2 246.4h0M489.3 245.1h0M489.2 242.9h0M490.4 248h0M490.2 243.8h0M490.4 239.5h0M490.4 237.3h0M490.3 235.5h0M491.3 249.6h0M491.2 247.3h0M491.1 243.8h0M491.3 243.1h0M492.3 254.4h0M492.1 251.5h0M492 248.9h0M492 246.3h0M492.7 248.9h0M492.8 246h0M492.8 245.6h0" stroke="#8ab838" stroke-width="1.3" stroke-linecap="square" fill="none"/>
<path d="M484 239.8h0M473.6 246.2h0M491.5 246.7h0" stroke="#8ab838" stroke-width="1.4" stroke-linecap="square" fill="none"/>
<path d="M479.4 261.3h0M482.3 264.1h0M484.2 257.3h0M479.1 258.6h0M482.9 263.3h0M487.5 260.4h0M475.2 258.8h0M486.3 258.8h0M484.6 260.5h0M490.3 260.2h0M480.9 260.3h0M492.6 259.3h0M480.1 256.4h0M479.5 264.1h0M473.9 257.5h0" stroke="#fff" stroke-opacity="0.55" stroke-width="1" stroke-linecap="square" fill="none"/>
<path d="M494.8 267.4V257.8M495.8 267.4V256.3M496.7 267.4V255.7M497.5 267.4V255.7M498.5 267.4V256.5M499.4 267.4V255.7M500.2 267.4V251.3M500.8 267.4V256.3M501.6 267.4V253.9M502.4 267.4V258.1M503.3 267.4V259.1M504.1 267.4V255M504.8 267.4V259.7M505.8 267.4V259.4M506.7 267.4V260.6M507.8 267.4V260.4M508.7 267.4V258.9M509.7 267.4V256.1M510.4 267.4V256.3M511.1 267.4V253.1M511.7 267.4V253.2M512.8 267.4V255.6M513.6 267.4V254.7M514.5 267.4V252.2M515.4 267.4V250.6M516.5 267.4V251.6M517.3 267.4V254.1M518 267.4V255.9M518.7 267.4V251.2M519.4 267.4V250.9M520.1 267.4V257.1M521.1 267.4V254.5M521.9 267.4V255.7M522.8 267.4V252.9M523.7 267.4V256.6M524.6 267.4V254.5" stroke="#d2a832" stroke-width="1.2" fill="none"/>
<path d="M494.6 256.4h0M494.7 254.9h0M494.8 253.2h0M494.8 251.8h0M494.9 249.2h0M494.7 248.2h0M494.6 246.2h0M494.7 244.1h0M494.8 243.9h0M495.9 254.3h0M495.7 252.6h0M495.9 250.2h0M495.8 249.1h0M495.8 248.4h0M496.7 254.1h0M496.8 252h0M496.8 249.2h0M497.4 254h0M497.4 252.8h0M498.5 254.1h0M498.6 252.8h0M498.4 250.2h0M498.5 249h0M499.5 253.9h0M499.2 252.7h0M499.5 250h0M499.2 247.3h0M499.5 246.8h0M500.1 248.1h0M500.2 245.3h0M500.1 244.2h0M500.8 254.6h0M500.7 251.8h0M500.8 250.4h0M500.9 247.1h0M501.5 252.7h0M501.5 249.6h0M501.5 249.5h0M502.6 256.9h0M502.3 254.8h0M502.6 253.2h0M503.3 258.1h0M503.4 255.9h0M503.2 254.2h0M503.1 251.8h0M503.4 248.3h0M503.1 246.9h0M503.4 246.2h0M504 252.1h0M504 248.8h0M504.2 247.6h0M504.1 245.5h0M504.2 243.1h0M504.1 242.7h0M504.8 258.6h0M504.7 257h0M504.7 254.4h0M504.8 252.5h0M504.9 249.5h0M505.6 257.4h0M505.8 254.9h0M505.9 252.1h0M505.9 251.7h0M506.9 259.4h0M506.9 258h0M506.9 257h0M506.7 254.6h0M506.7 254.1h0M507.7 259.3h0M507.9 257.1h0M507.9 257.1h0M508.9 256.8h0M508.7 255.1h0M508.8 252.3h0M508.9 249.9h0M509.8 254h0M509.7 251.3h0M509.5 250.4h0M509.8 247.6h0M509.6 243.9h0M509.7 241.3h0M509.5 241.1h0M510.4 253.8h0M510.3 251h0M510.5 248.7h0M510.4 246.9h0M510.5 243h0M510.3 242.1h0M511.2 249.8h0M511.1 246.9h0M511.2 243.5h0M511.6 251.3h0M511.7 250.6h0M512.9 253.8h0M512.8 251.8h0M512.9 250.7h0M512.9 249.3h0M512.7 246.3h0M513.8 252.5h0M513.7 250.9h0M513.6 248.8h0M513.5 247.5h0M513.6 245.7h0M513.5 242.6h0M514.4 251h0M514.6 250.6h0M515.3 249h0M515.4 247.9h0M515.6 246.3h0M515.6 244.7h0M516.4 250.6h0M516.4 247.9h0M516.4 245.6h0M516.5 244.8h0M517.5 251h0M517.2 249.8h0M517.2 248.2h0M518.1 253.2h0M518.1 251.1h0M518.6 248.1h0M518.9 248h0M519.6 249.6h0M519.6 246.7h0M519.3 246.3h0M520.1 254.9h0M520.3 251.8h0M520.1 251.6h0M520.9 251.6h0M521.2 250.5h0M520.9 250.1h0M522.1 253.6h0M521.9 251.4h0M521.7 249.4h0M522 246h0M521.7 243.3h0M522.9 249.5h0M522.6 248.2h0M522.9 244.4h0M523 242h0M523.8 255.2h0M523.8 252.7h0M523.5 250.3h0M523.7 249.4h0M523.5 247.4h0M523.8 246.4h0M523.6 244.1h0M523.8 242.5h0M523.5 237.6h0M523.5 237.5h0M524.6 253.4h0M524.7 251.4h0M524.7 249.7h0M524.7 248.5h0M524.6 245.7h0M523.5 216h0M524.1 219.4h0M523.2 231h0" stroke="#d2a832" stroke-width="1.3" stroke-linecap="square" fill="none"/>
<path d="M521.1 247h0M511.7 247.6h0M517.4 242.9h0M513.2 247.5h0" stroke="#d2a832" stroke-width="1.4" stroke-linecap="square" fill="none"/>
<path d="M507.7 264.1h0M505.2 261.2h0M501.8 259.7h0M499.7 261h0M513.6 260.8h0M503.7 261.4h0M521.8 261.1h0M499.6 263.5h0M521.7 258.6h0M510.5 262.3h0M496.6 263.8h0M496.5 263.6h0M507.6 263.7h0M514.6 260.5h0M502.6 262.6h0M497.6 260.9h0M498.5 259.9h0M500.5 263.1h0M506.7 263.8h0M520.9 262.3h0M512.4 261.3h0" stroke="#fff" stroke-opacity="0.55" stroke-width="1" stroke-linecap="square" fill="none"/>
<path d="M526 267.4V256.1M527.1 267.4V255.9M528 267.4V254M528.8 267.4V254.7M529.6 267.4V251.6M530.2 267.4V252.3M531 267.4V252.2M531.8 267.4V252.3M532.8 267.4V251M533.5 267.4V250.8M534.4 267.4V250.5M535 267.4V249.5M536 267.4V249.6M536.7 267.4V248.6M537.5 267.4V248.1M538.4 267.4V252.3M539.1 267.4V247.4M539.7 267.4V249.6M540.7 267.4V248.9M541.4 267.4V249.8" stroke="#e07a22" stroke-width="1.2" fill="none"/>
<path d="M525.9 254.2h0M526.1 253h0M526.2 251.1h0M526.1 250h0M525.9 249.2h0M526 248h0M526.2 245.2h0M526.1 241.1h0M526.1 238.5h0M527 254.2h0M526.9 252.9h0M526.9 252h0M527.3 251.2h0M527 248.8h0M528.1 252.2h0M527.9 251.1h0M528.6 253.6h0M529 253h0M529.6 250.3h0M529.4 248.6h0M530.3 249.5h0M530.2 246.8h0M530.1 246.3h0M531.1 250.1h0M531 247.3h0M531 246.8h0M531.8 249.6h0M531.8 249.5h0M532.7 249.6h0M532.7 247.9h0M533 246.4h0M532.9 244.5h0M532.9 243.4h0M533.6 248.1h0M533.6 245.2h0M533.6 242.8h0M534.3 249.4h0M534.2 247h0M534.6 244.9h0M534.3 243.1h0M534.2 242.1h0M534.3 237.8h0M534.5 236.2h0M534.2 236h0M534.9 248.1h0M534.9 246.3h0M535.2 245.4h0M534.9 243.7h0M535 240.3h0M535.1 237.8h0M536.1 248.5h0M536.2 245.5h0M535.8 245.2h0M536.6 247h0M536.8 244.7h0M536.7 243.5h0M536.5 241.4h0M536.6 239.1h0M537.5 246.3h0M537.4 245.2h0M537.4 242.5h0M538.5 251h0M538.3 249.2h0M538.5 247.2h0M538.3 244h0M538.2 243.1h0M538.5 242.2h0M538.2 240.9h0M539.2 244.3h0M539.3 243.4h0M539.6 247.5h0M539.8 245.5h0M539.6 243.6h0M541.3 247.9h0M541.5 245.5h0M541.5 242.6h0M541.5 241.9h0" stroke="#e07a22" stroke-width="1.3" stroke-linecap="square" fill="none"/>
<path d="M529.5 245h0M527.1 244.6h0" stroke="#e07a22" stroke-width="1.4" stroke-linecap="square" fill="none"/>
<path d="M537.4 256.3h0M528.4 253.6h0M530.8 263.3h0M534.8 258.7h0M537.9 262.6h0M526.9 255.7h0M535.4 261.7h0M538.2 256.4h0M541.4 263.2h0M527.4 260.3h0M536 260.5h0" stroke="#fff" stroke-opacity="0.55" stroke-width="1" stroke-linecap="square" fill="none"/>
<path d="M543.1 267.4V257.2M544.2 267.4V253.8M545.1 267.4V253.8M545.7 267.4V252M546.6 267.4V253.1M547.4 267.4V248.7M548 267.4V252.7M548.8 267.4V252.7M549.8 267.4V250.1M550.7 267.4V248.5M551.4 267.4V252.2M552.4 267.4V250.2M553.1 267.4V251.6M554.1 267.4V255.7M554.9 267.4V253M555.7 267.4V256.4M556.5 267.4V257.1M557.3 267.4V255.5M558.1 267.4V257.8M559 267.4V255.4M559.8 267.4V259.8M560.5 267.4V256.7" stroke="#4a8089" stroke-width="1.2" fill="none"/>
<path d="M543.1 255.1h0M543.3 252.2h0M543.2 252h0M544.1 251.6h0M544.3 249.9h0M544.2 249.9h0M545.1 252.2h0M545 251.3h0M545.5 251h0M545.7 247.6h0M545.7 245.2h0M545.8 244.3h0M546.5 251.1h0M546.7 249.8h0M547.2 247.4h0M547.2 244h0M547.5 242.7h0M548 249.5h0M548.1 246.8h0M548.8 251.5h0M548.7 247.9h0M548.9 245.4h0M548.8 244h0M549 243h0M548.7 242.4h0M549.7 246.6h0M549.8 243.6h0M549.9 238.9h0M549.9 236.8h0M550.6 246.2h0M550.6 242h0M550.7 240.4h0M551.6 248.8h0M551.5 247h0M552.4 247.2h0M552.4 246.4h0M553.1 250.7h0M553.1 249.3h0M553 247.2h0M554 253.3h0M554.3 252.3h0M554.7 251.2h0M554.7 249.4h0M555.6 255h0M555.6 253.9h0M555.6 252.7h0M555.6 251.2h0M555.7 249.5h0M555.8 248.1h0M555.5 246.2h0M555.7 245.9h0M556.6 255.6h0M556.4 254.6h0M556.5 253.5h0M557.1 254.5h0M557.3 253.6h0M558.3 256.6h0M558 254.7h0M559 254.4h0M559.1 253.1h0M559.2 251.3h0M559 248.3h0M559.1 247.3h0M560 258.6h0M559.9 257.8h0M559.8 256.2h0M559.7 253.8h0M559.8 252.2h0M559.8 249.8h0M559.9 248.8h0M559.7 246.1h0M559.6 243.8h0M559.8 242.5h0M560.6 255.3h0M560.4 253.8h0M560.5 251.2h0M560.7 249.7h0M560.5 247.8h0M560.3 244.8h0M560.5 241.2h0M560.5 240.3h0M560.6 235.2h0" stroke="#4a8089" stroke-width="1.3" stroke-linecap="square" fill="none"/>
<path d="M558.6 243.5h0M556.3 245.5h0" stroke="#4a8089" stroke-width="1.4" stroke-linecap="square" fill="none"/>
<path d="M556.7 259.5h0M544.9 264.1h0M557.5 259.3h0M554.8 261.7h0M557.2 258.2h0M549.6 263h0M556.4 259.1h0M543.7 260.9h0M559.2 261h0M547.3 264.2h0M548.3 257.5h0M549.6 263.7h0M553.8 262.1h0" stroke="#fff" stroke-opacity="0.55" stroke-width="1" stroke-linecap="square" fill="none"/>
<path d="M561.8 267.4V253.4M562.5 267.4V251.6M563.4 267.4V253.6M564.1 267.4V254.2M565.1 267.4V254.1M565.8 267.4V255.9M566.5 267.4V255.7M567.4 267.4V254.8M568.3 267.4V256.8M569.1 267.4V255.6M569.9 267.4V254.2M570.6 267.4V250.4M571.4 267.4V249.6M572.5 267.4V249.7M573.3 267.4V251.5M574.2 267.4V250.6M575.2 267.4V247.2M575.8 267.4V247.6M576.8 267.4V248.3" stroke="#a4682f" stroke-width="1.2" fill="none"/>
<path d="M562 252h0M561.7 250h0M562.6 250h0M563.4 251.6h0M563.2 249.4h0M563.2 248.2h0M563.4 247.9h0M564.1 253h0M564.1 250h0M564 247.6h0M564 246.4h0M565.1 251.4h0M565 248h0M565.1 245h0M565.2 242.8h0M565 241.2h0M565.6 254.7h0M565.6 252.8h0M566 250.3h0M565.6 248.3h0M565.7 246.7h0M565.9 245.2h0M566.4 253.8h0M566.3 252.4h0M566.4 251.1h0M566.4 250.1h0M566.6 247h0M566.5 243.7h0M567.2 253.9h0M567.5 252.4h0M567.2 251.4h0M567.4 248.3h0M567.4 246.5h0M567.5 245.4h0M567.3 242.5h0M567.2 242.2h0M568.3 256h0M568.5 253.8h0M568.3 251.7h0M568.4 248.6h0M569 253.7h0M569 251.2h0M569.2 249.6h0M569.8 252.5h0M569.7 249.8h0M569.8 248.1h0M570 246.8h0M570.5 249.2h0M570.5 247.4h0M570.6 246.5h0M570.4 244.9h0M571.3 247.6h0M571.6 246.1h0M571.4 242.4h0M571.5 241.8h0M572.5 247.2h0M573.1 250.6h0M573.1 249.7h0M573.3 248.3h0M573.3 246.7h0M573.2 244.5h0M574 248.8h0M574 247.9h0M574.1 246.1h0M574.3 243.2h0M574 242.2h0M574.1 240.6h0M575 245.8h0M575.3 245.4h0M576 246.4h0M575.7 245.3h0M576.9 244.3h0M576.6 240.2h0M574 224.9h0M574.6 228.3h0M573.7 235.8h0" stroke="#a4682f" stroke-width="1.3" stroke-linecap="square" fill="none"/>
<path d="M575.5 241h0M565 246.1h0" stroke="#a4682f" stroke-width="1.4" stroke-linecap="square" fill="none"/>
<path d="M567.7 259.1h0M576.3 262.2h0M563 258.9h0M565 259.6h0M573.6 261.5h0M563.1 257.3h0M574.8 256.8h0M576.1 256.5h0M565.3 263.6h0M569 258.5h0M563.2 259.9h0" stroke="#fff" stroke-opacity="0.55" stroke-width="1" stroke-linecap="square" fill="none"/>
<path d="M578.1 267.4V259M578.9 267.4V259.7M579.7 267.4V259M580.4 267.4V256.2M581 267.4V260.5M582 267.4V259.4M582.8 267.4V255.2M583.6 267.4V253.8M584.4 267.4V254.4M585.5 267.4V253.5M586.2 267.4V254.6M586.8 267.4V254.7M587.8 267.4V252.9M588.9 267.4V250.6M589.9 267.4V252.9M590.6 267.4V251.5M591.3 267.4V253.4M592.1 267.4V256.9M592.8 267.4V254" stroke="#7198c1" stroke-width="1.2" fill="none"/>
<path d="M578.1 257.4h0M578.2 255.9h0M578.1 254.6h0M578.7 258.1h0M578.8 256.9h0M578.8 254.4h0M579 252.9h0M579 250.5h0M578.9 248.5h0M578.7 247.2h0M578.8 246.7h0M579.7 257.5h0M579.9 256h0M579.7 254.5h0M579.6 253.3h0M579.7 253.2h0M580.5 254.1h0M580.2 253.8h0M580.9 259.3h0M581.1 257.3h0M581.1 256h0M581.2 253.1h0M581.1 251.8h0M582 257.5h0M582 256h0M582 253.8h0M582.1 251.7h0M582 250.4h0M582.1 249.4h0M582.8 252.8h0M582.8 249.8h0M582.9 248.4h0M582.7 245.1h0M582.9 244.3h0M583.7 253h0M583.5 249.9h0M583.7 247.7h0M583.7 247.2h0M584.3 251.9h0M585.6 251.2h0M585.3 247.4h0M585.5 246.8h0M586.3 252.7h0M586 251.6h0M586 249.2h0M586.1 247.2h0M586.9 253.4h0M586.7 252.4h0M586.7 251.6h0M587.8 251.7h0M587.6 250.2h0M588.9 248.4h0M588.9 246.5h0M589.7 251.4h0M589.7 250.1h0M590 248h0M590 245.3h0M589.9 240.8h0M590 239.4h0M590.5 248.6h0M590.7 245.6h0M590.5 244.1h0M590.7 239.4h0M590.8 236.1h0M590.6 234.2h0M590.8 230.9h0M590.8 229.6h0M591.4 250.7h0M591.3 249.2h0M591.3 245.1h0M591.2 240.1h0M591.4 238.7h0M591.3 236.2h0M591.3 234.9h0M592.2 255.4h0M592.1 252.7h0M592 251.8h0M592.1 248.4h0M592.1 245.5h0M592.9 252.8h0M592.6 251.7h0" stroke="#7198c1" stroke-width="1.3" stroke-linecap="square" fill="none"/>
<path d="M580 249.2h0M585.9 248h0" stroke="#7198c1" stroke-width="1.4" stroke-linecap="square" fill="none"/>
<path d="M579.7 259.2h0M587.9 263.3h0M583.5 262.9h0M579.1 259.8h0M581.6 259.6h0M590.1 258.8h0M587.4 259.5h0M590.9 261.7h0M582.8 264h0M578.7 259.1h0" stroke="#fff" stroke-opacity="0.55" stroke-width="1" stroke-linecap="square" fill="none"/>
<path d="M593.8 267.4V257.7M594.8 267.4V257.9M595.8 267.4V253.9M596.8 267.4V252.7M597.7 267.4V254.1M598.6 267.4V251.6M599.6 267.4V252.7M600.2 267.4V251.3M601.3 267.4V252.8M602.1 267.4V254.8M602.8 267.4V253.4M603.7 267.4V252.2M604.6 267.4V255.4M605.3 267.4V253.9M606.2 267.4V255M606.9 267.4V252.2M607.7 267.4V253M608.4 267.4V253.8M609 267.4V249" stroke="#a8c862" stroke-width="1.2" fill="none"/>
<path d="M594 256.2h0M593.7 254.7h0M593.7 252.4h0M594 249.6h0M594.8 256.9h0M594.7 255.1h0M594.8 253.8h0M594.7 250.8h0M594.8 249.3h0M594.8 247.9h0M594.8 246h0M594.7 245.9h0M595.7 252.6h0M596 250.2h0M595.8 249h0M595.9 245h0M596 243.5h0M596 240h0M595.9 238.9h0M596.8 249.6h0M596.8 246.1h0M596.9 244.3h0M597.9 251.9h0M597.7 250.5h0M597.6 247.6h0M598.6 250.6h0M598.5 248.9h0M598.4 247.6h0M599.6 251h0M599.7 248.3h0M599.8 245.7h0M599.6 244.8h0M600.3 250.3h0M601.3 251.2h0M601.9 253h0M602 251h0M602.7 252.2h0M603.6 250.4h0M604.6 254h0M604.5 251.7h0M604.4 248.8h0M604.6 246.4h0M605.4 251.2h0M605.1 248.2h0M605.4 246h0M605.5 243.7h0M606.1 253.1h0M606.2 251.4h0M606 250.4h0M606 248.1h0M606 246.7h0M606.2 244h0M606.3 241.1h0M606.3 238.8h0M606.7 250.3h0M606.9 246.7h0M606.8 244.8h0M607.8 250.9h0M607.8 248.1h0M607.8 245h0M608.5 251.4h0M608.3 248.7h0M608.5 246.4h0M608.5 244.6h0M608.6 242.3h0M609 245.1h0M609.2 244.8h0" stroke="#a8c862" stroke-width="1.3" stroke-linecap="square" fill="none"/>
<path d="M597 246.9h0M606.3 249h0" stroke="#a8c862" stroke-width="1.4" stroke-linecap="square" fill="none"/>
<path d="M598.7 257.1h0M603.8 261.5h0M598.8 261.3h0M607 258.9h0M595.6 259.6h0M605.6 261.8h0M596.4 258.8h0M607.8 261.4h0M598.8 257h0M606.1 264.3h0M595.3 259.1h0" stroke="#fff" stroke-opacity="0.55" stroke-width="1" stroke-linecap="square" fill="none"/>
<path d="M610.3 267.4V251.8M611 267.4V255.6M611.8 267.4V254.9M612.6 267.4V254.9M613.3 267.4V252.4M614.1 267.4V252.5M614.8 267.4V250.9M615.5 267.4V253.7M616.4 267.4V249.7M617 267.4V254M617.8 267.4V250.9M618.6 267.4V250.5M619.5 267.4V250.7M620.6 267.4V250.5M621.6 267.4V253.2" stroke="#d6b63c" stroke-width="1.2" fill="none"/>
<path d="M610.4 251h0M610.9 253.7h0M610.9 252.8h0M610.9 250.5h0M611 247.6h0M611.1 244.9h0M610.9 241.1h0M611 239.4h0M611.6 253h0M611.9 252.1h0M611.8 251.3h0M611.6 248.3h0M611.6 246h0M612 243.3h0M611.9 242.3h0M612.7 252.6h0M612.6 249.9h0M612.4 248.1h0M612.5 246.3h0M612.6 245.2h0M612.7 242h0M612.4 237.7h0M612.7 236.6h0M613.3 250.3h0M613.2 248.5h0M613.5 245h0M613.1 241.4h0M613.1 239.1h0M613.2 235h0M614.3 250.9h0M614.3 247.9h0M614.3 244.7h0M614 241.3h0M614 239.7h0M614.1 236.6h0M614.1 235.7h0M614.6 248.1h0M614.6 246h0M614.7 243.1h0M614.9 241.5h0M614.6 237.9h0M614.8 235h0M614.9 233.4h0M614.9 227.9h0M615.5 252.6h0M615.3 250.4h0M615.6 248h0M615.6 244.5h0M615.5 241.6h0M615.5 239.2h0M615.4 235.1h0M615.5 231.3h0M616.3 248.7h0M616.6 245.9h0M616.3 242.6h0M616.6 240.4h0M616.5 237.5h0M617 251.5h0M617.1 249.9h0M617.1 247.2h0M616.9 246.6h0M618 249.8h0M617.8 247.1h0M618.7 249.1h0M619.4 248.4h0M620.6 247.7h0M620.5 247.6h0M621.7 252h0M621.7 249.5h0M621.8 248.6h0M621.6 247.3h0M621.8 245.3h0M621.8 243.2h0" stroke="#d6b63c" stroke-width="1.3" stroke-linecap="square" fill="none"/>
<path d="M616.5 244.6h0" stroke="#d6b63c" stroke-width="1.4" stroke-linecap="square" fill="none"/>
<path d="M617.9 253.6h0M618.7 260.1h0M616.3 261.3h0M618 262.2h0M619.7 260.1h0M612.2 256.2h0M616.8 255.6h0M619.6 256.6h0" stroke="#fff" stroke-opacity="0.55" stroke-width="1" stroke-linecap="square" fill="none"/>
<path d="M622.8 267.4V248.1M623.7 267.4V244.2M624.4 267.4V246.4M625.1 267.4V250.4M626 267.4V247M627 267.4V248.3M627.9 267.4V254.1M628.8 267.4V253.9M629.5 267.4V249.6M630.2 267.4V254.8M631.1 267.4V254.7M631.7 267.4V253.9M632.7 267.4V252.6M633.8 267.4V250.1" stroke="#d93a8a" stroke-width="1.2" fill="none"/>
<path d="M622.6 246.6h0M622.8 245.2h0M622.6 242.3h0M622.8 239.3h0M625.2 247.8h0M624.9 246.1h0M625.1 244.6h0M625.3 241.7h0M625.1 239.6h0M626.1 244.1h0M626.1 242.4h0M625.9 240.3h0M626 239.2h0M626 235.7h0M626.1 234.8h0M625.9 234h0M626.9 246h0M626.8 243.6h0M627.1 242.6h0M626.8 239.9h0M627.9 252.8h0M628 251.1h0M627.8 249h0M628.1 246.6h0M627.8 246.3h0M628.7 252.9h0M628.7 251.8h0M629 250.1h0M629 249.3h0M628.8 247.4h0M628.8 245.3h0M628.6 244.8h0M629.5 247.4h0M629.6 245.2h0M629.7 242.9h0M629.6 241.3h0M630.2 253.8h0M630.4 252h0M630.1 250.2h0M630.1 248.8h0M630.1 246.6h0M630.2 245.1h0M630.2 241.7h0M630.1 240.6h0M630.3 240h0M631 253.2h0M631.1 251.9h0M631.1 249.8h0M630.9 248.1h0M631.1 245h0M631.1 244.8h0M631.8 253.1h0M631.6 251.7h0M631.9 250.5h0M631.5 249.3h0M631.9 247.7h0M631.6 246.3h0M632.9 251.4h0M632.7 249.7h0M632.9 247.5h0M632.8 245.4h0M632.6 243.6h0M633.9 247.8h0M633.8 246.2h0" stroke="#d93a8a" stroke-width="1.3" stroke-linecap="square" fill="none"/>
<path d="M628.3 244.4h0" stroke="#d93a8a" stroke-width="1.4" stroke-linecap="square" fill="none"/>
<path d="M623.3 257.4h0M624.9 262.6h0M627.3 254.3h0M623.8 254.5h0M633.6 254.7h0M625.9 256.1h0M630.8 261.9h0M633.8 253.5h0" stroke="#fff" stroke-opacity="0.55" stroke-width="1" stroke-linecap="square" fill="none"/>
<path d="M635.4 267.4V251.1M636.1 267.4V249.9M636.9 267.4V251.6M637.7 267.4V255.1M638.7 267.4V257.5M639.4 267.4V256.7M640.1 267.4V257.9M641 267.4V256.8M641.8 267.4V255.7M642.5 267.4V253.3M643.3 267.4V253.5M643.9 267.4V254.2" stroke="#80a0a8" stroke-width="1.2" fill="none"/>
<path d="M635.6 249.6h0M635.4 246.1h0M635.3 244.2h0M635.5 243.1h0M635.3 240.8h0M636.3 246.6h0M636.1 244.4h0M636.1 240.8h0M636.3 237.7h0M636.2 235.4h0M636.9 249h0M636.8 246.1h0M637 242.7h0M637 238.5h0M636.9 235h0M637 230.8h0M637 226.2h0M637.9 253.4h0M637.6 251.7h0M637.5 250h0M637.6 246.7h0M637.8 244.1h0M637.6 242.8h0M637.6 240.8h0M637.7 236.7h0M637.6 234.7h0M637.8 234.3h0M638.7 256.2h0M638.6 254.9h0M638.8 254.1h0M638.6 252.9h0M638.7 251.9h0M638.7 250.9h0M638.5 249.7h0M638.5 247.5h0M638.6 245.8h0M639.4 255.8h0M639.3 253.6h0M639.4 252.1h0M639.6 250.4h0M639.3 249.1h0M639.4 248.1h0M639.6 247.2h0M640.1 256.7h0M640.2 255.2h0M640 253.1h0M640.3 250.7h0M640.3 248.6h0M640.1 245.2h0M640 244h0M640 243.1h0M640.2 240.3h0M640.2 238.4h0M640.3 237.6h0M640.9 254.9h0M641.1 253.8h0M641.2 252.5h0M641.2 249.8h0M641.2 248.3h0M641.1 246.9h0M641.1 243.4h0M640.9 240.6h0M641.1 235.3h0M640.9 230.9h0M640.9 229.3h0M641.2 227.4h0M641.8 254.2h0M641.7 252.1h0M641.8 250.6h0M641.9 248.4h0M641.7 246.7h0M641.8 244.9h0M641.8 242.6h0M641.7 241.5h0M641.9 240.5h0M641.8 238.7h0M641.7 233.7h0M642.3 252.3h0M642.7 250.2h0M642.6 248.5h0M642.6 246.6h0M642.5 244h0M642.4 241.7h0M643.8 252.2h0M644.1 249.7h0M644 248.7h0M644 246.9h0M643.8 242.8h0" stroke="#80a0a8" stroke-width="1.3" stroke-linecap="square" fill="none"/>
<path d="M636.3 247.7h0" stroke="#80a0a8" stroke-width="1.4" stroke-linecap="square" fill="none"/>
<path d="M640.3 262h0M642.9 256.2h0M643.2 255.1h0M643.1 260.1h0M641.6 255.7h0M636.4 260.4h0M643.4 259.6h0" stroke="#fff" stroke-opacity="0.55" stroke-width="1" stroke-linecap="square" fill="none"/>
<path d="M645.4 267.4V251.7M646.2 267.4V251.8M647 267.4V251.3M648 267.4V249.3M649 267.4V250.8M649.6 267.4V249.1" stroke="#c0977a" stroke-width="1.2" fill="none"/>
<path d="M645.6 249.6h0M645.5 249.3h0M646.3 250.6h0M646.3 248.7h0M646.1 246.7h0M646.1 245.3h0M646.3 243.7h0M646.3 242.6h0M647.1 250h0M646.9 247.7h0M646.9 246.7h0M646.9 246.1h0M647.9 249.2h0M648.9 249.6h0M649.6 246.2h0M649.6 245.5h0" stroke="#c0977a" stroke-width="1.3" stroke-linecap="square" fill="none"/>
<path d="" stroke="#c0977a" stroke-width="1.4" stroke-linecap="square" fill="none"/>
<path d="M648.8 256.5h0M646.7 255.2h0M646.5 255.1h0" stroke="#fff" stroke-opacity="0.55" stroke-width="1" stroke-linecap="square" fill="none"/>
<path d="M650.9 267.4V249.7M651.9 267.4V252.7M652.9 267.4V253.3M653.6 267.4V248.4M654.6 267.4V249.6M655.3 267.4V250.1M656.2 267.4V254.7M656.9 267.4V254.8M657.5 267.4V252.3M658.6 267.4V252.1" stroke="#2d5a90" stroke-width="1.2" fill="none"/>
<path d="M650.9 247h0M651.1 244.2h0M651 243.4h0M652 250.4h0M651.8 249.2h0M651.9 246.5h0M652.8 250.9h0M653 249h0M652.7 246.5h0M652.8 245.1h0M653 243h0M652.8 242.2h0M653.7 245.3h0M653.4 244.8h0M654.5 248.5h0M654.4 246h0M654.8 242.9h0M655.3 248.1h0M655.1 246.1h0M655.1 244.2h0M655.3 243.2h0M655.1 241.8h0M656.1 252.6h0M656 250h0M656.1 248.1h0M656.1 245.5h0M656.2 241.7h0M656.4 237.9h0M656.8 252.6h0M656.7 250.5h0M657 247.6h0M656.9 244.1h0M656.9 242.7h0M656.9 240.7h0M657.4 250.8h0M657.6 248.1h0M658.4 251.1h0M658.4 248.2h0M658.5 247.2h0" stroke="#2d5a90" stroke-width="1.3" stroke-linecap="square" fill="none"/>
<path d="M656.7 239.1h0" stroke="#2d5a90" stroke-width="1.4" stroke-linecap="square" fill="none"/>
<path d="M654.9 263.6h0M655.6 253.9h0M653.4 263.4h0M658.7 262.4h0M654.2 260.9h0M654.5 256.8h0" stroke="#fff" stroke-opacity="0.55" stroke-width="1" stroke-linecap="square" fill="none"/>
<path d="M622.8 51.3h0M622.8 53.7h0M622.8 56.4h0M622.8 74.7h0M622.8 113.9h0M622.8 145h0M622.8 146.8h0M622.8 156.8h0M622.8 160.4h0M622.8 165.9h0M622.8 169.9h0M622.8 179.6h0M622.8 180.9h0M622.8 188.2h0" stroke="#e0559c" stroke-width="1.4" stroke-linecap="square" fill="none"/>
<path d="M622.8 101.1h0" stroke="#f0a8cc" stroke-width="1.4" stroke-linecap="square" fill="none"/>
<rect x="62.0" y="9.0" width="602.6" height="260.9" fill="none" stroke="#4a7bd0" stroke-width="2"/>
<text x="-1.1" y="350.2" font-size="33">b</text>
<rect x="4.7" y="366.3" width="677.3" height="220.7" fill="#fff"/>
<path d="M105.1 367.1V586.2M113.5 367.1V586.2M122 367.1V586.2M130.4 367.1V586.2M138.8 367.1V586.2M147.2 367.1V586.2M155.7 367.1V586.2M164.1 367.1V586.2M172.5 367.1V586.2M181 367.1V586.2M189.4 367.1V586.2M197.8 367.1V586.2M206.3 367.1V586.2M214.7 367.1V586.2M223.1 367.1V586.2M231.5 367.1V586.2M240 367.1V586.2M248.4 367.1V586.2M256.8 367.1V586.2M265.3 367.1V586.2M273.7 367.1V586.2M282.1 367.1V586.2M290.6 367.1V586.2M299 367.1V586.2M307.4 367.1V586.2M315.9 367.1V586.2M324.3 367.1V586.2M332.7 367.1V586.2M341.1 367.1V586.2M349.6 367.1V586.2M358 367.1V586.2M366.4 367.1V586.2M374.9 367.1V586.2M383.3 367.1V586.2M391.7 367.1V586.2M400.1 367.1V586.2M408.6 367.1V586.2M417 367.1V586.2M425.4 367.1V586.2M433.9 367.1V586.2M442.3 367.1V586.2M450.7 367.1V586.2M459.2 367.1V586.2M467.6 367.1V586.2M476 367.1V586.2M484.4 367.1V586.2M492.9 367.1V586.2M501.3 367.1V586.2M509.7 367.1V586.2M518.2 367.1V586.2M526.6 367.1V586.2M535 367.1V586.2M543.5 367.1V586.2M551.9 367.1V586.2M560.3 367.1V586.2M568.8 367.1V586.2M577.2 367.1V586.2M585.6 367.1V586.2M594 367.1V586.2M602.5 367.1V586.2M610.9 367.1V586.2M619.3 367.1V586.2M627.8 367.1V586.2M636.2 367.1V586.2M644.6 367.1V586.2M653 367.1V586.2M661.5 367.1V586.2M669.9 367.1V586.2M678.3 367.1V586.2" stroke="#dadaf6" stroke-width="1" fill="none"/>
<path d="M95.6 367.1V586.2" stroke="#f6c4c4" stroke-width="1" fill="none"/>
<path d="M254.5 367.1V586.2" stroke="#f5e89a" stroke-width="1.4" fill="none"/>
<path d="M503.6 367.1V586.2" stroke="#f8f0c8" stroke-width="1" fill="none"/>
<text x="94.6" y="378.9" font-size="8.4" fill="#222" text-anchor="end" textLength="20" lengthAdjust="spacingAndGlyphs" stroke="#222" stroke-width="0.2">Scale</text>
<text x="96.3" y="386.3" font-size="8.4" fill="#222" text-anchor="end" textLength="22.5" lengthAdjust="spacingAndGlyphs" stroke="#222" stroke-width="0.2">chr19:</text>
<text x="94.6" y="399.4" font-size="8.4" fill="#3d3a98" text-anchor="end" textLength="49.1" lengthAdjust="spacingAndGlyphs" stroke="#3d3a98" stroke-width="0.32">RefSeq Genes</text>
<text x="94.6" y="412" font-size="8.4" fill="#3d3a98" text-anchor="end" textLength="21" lengthAdjust="spacingAndGlyphs" stroke="#3d3a98" stroke-width="0.32">NRTN</text>
<text x="77" y="448" font-size="8.4" fill="#222" textLength="11.5" lengthAdjust="spacingAndGlyphs" stroke="#222" stroke-width="0.2">100</text>
<path d="M90 447.6H94" stroke="#222" stroke-width="0.8" fill="none"/>
<text x="15.4" y="457.8" font-size="8.4" fill="#222" textLength="61.7" lengthAdjust="spacingAndGlyphs" stroke="#222" stroke-width="0.2">Layered H3K27Ac</text>
<text x="85" y="469" font-size="8.4" fill="#222" textLength="4.5" lengthAdjust="spacingAndGlyphs" stroke="#222" stroke-width="0.2">0</text>
<path d="M90 468.6H94" stroke="#222" stroke-width="0.8" fill="none"/>
<text x="296.1" y="378" font-size="8.6" fill="#111" textLength="12.9" lengthAdjust="spacingAndGlyphs" stroke="#111" stroke-width="0.2">5 kb</text>
<path d="M311.5 374.6H467.2" stroke="#707070" stroke-width="1" fill="none"/>
<path d="M311.5 371.2V378.2" stroke="#333" stroke-width="0.9" fill="none"/>
<path d="M467.2 371.2V378.2" stroke="#333" stroke-width="0.9" fill="none"/>
<text x="474.5" y="378.3" font-size="8.6" fill="#111" textLength="16.3" lengthAdjust="spacingAndGlyphs" stroke="#111" stroke-width="0.2">hg19</text>
<text x="166.4" y="386.5" font-size="8.4" fill="#222" textLength="33.4" lengthAdjust="spacingAndGlyphs" stroke="#222" stroke-width="0.2">5,830,000</text>
<path d="M202.5 380.3V386.5" stroke="#222" stroke-width="1" fill="none"/>
<text x="322.2" y="386.5" font-size="8.4" fill="#222" textLength="33.2" lengthAdjust="spacingAndGlyphs" stroke="#222" stroke-width="0.2">5,835,000</text>
<path d="M358.5 380.3V386.5" stroke="#222" stroke-width="1" fill="none"/>
<text x="477.2" y="386.5" font-size="8.4" fill="#222" textLength="33.3" lengthAdjust="spacingAndGlyphs" stroke="#222" stroke-width="0.2">5,840,000</text>
<path d="M513.5 380.3V386.5" stroke="#222" stroke-width="1" fill="none"/>
<text x="633" y="386.5" font-size="8.4" fill="#222" textLength="33.5" lengthAdjust="spacingAndGlyphs" stroke="#222" stroke-width="0.2">5,845,000</text>
<path d="M669.5 380.3V386.5" stroke="#222" stroke-width="1" fill="none"/>
<path d="M98 396H133" stroke="#25216e" stroke-width="0.9" fill="none"/>
<rect x="133" y="392.8" width="14" height="6.3" fill="#25216e"/>
<rect x="147" y="394.3" width="4" height="3.4" fill="#25216e"/>
<path d="M98 409.2H133" stroke="#25216e" stroke-width="0.8" fill="none"/>
<path d="M102 408.2L101 409.2L102 410.2M106.2 408.2L105.2 409.2L106.2 410.2M110.4 408.2L109.4 409.2L110.4 410.2M114.6 408.2L113.6 409.2L114.6 410.2M118.8 408.2L117.8 409.2L118.8 410.2M123 408.2L122 409.2L123 410.2M127.2 408.2L126.2 409.2L127.2 410.2M131.4 408.2L130.4 409.2L131.4 410.2" stroke="#25216e" stroke-width="0.6" fill="none"/>
<rect x="133" y="406" width="14" height="6.4" fill="#25216e"/>
<rect x="147" y="407.5" width="4" height="3.4" fill="#25216e"/>
<rect x="222.9" y="394.1" width="26.7" height="3.8" fill="#25216e"/>
<rect x="249.6" y="392.4" width="35" height="7" fill="#25216e"/>
<path d="M284.6 396H473.7" stroke="#25216e" stroke-width="0.9" fill="none"/>
<rect x="357.1" y="393.8" width="4.9" height="4.3" fill="#25216e"/>
<rect x="473.7" y="394" width="32.8" height="4" fill="#25216e"/>
<text x="365.1" y="392.6" font-size="8.4" fill="#3d3a98" textLength="49.1" lengthAdjust="spacingAndGlyphs" stroke="#3d3a98" stroke-width="0.32">RefSeq Genes</text>
<text x="251.3" y="406.5" font-size="8.4" fill="#3d3a98" textLength="276.3" lengthAdjust="spacingAndGlyphs" stroke="#3d3a98" stroke-width="0.32">UCSC Genes (RefSeq, GenBank, CCDS, Rfam, tRNAs &amp; Comparative Genomics)</text>
<path d="M284.6 409.4H473.7" stroke="#7a6cc8" stroke-width="0.8" fill="none"/>
<path d="M288.6 408.4L287.6 409.4L288.6 410.4M292.8 408.4L291.8 409.4L292.8 410.4M297 408.4L296 409.4L297 410.4M301.2 408.4L300.2 409.4L301.2 410.4M305.4 408.4L304.4 409.4L305.4 410.4M309.6 408.4L308.6 409.4L309.6 410.4M313.8 408.4L312.8 409.4L313.8 410.4M318 408.4L317 409.4L318 410.4M322.2 408.4L321.2 409.4L322.2 410.4M326.4 408.4L325.4 409.4L326.4 410.4M330.6 408.4L329.6 409.4L330.6 410.4M334.8 408.4L333.8 409.4L334.8 410.4M339 408.4L338 409.4L339 410.4M343.2 408.4L342.2 409.4L343.2 410.4M347.4 408.4L346.4 409.4L347.4 410.4M351.6 408.4L350.6 409.4L351.6 410.4M355.8 408.4L354.8 409.4L355.8 410.4M360 408.4L359 409.4L360 410.4M364.2 408.4L363.2 409.4L364.2 410.4M368.4 408.4L367.4 409.4L368.4 410.4M372.6 408.4L371.6 409.4L372.6 410.4M376.8 408.4L375.8 409.4L376.8 410.4M381 408.4L380 409.4L381 410.4M385.2 408.4L384.2 409.4L385.2 410.4M389.4 408.4L388.4 409.4L389.4 410.4M393.6 408.4L392.6 409.4L393.6 410.4M397.8 408.4L396.8 409.4L397.8 410.4M402 408.4L401 409.4L402 410.4M406.2 408.4L405.2 409.4L406.2 410.4M410.4 408.4L409.4 409.4L410.4 410.4M414.6 408.4L413.6 409.4L414.6 410.4M418.8 408.4L417.8 409.4L418.8 410.4M423 408.4L422 409.4L423 410.4M427.2 408.4L426.2 409.4L427.2 410.4M431.4 408.4L430.4 409.4L431.4 410.4M435.6 408.4L434.6 409.4L435.6 410.4M439.8 408.4L438.8 409.4L439.8 410.4M444 408.4L443 409.4L444 410.4M448.2 408.4L447.2 409.4L448.2 410.4M452.4 408.4L451.4 409.4L452.4 410.4M456.6 408.4L455.6 409.4L456.6 410.4M460.8 408.4L459.8 409.4L460.8 410.4M465 408.4L464 409.4L465 410.4M469.2 408.4L468.2 409.4L469.2 410.4" stroke="#7a6cc8" stroke-width="0.6" fill="none"/>
<rect x="222.9" y="407.6" width="26.7" height="3.6" fill="#9484d6"/>
<text x="221.2" y="412.4" font-size="8.6" fill="#8a7cd0" text-anchor="end" textLength="18.6" lengthAdjust="spacingAndGlyphs">FUT6</text>
<path d="M284.6 416.4H473.7" stroke="#7a6cc8" stroke-width="0.8" fill="none"/>
<path d="M288.6 415.4L287.6 416.4L288.6 417.4M292.8 415.4L291.8 416.4L292.8 417.4M297 415.4L296 416.4L297 417.4M301.2 415.4L300.2 416.4L301.2 417.4M305.4 415.4L304.4 416.4L305.4 417.4M309.6 415.4L308.6 416.4L309.6 417.4M313.8 415.4L312.8 416.4L313.8 417.4M318 415.4L317 416.4L318 417.4M322.2 415.4L321.2 416.4L322.2 417.4M326.4 415.4L325.4 416.4L326.4 417.4M330.6 415.4L329.6 416.4L330.6 417.4M334.8 415.4L333.8 416.4L334.8 417.4M339 415.4L338 416.4L339 417.4M343.2 415.4L342.2 416.4L343.2 417.4M347.4 415.4L346.4 416.4L347.4 417.4M351.6 415.4L350.6 416.4L351.6 417.4M355.8 415.4L354.8 416.4L355.8 417.4M360 415.4L359 416.4L360 417.4M364.2 415.4L363.2 416.4L364.2 417.4M368.4 415.4L367.4 416.4L368.4 417.4M372.6 415.4L371.6 416.4L372.6 417.4M376.8 415.4L375.8 416.4L376.8 417.4M381 415.4L380 416.4L381 417.4M385.2 415.4L384.2 416.4L385.2 417.4M389.4 415.4L388.4 416.4L389.4 417.4M393.6 415.4L392.6 416.4L393.6 417.4M397.8 415.4L396.8 416.4L397.8 417.4M402 415.4L401 416.4L402 417.4M406.2 415.4L405.2 416.4L406.2 417.4M410.4 415.4L409.4 416.4L410.4 417.4M414.6 415.4L413.6 416.4L414.6 417.4M418.8 415.4L417.8 416.4L418.8 417.4M423 415.4L422 416.4L423 417.4M427.2 415.4L426.2 416.4L427.2 417.4M431.4 415.4L430.4 416.4L431.4 417.4M435.6 415.4L434.6 416.4L435.6 417.4M439.8 415.4L438.8 416.4L439.8 417.4M444 415.4L443 416.4L444 417.4M448.2 415.4L447.2 416.4L448.2 417.4M452.4 415.4L451.4 416.4L452.4 417.4M456.6 415.4L455.6 416.4L456.6 417.4M460.8 415.4L459.8 416.4L460.8 417.4M465 415.4L464 416.4L465 417.4M469.2 415.4L468.2 416.4L469.2 417.4" stroke="#7a6cc8" stroke-width="0.6" fill="none"/>
<rect x="222.9" y="414.6" width="26.7" height="3.6" fill="#9484d6"/>
<text x="221.2" y="419.4" font-size="8.6" fill="#8a7cd0" text-anchor="end" textLength="18.6" lengthAdjust="spacingAndGlyphs">FUT6</text>
<path d="M284.6 423.1H473.7" stroke="#25216e" stroke-width="0.8" fill="none"/>
<path d="M288.6 422.1L287.6 423.1L288.6 424.1M292.8 422.1L291.8 423.1L292.8 424.1M297 422.1L296 423.1L297 424.1M301.2 422.1L300.2 423.1L301.2 424.1M305.4 422.1L304.4 423.1L305.4 424.1M309.6 422.1L308.6 423.1L309.6 424.1M313.8 422.1L312.8 423.1L313.8 424.1M318 422.1L317 423.1L318 424.1M322.2 422.1L321.2 423.1L322.2 424.1M326.4 422.1L325.4 423.1L326.4 424.1M330.6 422.1L329.6 423.1L330.6 424.1M334.8 422.1L333.8 423.1L334.8 424.1M339 422.1L338 423.1L339 424.1M343.2 422.1L342.2 423.1L343.2 424.1M347.4 422.1L346.4 423.1L347.4 424.1M351.6 422.1L350.6 423.1L351.6 424.1M355.8 422.1L354.8 423.1L355.8 424.1M360 422.1L359 423.1L360 424.1M364.2 422.1L363.2 423.1L364.2 424.1M368.4 422.1L367.4 423.1L368.4 424.1M372.6 422.1L371.6 423.1L372.6 424.1M376.8 422.1L375.8 423.1L376.8 424.1M381 422.1L380 423.1L381 424.1M385.2 422.1L384.2 423.1L385.2 424.1M389.4 422.1L388.4 423.1L389.4 424.1M393.6 422.1L392.6 423.1L393.6 424.1M397.8 422.1L396.8 423.1L397.8 424.1M402 422.1L401 423.1L402 424.1M406.2 422.1L405.2 423.1L406.2 424.1M410.4 422.1L409.4 423.1L410.4 424.1M414.6 422.1L413.6 423.1L414.6 424.1M418.8 422.1L417.8 423.1L418.8 424.1M423 422.1L422 423.1L423 424.1M427.2 422.1L426.2 423.1L427.2 424.1M431.4 422.1L430.4 423.1L431.4 424.1M435.6 422.1L434.6 423.1L435.6 424.1M439.8 422.1L438.8 423.1L439.8 424.1M444 422.1L443 423.1L444 424.1M448.2 422.1L447.2 423.1L448.2 424.1M452.4 422.1L451.4 423.1L452.4 424.1M456.6 422.1L455.6 423.1L456.6 424.1M460.8 422.1L459.8 423.1L460.8 424.1M465 422.1L464 423.1L465 424.1M469.2 422.1L468.2 423.1L469.2 424.1" stroke="#25216e" stroke-width="0.6" fill="none"/>
<rect x="222.9" y="421.3" width="26.7" height="3.6" fill="#25216e"/>
<text x="221.2" y="426.1" font-size="8.6" fill="#25216e" text-anchor="end" textLength="18.6" lengthAdjust="spacingAndGlyphs" stroke="#25216e" stroke-width="0.25">FUT6</text>
<path d="M284.6 430.4H473.7" stroke="#25216e" stroke-width="0.8" fill="none"/>
<path d="M288.6 429.4L287.6 430.4L288.6 431.4M292.8 429.4L291.8 430.4L292.8 431.4M297 429.4L296 430.4L297 431.4M301.2 429.4L300.2 430.4L301.2 431.4M305.4 429.4L304.4 430.4L305.4 431.4M309.6 429.4L308.6 430.4L309.6 431.4M313.8 429.4L312.8 430.4L313.8 431.4M318 429.4L317 430.4L318 431.4M322.2 429.4L321.2 430.4L322.2 431.4M326.4 429.4L325.4 430.4L326.4 431.4M330.6 429.4L329.6 430.4L330.6 431.4M334.8 429.4L333.8 430.4L334.8 431.4M339 429.4L338 430.4L339 431.4M343.2 429.4L342.2 430.4L343.2 431.4M347.4 429.4L346.4 430.4L347.4 431.4M351.6 429.4L350.6 430.4L351.6 431.4M355.8 429.4L354.8 430.4L355.8 431.4M360 429.4L359 430.4L360 431.4M364.2 429.4L363.2 430.4L364.2 431.4M368.4 429.4L367.4 430.4L368.4 431.4M372.6 429.4L371.6 430.4L372.6 431.4M376.8 429.4L375.8 430.4L376.8 431.4M381 429.4L380 430.4L381 431.4M385.2 429.4L384.2 430.4L385.2 431.4M389.4 429.4L388.4 430.4L389.4 431.4M393.6 429.4L392.6 430.4L393.6 431.4M397.8 429.4L396.8 430.4L397.8 431.4M402 429.4L401 430.4L402 431.4M406.2 429.4L405.2 430.4L406.2 431.4M410.4 429.4L409.4 430.4L410.4 431.4M414.6 429.4L413.6 430.4L414.6 431.4M418.8 429.4L417.8 430.4L418.8 431.4M423 429.4L422 430.4L423 431.4M427.2 429.4L426.2 430.4L427.2 431.4M431.4 429.4L430.4 430.4L431.4 431.4M435.6 429.4L434.6 430.4L435.6 431.4M439.8 429.4L438.8 430.4L439.8 431.4M444 429.4L443 430.4L444 431.4M448.2 429.4L447.2 430.4L448.2 431.4M452.4 429.4L451.4 430.4L452.4 431.4M456.6 429.4L455.6 430.4L456.6 431.4M460.8 429.4L459.8 430.4L460.8 431.4M465 429.4L464 430.4L465 431.4M469.2 429.4L468.2 430.4L469.2 431.4" stroke="#25216e" stroke-width="0.6" fill="none"/>
<rect x="222.9" y="428.6" width="26.7" height="3.6" fill="#25216e"/>
<text x="221.2" y="433.4" font-size="8.6" fill="#25216e" text-anchor="end" textLength="18.6" lengthAdjust="spacingAndGlyphs" stroke="#25216e" stroke-width="0.25">FUT6</text>
<rect x="249.6" y="406.4" width="35" height="13" fill="#9484d6"/>
<rect x="249.6" y="419.9" width="35" height="13.3" fill="#25216e"/>
<path d="M249.6 426.8H284.6" stroke="#6a64a8" stroke-width="0.6" fill="none"/>
<rect x="357.1" y="407.5" width="4.9" height="3.8" fill="#9484d6"/>
<rect x="473.7" y="407.5" width="10.6" height="3.8" fill="#9484d6"/>
<rect x="473.7" y="414.5" width="10.6" height="3.8" fill="#9484d6"/>
<rect x="496" y="414.5" width="8.7" height="3.8" fill="#9484d6"/>
<rect x="357.1" y="421.2" width="4.9" height="3.8" fill="#25216e"/>
<rect x="473.7" y="421.2" width="32.8" height="3.8" fill="#25216e"/>
<rect x="473.7" y="428.5" width="32.8" height="3.8" fill="#25216e"/>
<text x="247.8" y="440.6" font-size="8.6" fill="#25216e" text-anchor="end" textLength="18.9" lengthAdjust="spacingAndGlyphs" stroke="#25216e" stroke-width="0.25">FUT6</text>
<rect x="249.6" y="434.5" width="35" height="6.1" fill="#25216e"/>
<path d="M253.7 436.2L252.1 437.6L253.7 438.9M257.4 436.2L255.8 437.6L257.4 438.9M261.1 436.2L259.5 437.6L261.1 438.9M264.8 436.2L263.2 437.6L264.8 438.9M268.5 436.2L266.9 437.6L268.5 438.9M272.2 436.2L270.6 437.6L272.2 438.9M275.9 436.2L274.3 437.6L275.9 438.9M279.6 436.2L278 437.6L279.6 438.9M283.3 436.2L281.7 437.6L283.3 438.9" stroke="#fff" stroke-width="0.7" fill="none"/>
<text x="232.4" y="448.2" font-size="8.4" fill="#222" textLength="314.2" lengthAdjust="spacingAndGlyphs" stroke="#222" stroke-width="0.2">H3K27Ac Mark (Often Found Near Active Regulatory Elements) on 7 cell lines from ENCODE</text>
<rect x="604.4" y="394.1" width="26.3" height="3.8" fill="#25216e"/>
<rect x="630.7" y="392.6" width="35" height="6.6" fill="#25216e"/>
<path d="M665.7 396H681.2" stroke="#25216e" stroke-width="0.9" fill="none"/>
<rect x="604.4" y="407.4" width="26.6" height="3.6" fill="#25216e"/>
<path d="M666 409.2H681.2" stroke="#25216e" stroke-width="0.8" fill="none"/>
<path d="M670 408.2L669 409.2L670 410.2M674.2 408.2L673.2 409.2L674.2 410.2M678.4 408.2L677.4 409.2L678.4 410.2" stroke="#25216e" stroke-width="0.6" fill="none"/>
<text x="602.1" y="412.2" font-size="8.6" fill="#25216e" text-anchor="end" textLength="18.2" lengthAdjust="spacingAndGlyphs" stroke="#25216e" stroke-width="0.25">FUT3</text>
<rect x="604.4" y="414.4" width="26.6" height="3.6" fill="#25216e"/>
<path d="M666 416.2H681.2" stroke="#25216e" stroke-width="0.8" fill="none"/>
<path d="M670 415.2L669 416.2L670 417.2M674.2 415.2L673.2 416.2L674.2 417.2M678.4 415.2L677.4 416.2L678.4 417.2" stroke="#25216e" stroke-width="0.6" fill="none"/>
<text x="602.1" y="419.2" font-size="8.6" fill="#25216e" text-anchor="end" textLength="18.2" lengthAdjust="spacingAndGlyphs" stroke="#25216e" stroke-width="0.25">FUT3</text>
<rect x="604.4" y="420.9" width="26.6" height="3.6" fill="#25216e"/>
<path d="M666 422.7H681.2" stroke="#25216e" stroke-width="0.8" fill="none"/>
<path d="M670 421.7L669 422.7L670 423.7M674.2 421.7L673.2 422.7L674.2 423.7M678.4 421.7L677.4 422.7L678.4 423.7" stroke="#25216e" stroke-width="0.6" fill="none"/>
<text x="602.1" y="425.7" font-size="8.6" fill="#25216e" text-anchor="end" textLength="18.2" lengthAdjust="spacingAndGlyphs" stroke="#25216e" stroke-width="0.25">FUT3</text>
<rect x="604.4" y="428.4" width="26.6" height="3.6" fill="#25216e"/>
<path d="M666 430.2H681.2" stroke="#25216e" stroke-width="0.8" fill="none"/>
<path d="M670 429.2L669 430.2L670 431.2M674.2 429.2L673.2 430.2L674.2 431.2M678.4 429.2L677.4 430.2L678.4 431.2" stroke="#25216e" stroke-width="0.6" fill="none"/>
<text x="602.1" y="433.2" font-size="8.6" fill="#25216e" text-anchor="end" textLength="18.2" lengthAdjust="spacingAndGlyphs" stroke="#25216e" stroke-width="0.25">FUT3</text>
<rect x="631" y="406" width="35" height="27.2" fill="#25216e"/>
<path d="M631 412.8H666" stroke="#4a4690" stroke-width="0.5" fill="none"/>
<path d="M631 419.5H666" stroke="#4a4690" stroke-width="0.5" fill="none"/>
<path d="M631 426.5H666" stroke="#4a4690" stroke-width="0.5" fill="none"/>
<text x="629" y="440.7" font-size="8.6" fill="#25216e" text-anchor="end" textLength="18.1" lengthAdjust="spacingAndGlyphs" stroke="#25216e" stroke-width="0.25">FUT3</text>
<rect x="631" y="435" width="35" height="5.7" fill="#25216e"/>
<path d="M635.1 436.5L633.5 437.9L635.1 439.2M638.8 436.5L637.2 437.9L638.8 439.2M642.5 436.5L640.9 437.9L642.5 439.2M646.2 436.5L644.6 437.9L646.2 439.2M649.9 436.5L648.3 437.9L649.9 439.2M653.6 436.5L652 437.9L653.6 439.2M657.3 436.5L655.7 437.9L657.3 439.2M661 436.5L659.4 437.9L661 439.2M664.7 436.5L663.1 437.9L664.7 439.2" stroke="#fff" stroke-width="0.7" fill="none"/>
<path d="M122.2 468.3L124 465.5L126.5 463.4L129 463.4L131.5 465L134 468.3Z" fill="#8d80d6" fill-opacity="0.9"/>
<path d="M137.8 468.3L139.3 462L140.8 455L142.6 449.5L143.8 447.7L147 447.7L148.2 450L149.4 456L150.4 461.5L151.1 463L151.8 457L152.6 450L153.3 447.7L169.3 447.7L170.2 452L171.2 459L172.4 461.8L174.2 462.8L176.2 465.5L177.6 468.3Z" fill="#8a7dd3" fill-opacity="0.95"/>
<path d="M143.6 447.5L147.2 447.5L147.2 449.3L143.6 449.3Z" fill="#5b3aa6" fill-opacity="1.0"/>
<path d="M153.2 447.5L169.4 447.5L169.4 449.3L153.2 449.3Z" fill="#5b3aa6" fill-opacity="1.0"/>
<path d="M139.4 468.3L141.4 461.5L143.5 458.5L145.5 458L147.5 459.5L149.5 462.5L150.8 468.3Z" fill="#2c6a68" fill-opacity="0.9"/>
<path d="M142.2 468.3L143.9 459L145.3 456.3L146.8 458.5L148.4 468.3Z" fill="#8f7a58" fill-opacity="0.75"/>
<path d="M151.8 468.3L154.5 461.5L157.5 457L160.5 458.5L164 460.5L168 462.5L172 464.5L175 468.3Z" fill="#4a56b0" fill-opacity="0.55"/>
<path d="M152.8 468.3L155.5 464.5L158.5 462.2L162 462.8L166 464L169.5 465.5L172 468.3Z" fill="#1c0c22" fill-opacity="0.9"/>
<path d="M155 468.3L158 465L162 464.5L166 466L168 468.3Z" fill="#5a1838" fill-opacity="0.6"/>
<rect x="97" y="467.4" width="4.6" height="2" fill="#3a2f6a" fill-opacity="0.7"/>
<rect x="101.6" y="467.4" width="5.5" height="2" fill="#3a2f6a" fill-opacity="0.7"/>
<rect x="107.1" y="467.4" width="5.2" height="2" fill="#3a2f6a" fill-opacity="0.7"/>
<rect x="112.3" y="467.4" width="1.6" height="2" fill="#3a2f6a" fill-opacity="0.7"/>
<rect x="113.9" y="467.4" width="6.2" height="2" fill="#3a2f6a" fill-opacity="0.7"/>
<rect x="120.2" y="467.4" width="6" height="2" fill="#3a7aa0" fill-opacity="0.7"/>
<rect x="126.2" y="467.4" width="5.8" height="2" fill="#3a2f6a" fill-opacity="0.7"/>
<rect x="132" y="467.4" width="2" height="2" fill="#4a4aa0" fill-opacity="0.7"/>
<rect x="134" y="467.4" width="3.5" height="2" fill="#d87a3a" fill-opacity="0.7"/>
<rect x="137.5" y="467.4" width="2.3" height="2" fill="#1a1020" fill-opacity="0.7"/>
<rect x="139.8" y="467.4" width="2.2" height="2" fill="#1a1020" fill-opacity="0.7"/>
<rect x="142" y="467.4" width="2.1" height="2" fill="#1a1020" fill-opacity="0.7"/>
<rect x="144.2" y="467.4" width="2.5" height="2" fill="#1a1020" fill-opacity="0.7"/>
<rect x="146.7" y="467.4" width="5.9" height="2" fill="#1a1020" fill-opacity="0.7"/>
<rect x="152.6" y="467.4" width="4.2" height="2" fill="#1a1020" fill-opacity="0.7"/>
<rect x="156.8" y="467.4" width="2.5" height="2" fill="#1a1020" fill-opacity="0.7"/>
<rect x="159.3" y="467.4" width="5" height="2" fill="#1a1020" fill-opacity="0.7"/>
<rect x="164.3" y="467.4" width="6" height="2" fill="#1a1020" fill-opacity="0.7"/>
<rect x="170.2" y="467.4" width="3.6" height="2" fill="#1a1020" fill-opacity="0.7"/>
<rect x="173.8" y="467.4" width="2.8" height="2" fill="#1a1020" fill-opacity="0.7"/>
<rect x="176.6" y="467.4" width="4.4" height="2" fill="#1a1020" fill-opacity="0.7"/>
<rect x="181.1" y="467.4" width="5" height="2" fill="#2a2a2a" fill-opacity="0.7"/>
<rect x="186.1" y="467.4" width="5.6" height="2" fill="#3a2f6a" fill-opacity="0.7"/>
<rect x="191.7" y="467.4" width="3.1" height="2" fill="#3a2f6a" fill-opacity="0.7"/>
<rect x="194.8" y="467.4" width="5" height="2" fill="#c03a3a" fill-opacity="0.7"/>
<rect x="199.8" y="467.4" width="6.2" height="2" fill="#3a2f6a" fill-opacity="0.7"/>
<rect x="206" y="467.4" width="3.5" height="2" fill="#3a2f6a" fill-opacity="0.7"/>
<rect x="209.6" y="467.4" width="3.6" height="2" fill="#3a2f6a" fill-opacity="0.7"/>
<rect x="213.1" y="467.4" width="5.7" height="2" fill="#3a2f6a" fill-opacity="0.7"/>
<rect x="218.9" y="467.4" width="5" height="2" fill="#3a2f6a" fill-opacity="0.7"/>
<rect x="235" y="467.4" width="5.6" height="2" fill="#3a2f6a" fill-opacity="0.7"/>
<rect x="240.6" y="467.4" width="4.1" height="2" fill="#3a2f6a" fill-opacity="0.7"/>
<rect x="244.6" y="467.4" width="2.8" height="2" fill="#3a2f6a" fill-opacity="0.7"/>
<rect x="247.4" y="467.4" width="4.4" height="2" fill="#3a2f6a" fill-opacity="0.7"/>
<rect x="251.9" y="467.4" width="3.3" height="2" fill="#d87a3a" fill-opacity="0.7"/>
<rect x="255.2" y="467.4" width="6.2" height="2" fill="#2a2a2a" fill-opacity="0.7"/>
<rect x="261.4" y="467.4" width="4.1" height="2" fill="#3a2f6a" fill-opacity="0.7"/>
<rect x="265.5" y="467.4" width="2.2" height="2" fill="#a0c050" fill-opacity="0.7"/>
<rect x="267.7" y="467.4" width="2" height="2" fill="#3a2f6a" fill-opacity="0.7"/>
<rect x="269.7" y="467.4" width="3" height="2" fill="#3a2f6a" fill-opacity="0.7"/>
<rect x="272.7" y="467.4" width="4.6" height="2" fill="#3a2f6a" fill-opacity="0.7"/>
<rect x="277.3" y="467.4" width="3" height="2" fill="#3a2f6a" fill-opacity="0.7"/>
<rect x="280.4" y="467.4" width="5.1" height="2" fill="#5a2a6a" fill-opacity="0.7"/>
<rect x="285.5" y="467.4" width="4.2" height="2" fill="#3a2f6a" fill-opacity="0.7"/>
<rect x="289.7" y="467.4" width="2.7" height="2" fill="#3a2f6a" fill-opacity="0.7"/>
<rect x="292.3" y="467.4" width="5.6" height="2" fill="#3a2f6a" fill-opacity="0.7"/>
<rect x="298" y="467.4" width="3.6" height="2" fill="#c03a3a" fill-opacity="0.7"/>
<rect x="301.6" y="467.4" width="5.5" height="2" fill="#4a4aa0" fill-opacity="0.7"/>
<rect x="307.1" y="467.4" width="2.2" height="2" fill="#3a2f6a" fill-opacity="0.7"/>
<rect x="309.2" y="467.4" width="6.2" height="2" fill="#3a2f6a" fill-opacity="0.7"/>
<rect x="315.5" y="467.4" width="5.4" height="2" fill="#d87a3a" fill-opacity="0.7"/>
<rect x="320.9" y="467.4" width="3.4" height="2" fill="#d87a3a" fill-opacity="0.7"/>
<rect x="324.3" y="467.4" width="3" height="2" fill="#3a2f6a" fill-opacity="0.7"/>
<rect x="327.3" y="467.4" width="6.5" height="2" fill="#3a2f6a" fill-opacity="0.7"/>
<rect x="333.8" y="467.4" width="6.4" height="2" fill="#3a2f6a" fill-opacity="0.7"/>
<rect x="340.2" y="467.4" width="3.9" height="2" fill="#3a2f6a" fill-opacity="0.7"/>
<rect x="344.1" y="467.4" width="3.9" height="2" fill="#d87a3a" fill-opacity="0.7"/>
<rect x="348" y="467.4" width="6" height="2" fill="#a0c050" fill-opacity="0.7"/>
<rect x="354" y="467.4" width="6.3" height="2" fill="#3a2f6a" fill-opacity="0.7"/>
<rect x="360.3" y="467.4" width="4" height="2" fill="#3a8a5a" fill-opacity="0.7"/>
<rect x="364.3" y="467.4" width="4" height="2" fill="#3a2f6a" fill-opacity="0.7"/>
<rect x="368.3" y="467.4" width="4.2" height="2" fill="#3a2f6a" fill-opacity="0.7"/>
<rect x="372.5" y="467.4" width="1.8" height="2" fill="#3a2f6a" fill-opacity="0.7"/>
<rect x="374.3" y="467.4" width="3.3" height="2" fill="#3a2f6a" fill-opacity="0.7"/>
<rect x="377.6" y="467.4" width="1.7" height="2" fill="#a0c050" fill-opacity="0.7"/>
<rect x="379.3" y="467.4" width="5" height="2" fill="#3a7aa0" fill-opacity="0.7"/>
<rect x="384.3" y="467.4" width="2.8" height="2" fill="#3a2f6a" fill-opacity="0.7"/>
<rect x="387.1" y="467.4" width="5.1" height="2" fill="#3a2f6a" fill-opacity="0.7"/>
<rect x="392.2" y="467.4" width="3.2" height="2" fill="#c03a3a" fill-opacity="0.7"/>
<rect x="395.4" y="467.4" width="3.9" height="2" fill="#3a2f6a" fill-opacity="0.7"/>
<rect x="399.3" y="467.4" width="3.1" height="2" fill="#8a3a8a" fill-opacity="0.7"/>
<rect x="402.4" y="467.4" width="5.6" height="2" fill="#3a2f6a" fill-opacity="0.7"/>
<rect x="408" y="467.4" width="5.5" height="2" fill="#2a2a2a" fill-opacity="0.7"/>
<rect x="413.5" y="467.4" width="5.2" height="2" fill="#3a2f6a" fill-opacity="0.7"/>
<rect x="418.6" y="467.4" width="3.3" height="2" fill="#3a2f6a" fill-opacity="0.7"/>
<rect x="421.9" y="467.4" width="5.8" height="2" fill="#3a2f6a" fill-opacity="0.7"/>
<rect x="427.7" y="467.4" width="6.4" height="2" fill="#3a2f6a" fill-opacity="0.7"/>
<rect x="434.1" y="467.4" width="4.1" height="2" fill="#3a2f6a" fill-opacity="0.7"/>
<rect x="438.2" y="467.4" width="2.3" height="2" fill="#3a2f6a" fill-opacity="0.7"/>
<rect x="440.6" y="467.4" width="6.2" height="2" fill="#3a2f6a" fill-opacity="0.7"/>
<rect x="446.7" y="467.4" width="5" height="2" fill="#3a2f6a" fill-opacity="0.7"/>
<rect x="451.7" y="467.4" width="5.2" height="2" fill="#5a2a6a" fill-opacity="0.7"/>
<rect x="456.8" y="467.4" width="4.1" height="2" fill="#3a2f6a" fill-opacity="0.7"/>
<rect x="460.9" y="467.4" width="3" height="2" fill="#3a2f6a" fill-opacity="0.7"/>
<rect x="463.9" y="467.4" width="5.8" height="2" fill="#c03a3a" fill-opacity="0.7"/>
<rect x="469.8" y="467.4" width="2.5" height="2" fill="#3a2f6a" fill-opacity="0.7"/>
<rect x="472.3" y="467.4" width="4.6" height="2" fill="#d8b040" fill-opacity="0.7"/>
<rect x="476.9" y="467.4" width="4.7" height="2" fill="#3a7aa0" fill-opacity="0.7"/>
<rect x="481.5" y="467.4" width="6.4" height="2" fill="#d8b040" fill-opacity="0.7"/>
<rect x="487.9" y="467.4" width="2.1" height="2" fill="#3a2f6a" fill-opacity="0.7"/>
<rect x="490" y="467.4" width="3.9" height="2" fill="#3a2f6a" fill-opacity="0.7"/>
<rect x="493.9" y="467.4" width="3.6" height="2" fill="#3a2f6a" fill-opacity="0.7"/>
<rect x="497.5" y="467.4" width="4.8" height="2" fill="#4a4aa0" fill-opacity="0.7"/>
<rect x="502.3" y="467.4" width="2.7" height="2" fill="#3a2f6a" fill-opacity="0.7"/>
<rect x="505" y="467.4" width="1.5" height="2" fill="#3a2f6a" fill-opacity="0.7"/>
<rect x="506.5" y="467.4" width="2.9" height="2" fill="#3a2f6a" fill-opacity="0.7"/>
<rect x="509.4" y="467.4" width="2.1" height="2" fill="#3a2f6a" fill-opacity="0.7"/>
<rect x="511.4" y="467.4" width="3.4" height="2" fill="#5a2a6a" fill-opacity="0.7"/>
<rect x="514.8" y="467.4" width="3" height="2" fill="#a0c050" fill-opacity="0.7"/>
<rect x="517.8" y="467.4" width="3.2" height="2" fill="#3a2f6a" fill-opacity="0.7"/>
<rect x="521" y="467.4" width="6.3" height="2" fill="#3a2f6a" fill-opacity="0.7"/>
<rect x="527.3" y="467.4" width="3.6" height="2" fill="#3a2f6a" fill-opacity="0.7"/>
<rect x="530.9" y="467.4" width="4.7" height="2" fill="#3a2f6a" fill-opacity="0.7"/>
<rect x="535.6" y="467.4" width="2.2" height="2" fill="#3a2f6a" fill-opacity="0.7"/>
<rect x="537.8" y="467.4" width="4.3" height="2" fill="#3a2f6a" fill-opacity="0.7"/>
<rect x="542.1" y="467.4" width="6.3" height="2" fill="#3a2f6a" fill-opacity="0.7"/>
<rect x="548.5" y="467.4" width="3.3" height="2" fill="#3a2f6a" fill-opacity="0.7"/>
<rect x="551.7" y="467.4" width="1.5" height="2" fill="#5a2a6a" fill-opacity="0.7"/>
<rect x="553.2" y="467.4" width="6.1" height="2" fill="#3a2f6a" fill-opacity="0.7"/>
<rect x="559.3" y="467.4" width="3.1" height="2" fill="#3a2f6a" fill-opacity="0.7"/>
<rect x="562.5" y="467.4" width="4.3" height="2" fill="#3a2f6a" fill-opacity="0.7"/>
<rect x="566.8" y="467.4" width="6.4" height="2" fill="#3a2f6a" fill-opacity="0.7"/>
<rect x="573.2" y="467.4" width="3.9" height="2" fill="#3a2f6a" fill-opacity="0.7"/>
<rect x="577.1" y="467.4" width="3.4" height="2" fill="#3a2f6a" fill-opacity="0.7"/>
<rect x="580.5" y="467.4" width="2.3" height="2" fill="#3a2f6a" fill-opacity="0.7"/>
<rect x="582.8" y="467.4" width="5.2" height="2" fill="#8a3a8a" fill-opacity="0.7"/>
<rect x="588" y="467.4" width="3.6" height="2" fill="#8a3a8a" fill-opacity="0.7"/>
<rect x="591.6" y="467.4" width="4" height="2" fill="#3a7aa0" fill-opacity="0.7"/>
<rect x="595.5" y="467.4" width="1.6" height="2" fill="#3a2f6a" fill-opacity="0.7"/>
<rect x="597.1" y="467.4" width="6.3" height="2" fill="#c03a3a" fill-opacity="0.7"/>
<rect x="603.4" y="467.4" width="5.4" height="2" fill="#3a2f6a" fill-opacity="0.7"/>
<rect x="608.8" y="467.4" width="1.6" height="2" fill="#3a2f6a" fill-opacity="0.7"/>
<rect x="610.4" y="467.4" width="2.9" height="2" fill="#3a2f6a" fill-opacity="0.7"/>
<rect x="613.3" y="467.4" width="5.4" height="2" fill="#8a3a8a" fill-opacity="0.7"/>
<rect x="618.7" y="467.4" width="5.7" height="2" fill="#3a2f6a" fill-opacity="0.7"/>
<rect x="624.4" y="467.4" width="2.9" height="2" fill="#3a2f6a" fill-opacity="0.7"/>
<rect x="627.3" y="467.4" width="6.5" height="2" fill="#3a2f6a" fill-opacity="0.7"/>
<rect x="633.8" y="467.4" width="5.8" height="2" fill="#3a2f6a" fill-opacity="0.7"/>
<rect x="639.6" y="467.4" width="6" height="2" fill="#d8b040" fill-opacity="0.7"/>
<rect x="645.6" y="467.4" width="3" height="2" fill="#3a2f6a" fill-opacity="0.7"/>
<rect x="648.6" y="467.4" width="3.2" height="2" fill="#a0c050" fill-opacity="0.7"/>
<rect x="651.8" y="467.4" width="1.6" height="2" fill="#5a2a6a" fill-opacity="0.7"/>
<rect x="653.4" y="467.4" width="2.2" height="2" fill="#a0c050" fill-opacity="0.7"/>
<rect x="655.6" y="467.4" width="3.8" height="2" fill="#3a2f6a" fill-opacity="0.7"/>
<rect x="659.4" y="467.4" width="5.9" height="2" fill="#3a2f6a" fill-opacity="0.7"/>
<rect x="665.3" y="467.4" width="1.6" height="2" fill="#3a2f6a" fill-opacity="0.7"/>
<rect x="666.9" y="467.4" width="3.6" height="2" fill="#3a2f6a" fill-opacity="0.7"/>
<rect x="670.5" y="467.4" width="5" height="2" fill="#3a2f6a" fill-opacity="0.7"/>
<rect x="675.5" y="467.4" width="3.9" height="2" fill="#3a2f6a" fill-opacity="0.7"/>
<rect x="679.5" y="467.4" width="0.5" height="2" fill="#3a2f6a" fill-opacity="0.7"/>
<text x="31.5" y="495.2" font-size="12.4" fill="#111" textLength="33.3" lengthAdjust="spacingAndGlyphs" stroke="#111" stroke-width="0.3">eQTLs</text>
<text x="15" y="528.9" font-size="12.4" fill="#111" textLength="69.1" lengthAdjust="spacingAndGlyphs" stroke="#111" stroke-width="0.3">Coding SNPs</text>
<text x="38.5" y="553.1" font-size="10.6" fill="#111" textLength="6.2" lengthAdjust="spacingAndGlyphs" stroke="#111" stroke-width="0.3">E</text>
<text x="44.8" y="555" font-size="7.4" fill="#111" textLength="10.3" lengthAdjust="spacingAndGlyphs" stroke="#111" stroke-width="0.2">247</text>
<text x="71.6" y="553.1" font-size="10.6" fill="#111" textLength="6.5" lengthAdjust="spacingAndGlyphs" stroke="#111" stroke-width="0.3">K</text>
<path d="M58.2 549.5H67.3M63.9 545.7L67.9 549.5L63.9 553.3" stroke="#111" stroke-width="1.3" fill="none"/>
<text x="35.6" y="572.3" font-size="10.6" fill="#111" textLength="6.5" lengthAdjust="spacingAndGlyphs" stroke="#111" stroke-width="0.3">Y</text>
<text x="42.3" y="574.3" font-size="7.4" fill="#111" textLength="9.8" lengthAdjust="spacingAndGlyphs" stroke="#111" stroke-width="0.2">315</text>
<path d="M55.8 568.8H64.9M61.5 565L65.5 568.8L61.5 572.6" stroke="#111" stroke-width="1.3" fill="none"/>
<text x="68.9" y="572.3" font-size="11" fill="#111" textLength="20" lengthAdjust="spacingAndGlyphs" stroke="#111" stroke-width="0.3">stop</text>
<path d="M95.6 498.8H154.8" stroke="#111" stroke-width="1.9" fill="none"/>
<path d="M154.8 499.1H503" stroke="#8a8a8a" stroke-width="1" fill="none"/>
<path d="M154.8 496.2V501.8" stroke="#111" stroke-width="1.6" fill="none"/>
<path d="M288.1 496.2V501.8" stroke="#111" stroke-width="1.6" fill="none"/>
<path d="M503 496.2V501.8" stroke="#111" stroke-width="1.6" fill="none"/>
<text x="147.8" y="517" font-size="10.5" fill="#333" font-style="italic" textLength="49.4" lengthAdjust="spacingAndGlyphs" stroke="#333" stroke-width="0.25">rs1531616</text>
<text x="286.9" y="517.2" font-size="10.5" fill="#333" font-style="italic" textLength="42.7" lengthAdjust="spacingAndGlyphs" stroke="#333" stroke-width="0.25">rs778804</text>
<text x="504" y="517.2" font-size="10.5" fill="#333" font-style="italic" textLength="44.6" lengthAdjust="spacingAndGlyphs" stroke="#333" stroke-width="0.25">rs778798</text>
<text x="429.6" y="491" font-size="10.5" fill="#222" font-style="italic" textLength="39" lengthAdjust="spacingAndGlyphs" stroke="#222" stroke-width="0.25">r<tspan font-size="7.6" dy="-4">2</tspan><tspan dy="4"> &gt; 0.98</tspan></text>
<path d="M96.2 546.2H261.9" stroke="#7a7a7a" stroke-width="1" fill="none"/>
<path d="M134.9 543.4V549" stroke="#111" stroke-width="1.6" fill="none"/>
<path d="M261.9 543V549.4" stroke="#111" stroke-width="1.8" fill="none"/>
<path d="M255.3 564.6V570.2" stroke="#111" stroke-width="1.6" fill="none"/>
<text x="267.7" y="559.6" font-size="10.5" fill="#333" font-style="italic" textLength="55.6" lengthAdjust="spacingAndGlyphs" stroke="#333" stroke-width="0.25">rs17855739</text>
<text x="263.5" y="581.2" font-size="10.5" fill="#333" font-style="italic" textLength="62.2" lengthAdjust="spacingAndGlyphs" stroke="#333" stroke-width="0.25">rs145035679</text>
<rect x="181.3" y="518.8" width="65.9" height="26.6" fill="#fff"/>
<text x="198.2" y="535.7" font-size="12" fill="#111" font-style="italic" textLength="36.1" lengthAdjust="spacingAndGlyphs" stroke="#222" stroke-width="0.25">r<tspan font-size="8.6" dy="-4.6">2</tspan><tspan dy="4.6"> &gt; 0.8</tspan></text>
<rect x="105.4" y="563.3" width="98.1" height="19.8" fill="#fff" stroke="#e41f26" stroke-width="1.8"/>
<text x="109.5" y="578.5" font-size="15" fill="#7389b0" font-style="italic" textLength="90" lengthAdjust="spacingAndGlyphs">rs17855739-LB</text>
<path d="M206.2 570.2L228.7 551.4" stroke="#e41f26" stroke-width="1.6" fill="none"/>
<rect x="411.4" y="518.4" width="79.4" height="21.7" fill="#fff" stroke="#e41f26" stroke-width="1.8"/>
<text x="415.6" y="534.5" font-size="15" fill="#7389b0" font-style="italic" textLength="70.5" lengthAdjust="spacingAndGlyphs">rs778798-LB</text>
<path d="M388 505.7L410.2 524.9" stroke="#e41f26" stroke-width="1.6" fill="none"/>
<path d="M351.2 545.2H356.8V572.3H351.2" stroke="#222" stroke-width="1.3" fill="none"/>
<text x="368.2" y="564" font-size="10.5" fill="#222" font-style="italic" textLength="39.7" lengthAdjust="spacingAndGlyphs" stroke="#222" stroke-width="0.25">r<tspan font-size="7.6" dy="-4">2</tspan><tspan dy="4"> = 0.77</tspan></text>
<path d="M555.4 502.4H563.5V548.9H555.4" stroke="#222" stroke-width="1.3" fill="none"/>
<text x="571.6" y="528.8" font-size="10.5" fill="#222" font-style="italic" textLength="39.1" lengthAdjust="spacingAndGlyphs" stroke="#222" stroke-width="0.25">r<tspan font-size="7.6" dy="-4">2</tspan><tspan dy="4"> &lt; 0.05</tspan></text>
<path d="M614 497.5H624.8V565.9H614" stroke="#222" stroke-width="1.3" fill="none"/>
<text x="635" y="538.5" font-size="14.5" fill="#111" font-style="italic" textLength="35.7" lengthAdjust="spacingAndGlyphs" stroke="#111" stroke-width="0.35">D’ = 1</text>
<rect x="4.7" y="366.3" width="677.3" height="220.7" fill="none" stroke="#6d9ad3" stroke-width="1.3"/>
<text x="-0.5" y="660.2" font-size="33" textLength="17.9" lengthAdjust="spacingAndGlyphs">c</text>
<path d="M87.1 653.8V830.9H226.3V653.8H80" stroke="#000" stroke-width="1.7" fill="none" stroke-linejoin="miter"/>
<text x="77.9" y="826.7" font-size="12.6" text-anchor="end" font-weight="bold" textLength="7.2" lengthAdjust="spacingAndGlyphs" stroke="#000" stroke-width="0.2">0</text>
<text x="77.9" y="793" font-size="12.6" text-anchor="end" font-weight="bold" textLength="28.8" lengthAdjust="spacingAndGlyphs" stroke="#000" stroke-width="0.2">2000</text>
<text x="77.9" y="759.3" font-size="12.6" text-anchor="end" font-weight="bold" textLength="28.8" lengthAdjust="spacingAndGlyphs" stroke="#000" stroke-width="0.2">4000</text>
<text x="77.9" y="725.6" font-size="12.6" text-anchor="end" font-weight="bold" textLength="28.8" lengthAdjust="spacingAndGlyphs" stroke="#000" stroke-width="0.2">6000</text>
<text x="77.9" y="691.9" font-size="12.6" text-anchor="end" font-weight="bold" textLength="28.8" lengthAdjust="spacingAndGlyphs" stroke="#000" stroke-width="0.2">8000</text>
<text x="77.9" y="658.2" font-size="12.6" text-anchor="end" font-weight="bold" textLength="36" lengthAdjust="spacingAndGlyphs" stroke="#000" stroke-width="0.2">10000</text>
<path d="M80 822.3H87.1M80 788.6H87.1M80 754.9H87.1M80 721.2H87.1M80 687.5H87.1M80 653.8H87.1M114.6 830.9V838.2M156.6 830.9V838.2M198.2 830.9V838.2" stroke="#000" stroke-width="1.7" fill="none"/>
<text x="114.9" y="852.3" font-size="12.8" text-anchor="middle" font-weight="bold" textLength="19.7" lengthAdjust="spacingAndGlyphs" stroke="#000" stroke-width="0.3">AA</text>
<text x="156.6" y="852.3" font-size="12.8" text-anchor="middle" font-weight="bold" textLength="19.6" lengthAdjust="spacingAndGlyphs" stroke="#000" stroke-width="0.3">AC</text>
<text x="198.2" y="852.3" font-size="12.8" text-anchor="middle" font-weight="bold" textLength="19.6" lengthAdjust="spacingAndGlyphs" stroke="#000" stroke-width="0.3">CC</text>
<text x="119.4" y="873" font-size="13.8" fill="#111" font-style="italic" textLength="60.2" lengthAdjust="spacingAndGlyphs" stroke="#111" stroke-width="0.25">rs778798</text>
<text x="117.5" y="685.6" font-size="12.4" textLength="67" lengthAdjust="spacingAndGlyphs" stroke="#000" stroke-width="0.2">p = 2.76 x 10</text>
<text x="184.8" y="679.8" font-size="8.2" textLength="13.5" lengthAdjust="spacingAndGlyphs">-15</text>
<text transform="translate(30.6,742.7) rotate(-90)" font-size="15.4" font-weight="bold" text-anchor="middle" textLength="146.5" lengthAdjust="spacingAndGlyphs">CD15s basophil (MFI)</text>
<path d="M101.1 822H129.1" stroke="#ff2a00" stroke-width="2.8" fill="none"/>
<g fill="none" stroke="#000" stroke-width="1.2"><circle cx="111.4" cy="822" r="1.6"/><circle cx="118.7" cy="822" r="1.6"/></g>
<path d="M143 812.4H170.2" stroke="#ff2a00" stroke-width="2.8" fill="none"/>
<g fill="none" stroke="#000" stroke-width="1.2"><circle cx="148.4" cy="822.2" r="1.6"/><circle cx="150.4" cy="822.3" r="1.6"/><circle cx="153.8" cy="821.9" r="1.6"/><circle cx="158.7" cy="821.3" r="1.6"/><circle cx="162.2" cy="822.6" r="1.6"/><circle cx="148.3" cy="818.8" r="1.6"/><circle cx="152.7" cy="819.8" r="1.6"/><circle cx="155.5" cy="819.7" r="1.6"/><circle cx="159.3" cy="820.5" r="1.6"/><circle cx="160.8" cy="819.3" r="1.6"/><circle cx="164.3" cy="820.6" r="1.6"/><circle cx="168.1" cy="818.7" r="1.6"/><circle cx="145.8" cy="817.1" r="1.6"/><circle cx="148.6" cy="816.8" r="1.6"/><circle cx="152.2" cy="817.9" r="1.6"/><circle cx="153.5" cy="816.3" r="1.6"/><circle cx="157.8" cy="817.2" r="1.6"/><circle cx="160.1" cy="817.6" r="1.6"/><circle cx="163.5" cy="816.8" r="1.6"/><circle cx="166.9" cy="818.1" r="1.6"/><circle cx="170.1" cy="817.6" r="1.6"/><circle cx="143.9" cy="815.4" r="1.6"/><circle cx="146.9" cy="813.9" r="1.6"/><circle cx="151.4" cy="814.5" r="1.6"/><circle cx="154.5" cy="815" r="1.6"/><circle cx="157.2" cy="815.7" r="1.6"/><circle cx="160.6" cy="815.3" r="1.6"/><circle cx="165.7" cy="815.6" r="1.6"/><circle cx="167.2" cy="813.8" r="1.6"/><circle cx="170.6" cy="814.3" r="1.6"/><circle cx="142.1" cy="812.8" r="1.6"/><circle cx="146.1" cy="813.1" r="1.6"/><circle cx="150" cy="811.6" r="1.6"/><circle cx="152.1" cy="811.3" r="1.6"/><circle cx="155.4" cy="811.5" r="1.6"/><circle cx="159.4" cy="812.6" r="1.6"/><circle cx="160.7" cy="811.3" r="1.6"/><circle cx="165" cy="813.3" r="1.6"/><circle cx="167.7" cy="812.8" r="1.6"/><circle cx="169.9" cy="812.4" r="1.6"/><circle cx="145.5" cy="810.4" r="1.6"/><circle cx="148.6" cy="810.7" r="1.6"/><circle cx="152" cy="810.6" r="1.6"/><circle cx="154.2" cy="810" r="1.6"/><circle cx="161.8" cy="810.6" r="1.6"/><circle cx="164.4" cy="810" r="1.6"/><circle cx="166.1" cy="810.4" r="1.6"/><circle cx="169.7" cy="809.2" r="1.6"/><circle cx="146.9" cy="806.8" r="1.6"/><circle cx="149.9" cy="806.6" r="1.6"/><circle cx="153.4" cy="807.2" r="1.6"/><circle cx="157" cy="806.6" r="1.6"/><circle cx="161.1" cy="808.1" r="1.6"/><circle cx="163.3" cy="806.5" r="1.6"/><circle cx="167.7" cy="807.8" r="1.6"/><circle cx="147.9" cy="804.3" r="1.6"/><circle cx="151.4" cy="804.8" r="1.6"/><circle cx="155.4" cy="804.7" r="1.6"/><circle cx="159.9" cy="805.3" r="1.6"/><circle cx="164.9" cy="803.7" r="1.6"/><circle cx="154.1" cy="801.5" r="1.6"/><circle cx="158.1" cy="802.6" r="1.6"/><circle cx="162.4" cy="802.7" r="1.6"/><circle cx="154.3" cy="799.7" r="1.6"/><circle cx="157.9" cy="799.5" r="1.6"/></g>
<path d="M184.7 795.3H212.5" stroke="#ff2a00" stroke-width="2.8" fill="none"/>
<g fill="none" stroke="#000" stroke-width="1.2"><circle cx="189.8" cy="822.1" r="1.6"/><circle cx="191.3" cy="823.3" r="1.6"/><circle cx="195.1" cy="822.6" r="1.6"/><circle cx="198.4" cy="823.1" r="1.6"/><circle cx="201.2" cy="822.6" r="1.6"/><circle cx="204.9" cy="822.6" r="1.6"/><circle cx="207.7" cy="823.4" r="1.6"/><circle cx="188.2" cy="821" r="1.6"/><circle cx="190.5" cy="820" r="1.6"/><circle cx="194.1" cy="819.1" r="1.6"/><circle cx="198.9" cy="819.7" r="1.6"/><circle cx="201.6" cy="820.1" r="1.6"/><circle cx="205.6" cy="821.1" r="1.6"/><circle cx="207" cy="819.5" r="1.6"/><circle cx="187.7" cy="818" r="1.6"/><circle cx="189.9" cy="817.6" r="1.6"/><circle cx="192.6" cy="818.7" r="1.6"/><circle cx="196.4" cy="817.2" r="1.6"/><circle cx="199.4" cy="816.9" r="1.6"/><circle cx="201.9" cy="818.6" r="1.6"/><circle cx="205.5" cy="816.9" r="1.6"/><circle cx="209" cy="818.8" r="1.6"/><circle cx="186.9" cy="816.4" r="1.6"/><circle cx="189.5" cy="815" r="1.6"/><circle cx="191.8" cy="816.3" r="1.6"/><circle cx="192.8" cy="815" r="1.6"/><circle cx="195" cy="815.4" r="1.6"/><circle cx="198.6" cy="814.9" r="1.6"/><circle cx="200.2" cy="815.8" r="1.6"/><circle cx="203.5" cy="815.8" r="1.6"/><circle cx="206.7" cy="816" r="1.6"/><circle cx="209.4" cy="816.5" r="1.6"/><circle cx="187.8" cy="813.1" r="1.6"/><circle cx="189.3" cy="814.6" r="1.6"/><circle cx="192.3" cy="814" r="1.6"/><circle cx="196.5" cy="813.3" r="1.6"/><circle cx="198.6" cy="813.9" r="1.6"/><circle cx="192.5" cy="814" r="1.6"/><circle cx="202.8" cy="812.7" r="1.6"/><circle cx="204.7" cy="813.9" r="1.6"/><circle cx="209.6" cy="813.6" r="1.6"/><circle cx="185.3" cy="810.6" r="1.6"/><circle cx="189.6" cy="810.4" r="1.6"/><circle cx="207.2" cy="811.2" r="1.6"/><circle cx="191.1" cy="811.2" r="1.6"/><circle cx="194.4" cy="810.2" r="1.6"/><circle cx="196.3" cy="811.2" r="1.6"/><circle cx="199.1" cy="810.6" r="1.6"/><circle cx="205.9" cy="811.8" r="1.6"/><circle cx="207.8" cy="811.5" r="1.6"/><circle cx="211.1" cy="810.8" r="1.6"/><circle cx="186.5" cy="808.9" r="1.6"/><circle cx="189.1" cy="809.7" r="1.6"/><circle cx="192" cy="808.2" r="1.6"/><circle cx="193.4" cy="808.8" r="1.6"/><circle cx="196.7" cy="810.1" r="1.6"/><circle cx="200.6" cy="809.3" r="1.6"/><circle cx="204.2" cy="809.4" r="1.6"/><circle cx="207" cy="808.1" r="1.6"/><circle cx="208.3" cy="808.9" r="1.6"/><circle cx="191.9" cy="808.8" r="1.6"/><circle cx="211.2" cy="810" r="1.6"/><circle cx="184.9" cy="808" r="1.6"/><circle cx="186.5" cy="807.1" r="1.6"/><circle cx="192.1" cy="806.8" r="1.6"/><circle cx="195.8" cy="805.9" r="1.6"/><circle cx="198.3" cy="807.1" r="1.6"/><circle cx="201.3" cy="807" r="1.6"/><circle cx="203.2" cy="805.8" r="1.6"/><circle cx="209.6" cy="806.7" r="1.6"/><circle cx="210.7" cy="808" r="1.6"/><circle cx="184.2" cy="804.7" r="1.6"/><circle cx="186.5" cy="805.7" r="1.6"/><circle cx="190.2" cy="805.4" r="1.6"/><circle cx="192.2" cy="804.6" r="1.6"/><circle cx="196.5" cy="804.6" r="1.6"/><circle cx="199.5" cy="804.9" r="1.6"/><circle cx="202.7" cy="805.8" r="1.6"/><circle cx="204.8" cy="803.9" r="1.6"/><circle cx="208.4" cy="804.4" r="1.6"/><circle cx="210.9" cy="804.9" r="1.6"/><circle cx="184.7" cy="803.6" r="1.6"/><circle cx="186.9" cy="801.5" r="1.6"/><circle cx="190.9" cy="801.6" r="1.6"/><circle cx="196.4" cy="802.6" r="1.6"/><circle cx="198.7" cy="801.9" r="1.6"/><circle cx="202.2" cy="801.6" r="1.6"/><circle cx="204.9" cy="802.8" r="1.6"/><circle cx="203.5" cy="802.3" r="1.6"/><circle cx="206.6" cy="802.8" r="1.6"/><circle cx="209.7" cy="803" r="1.6"/><circle cx="212" cy="801.6" r="1.6"/><circle cx="184.6" cy="800.3" r="1.6"/><circle cx="187.6" cy="799.4" r="1.6"/><circle cx="189" cy="799.9" r="1.6"/><circle cx="192.4" cy="799.5" r="1.6"/><circle cx="195.5" cy="799.5" r="1.6"/><circle cx="199.6" cy="801.3" r="1.6"/><circle cx="202.3" cy="799.9" r="1.6"/><circle cx="205.5" cy="801.2" r="1.6"/><circle cx="207.1" cy="800" r="1.6"/><circle cx="209.6" cy="800.4" r="1.6"/><circle cx="186.5" cy="797.4" r="1.6"/><circle cx="188.9" cy="797" r="1.6"/><circle cx="192.5" cy="799.1" r="1.6"/><circle cx="194.4" cy="798.2" r="1.6"/><circle cx="197.4" cy="798.6" r="1.6"/><circle cx="201.6" cy="797.3" r="1.6"/><circle cx="203.7" cy="797.5" r="1.6"/><circle cx="207.8" cy="797.9" r="1.6"/><circle cx="210.6" cy="798.1" r="1.6"/><circle cx="188.9" cy="795.7" r="1.6"/><circle cx="191.8" cy="796.6" r="1.6"/><circle cx="195.1" cy="796.2" r="1.6"/><circle cx="197.9" cy="795.7" r="1.6"/><circle cx="200.8" cy="797" r="1.6"/><circle cx="202.7" cy="795.7" r="1.6"/><circle cx="205.5" cy="795.5" r="1.6"/><circle cx="200.8" cy="796.6" r="1.6"/><circle cx="208.6" cy="795.8" r="1.6"/><circle cx="191.5" cy="793.1" r="1.6"/><circle cx="195.1" cy="793.1" r="1.6"/><circle cx="197" cy="794.3" r="1.6"/><circle cx="201.2" cy="793.7" r="1.6"/><circle cx="204.2" cy="793.4" r="1.6"/><circle cx="206" cy="793.1" r="1.6"/><circle cx="205.2" cy="794.5" r="1.6"/><circle cx="208.4" cy="793.7" r="1.6"/><circle cx="190" cy="790.4" r="1.6"/><circle cx="194.2" cy="792" r="1.6"/><circle cx="195.7" cy="791.1" r="1.6"/><circle cx="199.4" cy="791.8" r="1.6"/><circle cx="202.3" cy="790.7" r="1.6"/><circle cx="207.4" cy="792.2" r="1.6"/><circle cx="195" cy="792" r="1.6"/><circle cx="190" cy="790.3" r="1.6"/><circle cx="192.1" cy="789.9" r="1.6"/><circle cx="194.8" cy="790" r="1.6"/><circle cx="198.8" cy="788.5" r="1.6"/><circle cx="201.4" cy="788.4" r="1.6"/><circle cx="205.4" cy="789" r="1.6"/><circle cx="190.9" cy="788.1" r="1.6"/><circle cx="192.2" cy="786.8" r="1.6"/><circle cx="196.1" cy="787" r="1.6"/><circle cx="203.6" cy="787.8" r="1.6"/><circle cx="199" cy="786.6" r="1.6"/><circle cx="201" cy="786.7" r="1.6"/><circle cx="203.6" cy="786.4" r="1.6"/><circle cx="191.7" cy="785.4" r="1.6"/><circle cx="193.8" cy="784.1" r="1.6"/><circle cx="200" cy="785.4" r="1.6"/><circle cx="197.6" cy="785.6" r="1.6"/><circle cx="200.3" cy="784.1" r="1.6"/><circle cx="197.3" cy="783.8" r="1.6"/><circle cx="203.9" cy="784.9" r="1.6"/><circle cx="192.9" cy="782.3" r="1.6"/><circle cx="199.2" cy="783.8" r="1.6"/><circle cx="201.9" cy="781.6" r="1.6"/><circle cx="204.4" cy="781.8" r="1.6"/><circle cx="193.9" cy="780.7" r="1.6"/><circle cx="197.4" cy="780.6" r="1.6"/><circle cx="199.1" cy="781" r="1.6"/><circle cx="203.8" cy="781.2" r="1.6"/><circle cx="194" cy="777.4" r="1.6"/><circle cx="198.2" cy="777.9" r="1.6"/><circle cx="200.8" cy="777.5" r="1.6"/><circle cx="203.3" cy="778.4" r="1.6"/><circle cx="195" cy="777.2" r="1.6"/><circle cx="196.1" cy="776.8" r="1.6"/><circle cx="199.2" cy="776.3" r="1.6"/><circle cx="202.6" cy="775.2" r="1.6"/><circle cx="196.1" cy="777.3" r="1.6"/><circle cx="195.3" cy="774.3" r="1.6"/><circle cx="199.7" cy="774.6" r="1.6"/><circle cx="196.4" cy="773.8" r="1.6"/><circle cx="202.5" cy="774.1" r="1.6"/><circle cx="195.1" cy="771.3" r="1.6"/><circle cx="200.8" cy="772.7" r="1.6"/><circle cx="198.2" cy="768.7" r="1.6"/><circle cx="199.2" cy="765.5" r="1.6"/><circle cx="197.7" cy="763.2" r="1.6"/><circle cx="197" cy="756.8" r="1.6"/><circle cx="199" cy="755.1" r="1.6"/><circle cx="198.2" cy="747.1" r="1.6"/><circle cx="198.2" cy="743.1" r="1.6"/><circle cx="198.2" cy="720.9" r="1.6"/><circle cx="198.2" cy="717.8" r="1.6"/><circle cx="198.2" cy="712.3" r="1.6"/></g>
<path d="M184.7 795.3H212.5" stroke="#ff2a00" stroke-width="2.8" fill="none" stroke-opacity="0.6"/>
<path d="M310.1 653.1V829.6H448.8V653.1H303" stroke="#000" stroke-width="1.7" fill="none" stroke-linejoin="miter"/>
<text x="300.9" y="826.3" font-size="12.6" text-anchor="end" font-weight="bold" textLength="7.2" lengthAdjust="spacingAndGlyphs" stroke="#000" stroke-width="0.2">0</text>
<text x="300.9" y="792.5" font-size="12.6" text-anchor="end" font-weight="bold" textLength="28.8" lengthAdjust="spacingAndGlyphs" stroke="#000" stroke-width="0.2">2000</text>
<text x="300.9" y="758.8" font-size="12.6" text-anchor="end" font-weight="bold" textLength="28.8" lengthAdjust="spacingAndGlyphs" stroke="#000" stroke-width="0.2">4000</text>
<text x="300.9" y="725" font-size="12.6" text-anchor="end" font-weight="bold" textLength="28.8" lengthAdjust="spacingAndGlyphs" stroke="#000" stroke-width="0.2">6000</text>
<text x="300.9" y="691.3" font-size="12.6" text-anchor="end" font-weight="bold" textLength="28.8" lengthAdjust="spacingAndGlyphs" stroke="#000" stroke-width="0.2">8000</text>
<text x="300.9" y="657.5" font-size="12.6" text-anchor="end" font-weight="bold" textLength="36" lengthAdjust="spacingAndGlyphs" stroke="#000" stroke-width="0.2">10000</text>
<path d="M303 821.9H310.1M303 788.1H310.1M303 754.4H310.1M303 720.6H310.1M303 686.9H310.1M303 653.1H310.1M337.8 829.6V836.9M379.4 829.6V836.9M421 829.6V836.9" stroke="#000" stroke-width="1.7" fill="none"/>
<text x="337.8" y="850.6" font-size="12.8" text-anchor="middle" font-weight="bold" textLength="19" lengthAdjust="spacingAndGlyphs" stroke="#000" stroke-width="0.3">TT</text>
<text x="379.4" y="850.6" font-size="12.8" text-anchor="middle" font-weight="bold" textLength="19.3" lengthAdjust="spacingAndGlyphs" stroke="#000" stroke-width="0.3">CT</text>
<text x="421" y="850.6" font-size="12.8" text-anchor="middle" font-weight="bold" textLength="19.6" lengthAdjust="spacingAndGlyphs" stroke="#000" stroke-width="0.3">CC</text>
<text x="340.9" y="873.3" font-size="13.8" fill="#111" font-style="italic" textLength="75.4" lengthAdjust="spacingAndGlyphs" stroke="#111" stroke-width="0.25">rs17855739</text>
<text x="339" y="684.3" font-size="12.4" textLength="67.9" lengthAdjust="spacingAndGlyphs" stroke="#000" stroke-width="0.2">p = 1.85 x 10</text>
<text x="407.2" y="678.5" font-size="8.2" textLength="12.4" lengthAdjust="spacingAndGlyphs">-10</text>
<text transform="translate(252.2,741.6) rotate(-90)" font-size="15.4" font-weight="bold" text-anchor="middle" textLength="146.5" lengthAdjust="spacingAndGlyphs">CD15s basophil (MFI)</text>
<path d="M323.4 817.2H351.9" stroke="#ff2a00" stroke-width="2.8" fill="none"/>
<g fill="none" stroke="#000" stroke-width="1.2"><circle cx="337.8" cy="813.3" r="1.6"/><circle cx="337.8" cy="821.2" r="1.6"/></g>
<path d="M365.4 812.6H393.4" stroke="#ff2a00" stroke-width="2.8" fill="none"/>
<g fill="none" stroke="#000" stroke-width="1.2"><circle cx="367.6" cy="822.3" r="1.6"/><circle cx="370.7" cy="823" r="1.6"/><circle cx="374" cy="821.8" r="1.6"/><circle cx="377.7" cy="822" r="1.6"/><circle cx="380.6" cy="820.9" r="1.6"/><circle cx="385" cy="822.1" r="1.6"/><circle cx="388.1" cy="821" r="1.6"/><circle cx="391.3" cy="821.7" r="1.6"/><circle cx="367.1" cy="819" r="1.6"/><circle cx="370.2" cy="820.3" r="1.6"/><circle cx="375.5" cy="819.2" r="1.6"/><circle cx="378.7" cy="819.5" r="1.6"/><circle cx="384.4" cy="819.5" r="1.6"/><circle cx="391.8" cy="819" r="1.6"/><circle cx="367.7" cy="816.6" r="1.6"/><circle cx="376.8" cy="816.9" r="1.6"/><circle cx="380.3" cy="816.3" r="1.6"/><circle cx="384.4" cy="816.2" r="1.6"/><circle cx="386.6" cy="816.2" r="1.6"/><circle cx="389.1" cy="817.2" r="1.6"/><circle cx="391.9" cy="816" r="1.6"/><circle cx="367" cy="814.9" r="1.6"/><circle cx="370.3" cy="814.3" r="1.6"/><circle cx="372.1" cy="814.9" r="1.6"/><circle cx="375.2" cy="814.8" r="1.6"/><circle cx="379.3" cy="815.2" r="1.6"/><circle cx="381.7" cy="815.3" r="1.6"/><circle cx="385.6" cy="813.5" r="1.6"/><circle cx="388.6" cy="814.5" r="1.6"/><circle cx="391.2" cy="813.9" r="1.6"/><circle cx="366.1" cy="811.3" r="1.6"/><circle cx="368.1" cy="812.8" r="1.6"/><circle cx="375.7" cy="811.6" r="1.6"/><circle cx="377.6" cy="812" r="1.6"/><circle cx="381.9" cy="812.5" r="1.6"/><circle cx="385.5" cy="812.3" r="1.6"/><circle cx="387.2" cy="812.5" r="1.6"/><circle cx="390.5" cy="811.8" r="1.6"/><circle cx="369.5" cy="809.4" r="1.6"/><circle cx="373.4" cy="808.4" r="1.6"/><circle cx="377" cy="810.2" r="1.6"/><circle cx="379.1" cy="809.4" r="1.6"/><circle cx="383" cy="810.1" r="1.6"/><circle cx="387" cy="809.5" r="1.6"/><circle cx="389.5" cy="809" r="1.6"/><circle cx="370.9" cy="806.4" r="1.6"/><circle cx="376.6" cy="806.4" r="1.6"/><circle cx="381.3" cy="807.5" r="1.6"/><circle cx="383.5" cy="806.3" r="1.6"/><circle cx="374" cy="803.6" r="1.6"/><circle cx="375.1" cy="803.8" r="1.6"/><circle cx="379.1" cy="804" r="1.6"/><circle cx="377.4" cy="801.3" r="1.6"/><circle cx="380.5" cy="801.8" r="1.6"/><circle cx="384.1" cy="803" r="1.6"/><circle cx="376.9" cy="798.4" r="1.6"/><circle cx="380.7" cy="799.6" r="1.6"/><circle cx="378.4" cy="792.4" r="1.6"/><circle cx="380.4" cy="790.7" r="1.6"/><circle cx="379.4" cy="776.3" r="1.6"/><circle cx="379.4" cy="710.5" r="1.6"/></g>
<path d="M406.3 796.7H435" stroke="#ff2a00" stroke-width="2.8" fill="none"/>
<g fill="none" stroke="#000" stroke-width="1.2"><circle cx="414.7" cy="821.6" r="1.6"/><circle cx="416.4" cy="821.2" r="1.6"/><circle cx="418.9" cy="821.3" r="1.6"/><circle cx="422.2" cy="823" r="1.6"/><circle cx="424.5" cy="821.6" r="1.6"/><circle cx="423.1" cy="821.6" r="1.6"/><circle cx="426.9" cy="821.2" r="1.6"/><circle cx="412.8" cy="819.2" r="1.6"/><circle cx="416.1" cy="819.4" r="1.6"/><circle cx="418.8" cy="818.6" r="1.6"/><circle cx="419.8" cy="820.5" r="1.6"/><circle cx="423.6" cy="818.7" r="1.6"/><circle cx="425.4" cy="818.9" r="1.6"/><circle cx="410.7" cy="816.7" r="1.6"/><circle cx="414" cy="817.9" r="1.6"/><circle cx="415.8" cy="818" r="1.6"/><circle cx="420" cy="816.9" r="1.6"/><circle cx="421.4" cy="816.5" r="1.6"/><circle cx="423.1" cy="817.7" r="1.6"/><circle cx="425.9" cy="817.1" r="1.6"/><circle cx="427" cy="817.9" r="1.6"/><circle cx="431.3" cy="816.9" r="1.6"/><circle cx="409.1" cy="814.3" r="1.6"/><circle cx="411.5" cy="814.8" r="1.6"/><circle cx="414.3" cy="814.6" r="1.6"/><circle cx="416.3" cy="815" r="1.6"/><circle cx="420.2" cy="815.7" r="1.6"/><circle cx="421.9" cy="815.1" r="1.6"/><circle cx="427.6" cy="815.3" r="1.6"/><circle cx="431.1" cy="814.8" r="1.6"/><circle cx="418.2" cy="816.3" r="1.6"/><circle cx="409.7" cy="812.4" r="1.6"/><circle cx="413.3" cy="812.8" r="1.6"/><circle cx="415.9" cy="813.4" r="1.6"/><circle cx="418" cy="812.6" r="1.6"/><circle cx="420.9" cy="814" r="1.6"/><circle cx="414.1" cy="813.1" r="1.6"/><circle cx="423.8" cy="814.1" r="1.6"/><circle cx="426.5" cy="813.5" r="1.6"/><circle cx="432.7" cy="812.5" r="1.6"/><circle cx="409.5" cy="811" r="1.6"/><circle cx="411.9" cy="810.6" r="1.6"/><circle cx="415.8" cy="811.3" r="1.6"/><circle cx="419" cy="810.2" r="1.6"/><circle cx="421.5" cy="810.6" r="1.6"/><circle cx="424.5" cy="810.3" r="1.6"/><circle cx="426.7" cy="810.9" r="1.6"/><circle cx="408" cy="808.6" r="1.6"/><circle cx="409.7" cy="809.5" r="1.6"/><circle cx="416" cy="809.4" r="1.6"/><circle cx="418.2" cy="809.2" r="1.6"/><circle cx="422.1" cy="809.5" r="1.6"/><circle cx="424.1" cy="809.2" r="1.6"/><circle cx="427.7" cy="807.9" r="1.6"/><circle cx="429.2" cy="808" r="1.6"/><circle cx="422.7" cy="809.8" r="1.6"/><circle cx="431.8" cy="809.1" r="1.6"/><circle cx="409.5" cy="807.6" r="1.6"/><circle cx="425.4" cy="805.5" r="1.6"/><circle cx="414.7" cy="807.6" r="1.6"/><circle cx="416" cy="806.6" r="1.6"/><circle cx="419.5" cy="807.2" r="1.6"/><circle cx="422.5" cy="806.8" r="1.6"/><circle cx="425.3" cy="806.9" r="1.6"/><circle cx="427.6" cy="805.8" r="1.6"/><circle cx="430.7" cy="806.5" r="1.6"/><circle cx="433" cy="806.6" r="1.6"/><circle cx="407.8" cy="804.3" r="1.6"/><circle cx="410.3" cy="803.3" r="1.6"/><circle cx="413.2" cy="803.6" r="1.6"/><circle cx="416.3" cy="805.1" r="1.6"/><circle cx="420.5" cy="804.1" r="1.6"/><circle cx="422" cy="804.7" r="1.6"/><circle cx="422.2" cy="805.3" r="1.6"/><circle cx="425.5" cy="805" r="1.6"/><circle cx="427.4" cy="803.6" r="1.6"/><circle cx="434.4" cy="803.9" r="1.6"/><circle cx="408.4" cy="801" r="1.6"/><circle cx="410.8" cy="802.6" r="1.6"/><circle cx="413.7" cy="802.7" r="1.6"/><circle cx="416.7" cy="801.9" r="1.6"/><circle cx="419.4" cy="801.1" r="1.6"/><circle cx="421.1" cy="801.8" r="1.6"/><circle cx="423.8" cy="802.4" r="1.6"/><circle cx="427.7" cy="801.7" r="1.6"/><circle cx="417.7" cy="802.7" r="1.6"/><circle cx="430.2" cy="802.2" r="1.6"/><circle cx="431.5" cy="801.3" r="1.6"/><circle cx="411.6" cy="799.5" r="1.6"/><circle cx="414.1" cy="800.7" r="1.6"/><circle cx="416.9" cy="801" r="1.6"/><circle cx="420.2" cy="799.7" r="1.6"/><circle cx="423.4" cy="800.3" r="1.6"/><circle cx="426.2" cy="799.6" r="1.6"/><circle cx="430.2" cy="799.6" r="1.6"/><circle cx="433.2" cy="800.8" r="1.6"/><circle cx="409.8" cy="796.9" r="1.6"/><circle cx="412.4" cy="798.1" r="1.6"/><circle cx="414.9" cy="797.9" r="1.6"/><circle cx="417.3" cy="798" r="1.6"/><circle cx="421.5" cy="798.6" r="1.6"/><circle cx="425.3" cy="798.2" r="1.6"/><circle cx="428.2" cy="797.5" r="1.6"/><circle cx="431.2" cy="797.7" r="1.6"/><circle cx="433.2" cy="798.7" r="1.6"/><circle cx="411.8" cy="794.5" r="1.6"/><circle cx="412.9" cy="796.2" r="1.6"/><circle cx="417" cy="794.8" r="1.6"/><circle cx="418" cy="795.6" r="1.6"/><circle cx="421.1" cy="796.2" r="1.6"/><circle cx="424.5" cy="796.4" r="1.6"/><circle cx="426.8" cy="794.6" r="1.6"/><circle cx="418.3" cy="796.4" r="1.6"/><circle cx="429" cy="794.8" r="1.6"/><circle cx="432.4" cy="796.4" r="1.6"/><circle cx="429.5" cy="794.8" r="1.6"/><circle cx="412" cy="792.6" r="1.6"/><circle cx="413.2" cy="792.9" r="1.6"/><circle cx="416.6" cy="793.5" r="1.6"/><circle cx="419.1" cy="793.7" r="1.6"/><circle cx="421.8" cy="794.3" r="1.6"/><circle cx="424.8" cy="794.4" r="1.6"/><circle cx="428" cy="792.9" r="1.6"/><circle cx="431.3" cy="793.1" r="1.6"/><circle cx="412.1" cy="792.1" r="1.6"/><circle cx="414.4" cy="791.3" r="1.6"/><circle cx="417.4" cy="791.9" r="1.6"/><circle cx="421.7" cy="790.9" r="1.6"/><circle cx="423.6" cy="790.1" r="1.6"/><circle cx="426.4" cy="792.1" r="1.6"/><circle cx="429.8" cy="790.5" r="1.6"/><circle cx="412.7" cy="788.7" r="1.6"/><circle cx="416.2" cy="789.1" r="1.6"/><circle cx="420.7" cy="788.6" r="1.6"/><circle cx="425.1" cy="788.6" r="1.6"/><circle cx="426.8" cy="789.2" r="1.6"/><circle cx="413.3" cy="787.1" r="1.6"/><circle cx="417.4" cy="787.8" r="1.6"/><circle cx="419.6" cy="787.1" r="1.6"/><circle cx="424.8" cy="787" r="1.6"/><circle cx="427.3" cy="786.4" r="1.6"/><circle cx="413.8" cy="783.8" r="1.6"/><circle cx="417.9" cy="784" r="1.6"/><circle cx="421.3" cy="783.7" r="1.6"/><circle cx="428.2" cy="785.4" r="1.6"/><circle cx="419.4" cy="784.6" r="1.6"/><circle cx="415.6" cy="781.9" r="1.6"/><circle cx="418.2" cy="781.5" r="1.6"/><circle cx="421.1" cy="781.8" r="1.6"/><circle cx="420.5" cy="782.1" r="1.6"/><circle cx="418.2" cy="782.2" r="1.6"/><circle cx="424.1" cy="783.1" r="1.6"/><circle cx="426.5" cy="783.3" r="1.6"/><circle cx="416" cy="781.1" r="1.6"/><circle cx="421.5" cy="780.6" r="1.6"/><circle cx="423.7" cy="779.1" r="1.6"/><circle cx="427.1" cy="780.4" r="1.6"/><circle cx="415.4" cy="777.4" r="1.6"/><circle cx="417.7" cy="777.9" r="1.6"/><circle cx="422.4" cy="778" r="1.6"/><circle cx="424.6" cy="777.5" r="1.6"/><circle cx="415.9" cy="775.6" r="1.6"/><circle cx="418.8" cy="774.7" r="1.6"/><circle cx="425.1" cy="775.5" r="1.6"/><circle cx="416.5" cy="773.5" r="1.6"/><circle cx="419.7" cy="772.4" r="1.6"/><circle cx="422.7" cy="773.7" r="1.6"/><circle cx="417" cy="770.9" r="1.6"/><circle cx="420.2" cy="771.3" r="1.6"/><circle cx="423.1" cy="770.4" r="1.6"/><circle cx="417.9" cy="769.9" r="1.6"/><circle cx="423" cy="768.2" r="1.6"/><circle cx="419.9" cy="767.6" r="1.6"/><circle cx="422.5" cy="767.5" r="1.6"/><circle cx="421.3" cy="767" r="1.6"/><circle cx="421" cy="763.7" r="1.6"/><circle cx="420.5" cy="761.5" r="1.6"/><circle cx="422.5" cy="756.9" r="1.6"/><circle cx="421.5" cy="755.6" r="1.6"/><circle cx="420.5" cy="754.4" r="1.6"/><circle cx="421" cy="745.9" r="1.6"/><circle cx="421" cy="741.7" r="1.6"/><circle cx="421" cy="718.9" r="1.6"/><circle cx="421" cy="716.4" r="1.6"/></g>
<path d="M406.3 796.7H435" stroke="#ff2a00" stroke-width="2.8" fill="none" stroke-opacity="0.6"/>
<path d="M530.3 655.2V832.4H669.8V655.2H523.2" stroke="#000" stroke-width="1.7" fill="none" stroke-linejoin="miter"/>
<text x="521.1" y="827.5" font-size="12.6" text-anchor="end" font-weight="bold" textLength="7.2" lengthAdjust="spacingAndGlyphs" stroke="#000" stroke-width="0.2">0</text>
<text x="521.1" y="793.9" font-size="12.6" text-anchor="end" font-weight="bold" textLength="28.8" lengthAdjust="spacingAndGlyphs" stroke="#000" stroke-width="0.2">2000</text>
<text x="521.1" y="760.3" font-size="12.6" text-anchor="end" font-weight="bold" textLength="28.8" lengthAdjust="spacingAndGlyphs" stroke="#000" stroke-width="0.2">4000</text>
<text x="521.1" y="726.8" font-size="12.6" text-anchor="end" font-weight="bold" textLength="28.8" lengthAdjust="spacingAndGlyphs" stroke="#000" stroke-width="0.2">6000</text>
<text x="521.1" y="693.2" font-size="12.6" text-anchor="end" font-weight="bold" textLength="28.8" lengthAdjust="spacingAndGlyphs" stroke="#000" stroke-width="0.2">8000</text>
<text x="521.1" y="659.6" font-size="12.6" text-anchor="end" font-weight="bold" textLength="36" lengthAdjust="spacingAndGlyphs" stroke="#000" stroke-width="0.2">10000</text>
<path d="M523.2 823.1H530.3M523.2 789.5H530.3M523.2 755.9H530.3M523.2 722.4H530.3M523.2 688.8H530.3M523.2 655.2H530.3M557.7 832.4V839.7M599.7 832.4V839.7M641.3 832.4V839.7" stroke="#000" stroke-width="1.7" fill="none"/>
<text x="557.7" y="853" font-size="12.8" text-anchor="middle" font-weight="bold" textLength="18.6" lengthAdjust="spacingAndGlyphs" stroke="#000" stroke-width="0.3">GT</text>
<text x="599.7" y="853" font-size="12.8" text-anchor="middle" font-weight="bold" textLength="19.6" lengthAdjust="spacingAndGlyphs" stroke="#000" stroke-width="0.3">GG</text>
<text x="641.2" y="853" font-size="12.8" text-anchor="middle" font-weight="bold" textLength="45.6" lengthAdjust="spacingAndGlyphs" stroke="#000" stroke-width="0.3">EMPTY</text>
<text x="557.7" y="874.5" font-size="13.8" fill="#111" font-style="italic" textLength="84.1" lengthAdjust="spacingAndGlyphs" stroke="#111" stroke-width="0.25">rs145035679</text>
<text x="561.1" y="686" font-size="12.4" textLength="67.4" lengthAdjust="spacingAndGlyphs" stroke="#000" stroke-width="0.2">p = 3.34 x 10</text>
<text x="628.8" y="680.2" font-size="8.2" textLength="8.2" lengthAdjust="spacingAndGlyphs">-6</text>
<text transform="translate(473.8,743.6) rotate(-90)" font-size="15.4" font-weight="bold" text-anchor="middle" textLength="146.5" lengthAdjust="spacingAndGlyphs">CD15s basophil (MFI)</text>
<path d="M543.7 812.6H571.7" stroke="#ff2a00" stroke-width="2.8" fill="none"/>
<g fill="none" stroke="#000" stroke-width="1.2"><circle cx="555.4" cy="801.9" r="1.6"/><circle cx="556.9" cy="802.4" r="1.6"/><circle cx="561.1" cy="801.8" r="1.6"/><circle cx="550.9" cy="806.1" r="1.6"/><circle cx="555.6" cy="806" r="1.6"/><circle cx="560.5" cy="806.4" r="1.6"/><circle cx="563" cy="806.2" r="1.6"/><circle cx="553.6" cy="808.6" r="1.6"/><circle cx="557.5" cy="808.1" r="1.6"/><circle cx="561.6" cy="807.6" r="1.6"/><circle cx="547.9" cy="811" r="1.6"/><circle cx="551" cy="810" r="1.6"/><circle cx="556.2" cy="810.9" r="1.6"/><circle cx="559.8" cy="810" r="1.6"/><circle cx="563.1" cy="810.3" r="1.6"/><circle cx="567.9" cy="810.7" r="1.6"/><circle cx="545.9" cy="813.9" r="1.6"/><circle cx="548.6" cy="814.5" r="1.6"/><circle cx="552.7" cy="813.8" r="1.6"/><circle cx="556.3" cy="814.4" r="1.6"/><circle cx="559" cy="814.3" r="1.6"/><circle cx="563" cy="814.7" r="1.6"/><circle cx="567.4" cy="814.4" r="1.6"/><circle cx="570.5" cy="814.2" r="1.6"/><circle cx="552.1" cy="817.4" r="1.6"/><circle cx="556.1" cy="817.5" r="1.6"/><circle cx="559.8" cy="817.5" r="1.6"/><circle cx="563.5" cy="817.5" r="1.6"/><circle cx="551" cy="822.6" r="1.6"/><circle cx="555.2" cy="822.3" r="1.6"/><circle cx="559.3" cy="823" r="1.6"/><circle cx="563" cy="822.6" r="1.6"/><circle cx="557.7" cy="792.4" r="1.6"/></g>
<path d="M585.7 798.5H613.8" stroke="#ff2a00" stroke-width="2.8" fill="none"/>
<g fill="none" stroke="#000" stroke-width="1.2"><circle cx="593.3" cy="823.5" r="1.6"/><circle cx="597.2" cy="823.3" r="1.6"/><circle cx="602.4" cy="823.6" r="1.6"/><circle cx="605.8" cy="824.1" r="1.6"/><circle cx="590.7" cy="821.6" r="1.6"/><circle cx="597.1" cy="821.9" r="1.6"/><circle cx="596.9" cy="821.1" r="1.6"/><circle cx="600.6" cy="821.6" r="1.6"/><circle cx="603.1" cy="820.4" r="1.6"/><circle cx="605.5" cy="820.2" r="1.6"/><circle cx="608.7" cy="821.9" r="1.6"/><circle cx="588.9" cy="818.4" r="1.6"/><circle cx="590.6" cy="818.3" r="1.6"/><circle cx="600.4" cy="818.3" r="1.6"/><circle cx="593.4" cy="818.1" r="1.6"/><circle cx="596.2" cy="818.4" r="1.6"/><circle cx="598.7" cy="819.7" r="1.6"/><circle cx="602.2" cy="819.4" r="1.6"/><circle cx="605.8" cy="819.5" r="1.6"/><circle cx="610.1" cy="819.5" r="1.6"/><circle cx="587.7" cy="817.8" r="1.6"/><circle cx="589.6" cy="816.2" r="1.6"/><circle cx="593.7" cy="817.1" r="1.6"/><circle cx="607.7" cy="815.8" r="1.6"/><circle cx="594.6" cy="817.9" r="1.6"/><circle cx="597.3" cy="817.2" r="1.6"/><circle cx="590.4" cy="817" r="1.6"/><circle cx="601.4" cy="817.6" r="1.6"/><circle cx="602.8" cy="816.9" r="1.6"/><circle cx="606.2" cy="816.8" r="1.6"/><circle cx="609" cy="816.8" r="1.6"/><circle cx="599.4" cy="816.9" r="1.6"/><circle cx="612.1" cy="816" r="1.6"/><circle cx="587.3" cy="815.7" r="1.6"/><circle cx="589.7" cy="815.7" r="1.6"/><circle cx="599.5" cy="814.9" r="1.6"/><circle cx="591.8" cy="814.9" r="1.6"/><circle cx="594.2" cy="815.7" r="1.6"/><circle cx="591.6" cy="815.6" r="1.6"/><circle cx="595.7" cy="813.7" r="1.6"/><circle cx="599.4" cy="814.9" r="1.6"/><circle cx="600.9" cy="813.7" r="1.6"/><circle cx="605.3" cy="814.5" r="1.6"/><circle cx="606.1" cy="815.3" r="1.6"/><circle cx="609.8" cy="814.3" r="1.6"/><circle cx="611.8" cy="815.5" r="1.6"/><circle cx="585.6" cy="813.2" r="1.6"/><circle cx="588.4" cy="812.1" r="1.6"/><circle cx="591.6" cy="811.9" r="1.6"/><circle cx="593.1" cy="813.1" r="1.6"/><circle cx="596.3" cy="811.7" r="1.6"/><circle cx="598.3" cy="812.4" r="1.6"/><circle cx="601.3" cy="813.5" r="1.6"/><circle cx="603.6" cy="813.2" r="1.6"/><circle cx="607.8" cy="812.3" r="1.6"/><circle cx="610.4" cy="812.5" r="1.6"/><circle cx="585.4" cy="811.4" r="1.6"/><circle cx="593.2" cy="811.4" r="1.6"/><circle cx="589.6" cy="810.2" r="1.6"/><circle cx="591.9" cy="811.5" r="1.6"/><circle cx="594.6" cy="811.3" r="1.6"/><circle cx="596.8" cy="810.2" r="1.6"/><circle cx="594.7" cy="811.6" r="1.6"/><circle cx="602.1" cy="809.5" r="1.6"/><circle cx="604.4" cy="810.6" r="1.6"/><circle cx="608.6" cy="810.6" r="1.6"/><circle cx="610.2" cy="809.6" r="1.6"/><circle cx="614" cy="810.5" r="1.6"/><circle cx="585.8" cy="809" r="1.6"/><circle cx="588.8" cy="809.2" r="1.6"/><circle cx="592.3" cy="809.5" r="1.6"/><circle cx="605.3" cy="808.2" r="1.6"/><circle cx="595.9" cy="808.9" r="1.6"/><circle cx="602.7" cy="808.4" r="1.6"/><circle cx="604" cy="807.3" r="1.6"/><circle cx="610.3" cy="808.1" r="1.6"/><circle cx="612.3" cy="808.1" r="1.6"/><circle cx="587" cy="806.2" r="1.6"/><circle cx="589.2" cy="807.3" r="1.6"/><circle cx="591.9" cy="806.3" r="1.6"/><circle cx="594.8" cy="806.8" r="1.6"/><circle cx="597.7" cy="807.3" r="1.6"/><circle cx="601.7" cy="806" r="1.6"/><circle cx="605.1" cy="806.3" r="1.6"/><circle cx="609.5" cy="806.5" r="1.6"/><circle cx="612" cy="806.3" r="1.6"/><circle cx="587.2" cy="804.1" r="1.6"/><circle cx="605.6" cy="803.5" r="1.6"/><circle cx="591.1" cy="803.7" r="1.6"/><circle cx="593" cy="804.3" r="1.6"/><circle cx="595.9" cy="803.7" r="1.6"/><circle cx="598.3" cy="803.5" r="1.6"/><circle cx="602" cy="805.3" r="1.6"/><circle cx="604.8" cy="804.7" r="1.6"/><circle cx="606.2" cy="804.9" r="1.6"/><circle cx="610.5" cy="803.2" r="1.6"/><circle cx="612.5" cy="804.4" r="1.6"/><circle cx="588.1" cy="802.5" r="1.6"/><circle cx="608.7" cy="803" r="1.6"/><circle cx="591.3" cy="802.5" r="1.6"/><circle cx="595.1" cy="801.3" r="1.6"/><circle cx="601.3" cy="802.7" r="1.6"/><circle cx="604.6" cy="802.4" r="1.6"/><circle cx="606.2" cy="801.1" r="1.6"/><circle cx="608.9" cy="802.4" r="1.6"/><circle cx="611.9" cy="801.7" r="1.6"/><circle cx="588.4" cy="801" r="1.6"/><circle cx="591.6" cy="799.5" r="1.6"/><circle cx="594.5" cy="800.6" r="1.6"/><circle cx="596.3" cy="800" r="1.6"/><circle cx="606.1" cy="800.1" r="1.6"/><circle cx="599.5" cy="799.4" r="1.6"/><circle cx="601.2" cy="799.6" r="1.6"/><circle cx="591.8" cy="799.6" r="1.6"/><circle cx="605.5" cy="800.3" r="1.6"/><circle cx="606.7" cy="799.9" r="1.6"/><circle cx="609.9" cy="800.4" r="1.6"/><circle cx="590.6" cy="798.8" r="1.6"/><circle cx="593.6" cy="798" r="1.6"/><circle cx="594.5" cy="797.1" r="1.6"/><circle cx="598.9" cy="798.4" r="1.6"/><circle cx="601.6" cy="798.4" r="1.6"/><circle cx="603.3" cy="797.8" r="1.6"/><circle cx="606.2" cy="797" r="1.6"/><circle cx="609.9" cy="797.1" r="1.6"/><circle cx="590.2" cy="796.1" r="1.6"/><circle cx="592.1" cy="796.3" r="1.6"/><circle cx="593" cy="795.7" r="1.6"/><circle cx="601.1" cy="794.9" r="1.6"/><circle cx="603.9" cy="796" r="1.6"/><circle cx="605.7" cy="795.4" r="1.6"/><circle cx="609.3" cy="795.6" r="1.6"/><circle cx="592.6" cy="794.2" r="1.6"/><circle cx="594.7" cy="793.6" r="1.6"/><circle cx="597.5" cy="793.3" r="1.6"/><circle cx="600.5" cy="794.5" r="1.6"/><circle cx="604.3" cy="794.7" r="1.6"/><circle cx="606.7" cy="794.2" r="1.6"/><circle cx="608.8" cy="794" r="1.6"/><circle cx="591.4" cy="792.2" r="1.6"/><circle cx="594.5" cy="792.1" r="1.6"/><circle cx="598.7" cy="792.3" r="1.6"/><circle cx="598.2" cy="791" r="1.6"/><circle cx="600.4" cy="792.5" r="1.6"/><circle cx="600.7" cy="792.4" r="1.6"/><circle cx="604" cy="791.8" r="1.6"/><circle cx="607.9" cy="791.8" r="1.6"/><circle cx="593.3" cy="790.6" r="1.6"/><circle cx="602.8" cy="789.1" r="1.6"/><circle cx="597" cy="789" r="1.6"/><circle cx="598.7" cy="788.8" r="1.6"/><circle cx="601.9" cy="789" r="1.6"/><circle cx="603.6" cy="789.7" r="1.6"/><circle cx="607.2" cy="789.7" r="1.6"/><circle cx="592.5" cy="787" r="1.6"/><circle cx="596.1" cy="787.1" r="1.6"/><circle cx="598.1" cy="786.4" r="1.6"/><circle cx="599.9" cy="787" r="1.6"/><circle cx="602.8" cy="786.7" r="1.6"/><circle cx="595.3" cy="788.1" r="1.6"/><circle cx="605.6" cy="787.4" r="1.6"/><circle cx="592.9" cy="784.7" r="1.6"/><circle cx="595" cy="786.1" r="1.6"/><circle cx="598.1" cy="785.2" r="1.6"/><circle cx="601.9" cy="786.4" r="1.6"/><circle cx="605.1" cy="784.5" r="1.6"/><circle cx="593.1" cy="783.9" r="1.6"/><circle cx="595.6" cy="782.9" r="1.6"/><circle cx="600.2" cy="784" r="1.6"/><circle cx="601.7" cy="783.7" r="1.6"/><circle cx="601.6" cy="782.1" r="1.6"/><circle cx="605.5" cy="783.4" r="1.6"/><circle cx="595.3" cy="782.8" r="1.6"/><circle cx="595.9" cy="780.1" r="1.6"/><circle cx="595.3" cy="781.6" r="1.6"/><circle cx="597.4" cy="781.5" r="1.6"/><circle cx="600.7" cy="780.6" r="1.6"/><circle cx="603.4" cy="780.5" r="1.6"/><circle cx="605.5" cy="780.7" r="1.6"/><circle cx="594.5" cy="778.9" r="1.6"/><circle cx="597.3" cy="779.6" r="1.6"/><circle cx="599.6" cy="779" r="1.6"/><circle cx="601.9" cy="778.9" r="1.6"/><circle cx="605.3" cy="779.9" r="1.6"/><circle cx="594.1" cy="777.6" r="1.6"/><circle cx="596" cy="777.7" r="1.6"/><circle cx="600.5" cy="777.4" r="1.6"/><circle cx="603.6" cy="777.7" r="1.6"/><circle cx="595.3" cy="774.2" r="1.6"/><circle cx="599.2" cy="774.4" r="1.6"/><circle cx="603.3" cy="773.9" r="1.6"/><circle cx="595.5" cy="771.8" r="1.6"/><circle cx="598.5" cy="773.3" r="1.6"/><circle cx="601.6" cy="772.6" r="1.6"/><circle cx="597.1" cy="770.7" r="1.6"/><circle cx="600.4" cy="769.5" r="1.6"/><circle cx="602.3" cy="769.7" r="1.6"/><circle cx="597.2" cy="767.6" r="1.6"/><circle cx="601.9" cy="769" r="1.6"/><circle cx="599.7" cy="766" r="1.6"/><circle cx="599.7" cy="764.3" r="1.6"/><circle cx="598.2" cy="759.3" r="1.6"/><circle cx="599.7" cy="757.6" r="1.6"/><circle cx="601.2" cy="755.9" r="1.6"/><circle cx="599.7" cy="749.2" r="1.6"/><circle cx="599.7" cy="744.2" r="1.6"/><circle cx="599.7" cy="722.4" r="1.6"/><circle cx="599.7" cy="719.8" r="1.6"/></g>
<path d="M585.7 798.5H613.8" stroke="#ff2a00" stroke-width="2.8" fill="none" stroke-opacity="0.6"/>
<path d="M627.3 806.7H655.3" stroke="#ff2a00" stroke-width="2.8" fill="none"/>
<g fill="none" stroke="#000" stroke-width="1.2"><circle cx="641.3" cy="712.2" r="1.6"/><circle cx="641.3" cy="778.2" r="1.6"/><circle cx="641.3" cy="794.6" r="1.6"/><circle cx="641.3" cy="810.2" r="1.6"/><circle cx="629" cy="815.6" r="1.6"/><circle cx="634.3" cy="816.2" r="1.6"/><circle cx="644.1" cy="815.6" r="1.6"/><circle cx="648.8" cy="815" r="1.6"/><circle cx="653.5" cy="814.6" r="1.6"/><circle cx="639" cy="818.6" r="1.6"/><circle cx="633.6" cy="822.6" r="1.6"/><circle cx="639" cy="822.6" r="1.6"/><circle cx="643.7" cy="822.6" r="1.6"/><circle cx="648.8" cy="822.6" r="1.6"/><circle cx="629.5" cy="819.5" r="1.6"/></g>
</svg>
</body></html>
